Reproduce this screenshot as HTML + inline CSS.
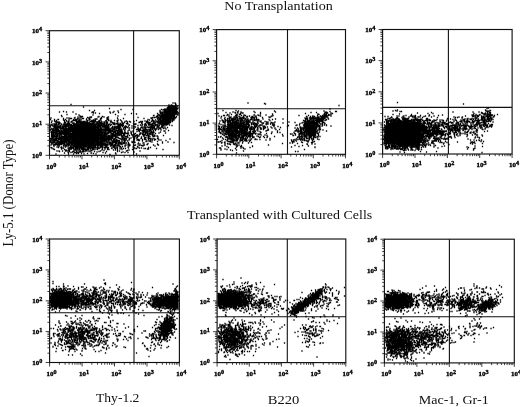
<!DOCTYPE html>
<html><head><meta charset="utf-8"><title>Figure</title>
<style>html,body{margin:0;padding:0;background:#fff}svg{display:block}</style>
</head><body>
<svg width="520" height="407" viewBox="0 0 520 407">
<rect width="520" height="407" fill="#fff"/>
<g stroke="#111" fill="none">
<rect x="49.5" y="30.7" width="129.8" height="124.6" stroke-width="1.15"/>
<path d="M49.5 105.7H179.3M133.6 30.7V155.3" stroke-width="1.1"/>
<path d="M49.5 155.3v4M49.5 155.3h-4M59.3 155.3v2.2M49.5 145.9h-2.2M65 155.3v2.2M49.5 140.4h-2.2M69 155.3v2.2M49.5 136.5h-2.2M72.2 155.3v2.2M49.5 133.5h-2.2M74.8 155.3v2.2M49.5 131.1h-2.2M76.9 155.3v2.2M49.5 129h-2.2M78.8 155.3v2.2M49.5 127.2h-2.2M80.5 155.3v2.2M49.5 125.6h-2.2M82 155.3v4M49.5 124.2h-4M91.7 155.3v2.2M49.5 114.8h-2.2M97.4 155.3v2.2M49.5 109.3h-2.2M101.5 155.3v2.2M49.5 105.4h-2.2M104.6 155.3v2.2M49.5 102.4h-2.2M107.2 155.3v2.2M49.5 99.9h-2.2M109.4 155.3v2.2M49.5 97.8h-2.2M111.3 155.3v2.2M49.5 96h-2.2M112.9 155.3v2.2M49.5 94.4h-2.2M114.4 155.3v4M49.5 93h-4M124.2 155.3v2.2M49.5 83.6h-2.2M129.9 155.3v2.2M49.5 78.1h-2.2M133.9 155.3v2.2M49.5 74.2h-2.2M137.1 155.3v2.2M49.5 71.2h-2.2M139.7 155.3v2.2M49.5 68.8h-2.2M141.8 155.3v2.2M49.5 66.7h-2.2M143.7 155.3v2.2M49.5 64.9h-2.2M145.4 155.3v2.2M49.5 63.3h-2.2M146.9 155.3v4M49.5 61.9h-4M156.6 155.3v2.2M49.5 52.5h-2.2M162.3 155.3v2.2M49.5 47h-2.2M166.4 155.3v2.2M49.5 43.1h-2.2M169.5 155.3v2.2M49.5 40.1h-2.2M172.1 155.3v2.2M49.5 37.6h-2.2M174.3 155.3v2.2M49.5 35.5h-2.2M176.2 155.3v2.2M49.5 33.7h-2.2M177.8 155.3v2.2M49.5 32.1h-2.2M179.3 155.3v4M49.5 30.7h-4" stroke-width="0.8"/>
</g>
<g font-family="'Liberation Serif',serif" font-weight="bold" font-size="7" fill="#000" stroke="#000" stroke-width="0.35">
<text x="46.3" y="168.5">10<tspan dy="-2" font-size="6.2">0</tspan></text>
<text x="32.1" y="158">10<tspan dy="-2" font-size="6.2">0</tspan></text>
<text x="78.8" y="168.5">10<tspan dy="-2" font-size="6.2">1</tspan></text>
<text x="32.1" y="126.9">10<tspan dy="-2" font-size="6.2">1</tspan></text>
<text x="111.2" y="168.5">10<tspan dy="-2" font-size="6.2">2</tspan></text>
<text x="32.1" y="95.7">10<tspan dy="-2" font-size="6.2">2</tspan></text>
<text x="143.7" y="168.5">10<tspan dy="-2" font-size="6.2">3</tspan></text>
<text x="32.1" y="64.6">10<tspan dy="-2" font-size="6.2">3</tspan></text>
<text x="176.1" y="168.5">10<tspan dy="-2" font-size="6.2">4</tspan></text>
<text x="32.1" y="33.4">10<tspan dy="-2" font-size="6.2">4</tspan></text>
</g>
<path d="M173 103zm2 0zm.5 .5zm-104.5 1zm104.5 0zm.5 0zm-4.5 .5zm-2.5 0zm2 .5zm1.5 0zm3 0zm2 .5zm-1.5 0zm-.5 0zm-2.5 0zm-4.5 .5zm1 0zm2 0zm2.5 0zm1 0zm1 .5zm-1 0zm-3 0zm-.5 0zm-.5 0zm-1 0zm-86.5 0zm84 .5zm.5 0zm3.5 0zm.5 0zm1.5 0zm1 0zm.5 0zm1.5 0zm1.5 .5zm-2.5 0zm-1 0zm-.5 0zm-1 0zm-.5 0zm-2 0zm-1 0zm-1 0zm-59 .5zm57.5 0zm3.5 0zm.5 0zm.5 0zm1 0zm.5 0zm.5 0zm.5 0zm1 0zm1 0zm1.5 0zm-.5 .5zm-2 0zm-.5 0zm-.5 0zm-1.5 0zm-1.5 0zm-.5 0zm-1.5 0zm-.5 0zm-.5 0zm-3 0zm-44 .5zm12 0zm28.5 0zm2.5 0zm1.5 0zm1.5 0zm.5 0zm1 0zm.5 0zm.5 0zm1 0zm.5 0zm1 0zm.5 0zm1.5 0zm1 0zm.5 0zm1.5 0zm-.5 .5zm-2.5 0zm-1 0zm-.5 0zm-.5 0zm-.5 0zm-.5 0zm-.5 0zm-1 0zm-1.5 0zm-.5 0zm-1 0zm-1.5 0zm-2 0zm-73.5 .5zm5 0zm65.5 0zm6.5 0zm.5 0zm1.5 0zm.5 0zm1 0zm.5 0zm1.5 0zm.5 0zm.5 0zm.5 0zm.5 0zm1 0zm.5 0zm-.5 .5zm-2 0zm-.5 0zm-1 0zm-.5 0zm-.5 0zm-.5 0zm-.5 0zm-1 0zm-.5 0zm-.5 0zm-.5 0zm-1 0zm-.5 0zm-1 0zm-46.5 0zm-54.5 .5zm50.5 0zm52.5 0zm.5 0zm.5 0zm1.5 0zm.5 0zm.5 0zm.5 0zm.5 0zm.5 0zm.5 0zm.5 0zm.5 0zm.5 0zm.5 0zm2 0zm1 0zm.5 .5zm-1 0zm-1 0zm-.5 0zm-.5 0zm-.5 0zm-.5 0zm-.5 0zm-.5 0zm-1 0zm-.5 0zm-.5 0zm-1 0zm-.5 0zm-.5 0zm-.5 0zm-1 0zm-1 0zm-.5 0zm-1 0zm-.5 0zm-1 0zm-2 0zm-1 0zm-50 0zm-16.5 0zm-1 0zm-19.5 0zm-6.5 0zm-7 0zm32.5 .5zm21 0zm5.5 0zm44 0zm2 0zm1 0zm1 0zm1.5 0zm.5 0zm1 0zm.5 0zm.5 0zm.5 0zm.5 0zm.5 0zm1 0zm.5 0zm2 0zm.5 0zm2.5 .5zm-2 0zm-3.5 0zm-.5 0zm-.5 0zm-.5 0zm-.5 0zm-.5 0zm-1 0zm-.5 0zm-1 0zm-2 0zm-.5 0zm-.5 0zm-3.5 0zm-51 0zm-15 0zm-2 0zm6 .5zm32 0zm26 0zm3 0zm3.5 0zm1.5 0zm.5 0zm1 0zm.5 0zm.5 0zm.5 0zm.5 0zm.5 0zm1 0zm.5 0zm.5 0zm1 0zm.5 0zm.5 0zm1 0zm.5 0zm1 0zm2 0zm-2.5 .5zm-.5 0zm-2 0zm-1.5 0zm-.5 0zm-.5 0zm-.5 0zm-.5 0zm-.5 0zm-.5 0zm-.5 0zm-.5 0zm-.5 0zm-1.5 0zm-1.5 0zm-1.5 0zm-26 0zm-60.5 0zm-9 .5zm48.5 0zm9.5 0zm34 0zm2 0zm2 0zm.5 0zm.5 0zm.5 0zm.5 0zm1 0zm.5 0zm1 0zm1 0zm1 0zm.5 0zm.5 0zm.5 0zm.5 0zm.5 0zm.5 0zm1.5 0zm1 0zm2 0zm1 .5zm-3.5 0zm-.5 0zm-.5 0zm-.5 0zm-1 0zm-.5 0zm-.5 0zm-.5 0zm-.5 0zm-.5 0zm-.5 0zm-.5 0zm-.5 0zm-.5 0zm-.5 0zm-.5 0zm-.5 0zm-.5 0zm-.5 0zm-1 0zm-1 0zm-.5 0zm-1 0zm-3 0zm-65.5 0zm-14 0zm-17.5 .5zm92 0zm.5 0zm3.5 0zm2 0zm2 0zm.5 0zm.5 0zm1.5 0zm1.5 0zm.5 0zm.5 0zm.5 0zm.5 0zm.5 0zm.5 0zm.5 0zm1 0zm1 0zm.5 0zm.5 0zm2 0zm.5 0zm0 .5zm-1 0zm-1 0zm-.5 0zm-.5 0zm-.5 0zm-.5 0zm-.5 0zm-.5 0zm-.5 0zm-.5 0zm-.5 0zm-.5 0zm-.5 0zm-2 0zm-.5 0zm-.5 0zm-.5 0zm-.5 0zm-1.5 0zm-1 0zm-.5 0zm-42 0zm-38 0zm-18 .5zm19 0zm1.5 0zm16.5 0zm3.5 0zm54 0zm5.5 0zm2.5 0zm.5 0zm.5 0zm.5 0zm.5 0zm1 0zm.5 0zm.5 0zm.5 0zm.5 0zm.5 0zm2 0zm1 0zm1.5 0zm2 0zm-2.5 .5zm-2.5 0zm-1.5 0zm-.5 0zm-.5 0zm-.5 0zm-.5 0zm-.5 0zm-.5 0zm-.5 0zm-1 0zm-.5 0zm-1 0zm-.5 0zm-1 0zm-.5 0zm-1.5 0zm-2.5 0zm-.5 0zm-49 0zm-4.5 0zm-6 0zm-6.5 0zm-1.5 0zm-8.5 0zm-3.5 0zm-3 .5zm5 0zm7.5 0zm3.5 0zm10.5 0zm6 0zm30.5 0zm15 0zm1.5 0zm1.5 0zm2.5 0zm1.5 0zm1 0zm.5 0zm1.5 0zm1 0zm.5 0zm.5 0zm.5 0zm1.5 0zm1 0zm1 0zm.5 0zm.5 0zm.5 0zm1.5 0zm1.5 0zm.5 0zm1.5 0zm.5 0zm-1.5 .5zm-.5 0zm-2 0zm-.5 0zm-1 0zm-1 0zm-1.5 0zm-.5 0zm-.5 0zm-.5 0zm-.5 0zm-.5 0zm-.5 0zm-.5 0zm-.5 0zm-3 0zm-1 0zm-2 0zm-6 0zm-.5 0zm-.5 0zm-33.5 0zm-10.5 0zm-18.5 0zm-10.5 0zm-3.5 0zm-5.5 0zm-2 0zm-16 0zm12.5 .5zm7 0zm1 0zm11 0zm.5 0zm.5 0zm6 0zm11 0zm1 0zm22 0zm20.5 0zm7.5 0zm.5 0zm6 0zm1.5 0zm4 0zm.5 0zm1.5 0zm.5 0zm.5 0zm.5 0zm1.5 0zm.5 0zm.5 0zm.5 0zm.5 0zm.5 0zm1 0zm1 0zm2 0zm-1 .5zm-1 0zm-2 0zm-.5 0zm-.5 0zm-1.5 0zm-.5 0zm-2 0zm-.5 0zm-.5 0zm-1 0zm-.5 0zm-.5 0zm-.5 0zm-.5 0zm-2.5 0zm-2 0zm-49 0zm-.5 0zm-7.5 0zm-3.5 0zm-1 0zm-.5 0zm-.5 0zm-8.5 0zm-5.5 0zm-2 0zm-1.5 0zm-27 .5zm4 0zm3.5 0zm.5 0zm7 0zm3.5 0zm4.5 0zm2 0zm.5 0zm.5 0zm2.5 0zm11 0zm17 0zm11 0zm30 0zm4.5 0zm6.5 0zm.5 0zm1 0zm1.5 0zm1 0zm.5 0zm.5 0zm.5 0zm.5 0zm.5 0zm1 0zm1 0zm.5 0zm1 0zm.5 0zm.5 0zm.5 0zm2 0zm1.5 .5zm-.5 0zm-1 0zm-1.5 0zm-1 0zm-.5 0zm-2.5 0zm-1 0zm-.5 0zm-1 0zm-1 0zm-.5 0zm-1 0zm-1.5 0zm-5 0zm-6 0zm-29 0zm-12 0zm-13.5 0zm-1.5 0zm-4.5 0zm-2.5 0zm-5.5 0zm-1.5 0zm-5.5 0zm-10.5 0zm-7 .5zm8 0zm2 0zm7 0zm1 0zm.5 0zm1.5 0zm2.5 0zm.5 0zm8 0zm4.5 0zm3.5 0zm4 0zm1.5 0zm7.5 0zm.5 0zm2 0zm3.5 0zm3.5 0zm18.5 0zm16.5 0zm5.5 0zm2 0zm1 0zm1 0zm.5 0zm.5 0zm.5 0zm.5 0zm1 0zm.5 0zm.5 0zm1 0zm1.5 0zm.5 0zm3 0zm0 .5zm-1.5 0zm-.5 0zm-1.5 0zm-.5 0zm-.5 0zm-1 0zm-.5 0zm-1 0zm-.5 0zm-1 0zm-.5 0zm-.5 0zm-.5 0zm-.5 0zm-1.5 0zm-.5 0zm-1.5 0zm-1.5 0zm-3 0zm-2 0zm-4.5 0zm-2.5 0zm-18.5 0zm-5 0zm-4.5 0zm-10.5 0zm-1 0zm-6.5 0zm-3.5 0zm-1 0zm-1 0zm-1 0zm-1 0zm-10.5 0zm-3 0zm-1.5 0zm-.5 0zm-3.5 0zm-3.5 0zm-2.5 0zm-2 0zm-10 0zm-2.5 0zm3 .5zm13 0zm3.5 0zm5.5 0zm.5 0zm1 0zm.5 0zm2 0zm2 0zm1 0zm1 0zm2.5 0zm2.5 0zm.5 0zm2 0zm.5 0zm5.5 0zm19 0zm7.5 0zm4.5 0zm4.5 0zm7 0zm1.5 0zm4 0zm1 0zm4 0zm2 0zm5 0zm.5 0zm2 0zm.5 0zm.5 0zm.5 0zm.5 0zm.5 0zm.5 0zm.5 0zm.5 0zm.5 0zm.5 0zm.5 0zm.5 0zm.5 0zm.5 0zm.5 0zm1.5 0zm2.5 0zm-5 .5zm-1 0zm-1.5 0zm-.5 0zm-.5 0zm-1.5 0zm-.5 0zm-.5 0zm-.5 0zm-3.5 0zm-1.5 0zm-.5 0zm-.5 0zm-7 0zm-1 0zm-7 0zm-9.5 0zm-3 0zm-5.5 0zm-10.5 0zm-1 0zm-3.5 0zm-3 0zm-2 0zm-.5 0zm-2 0zm-.5 0zm-1.5 0zm-1 0zm-.5 0zm-1.5 0zm-1 0zm-1.5 0zm-4.5 0zm-1 0zm-1.5 0zm-3.5 0zm-1 0zm-1 0zm-2 0zm-6 0zm-.5 0zm-3 0zm-9 0zm-1.5 0zm-1.5 0zm-4.5 .5zm5 0zm1.5 0zm1.5 0zm5 0zm1 0zm3 0zm8 0zm1.5 0zm1.5 0zm.5 0zm2 0zm.5 0zm1 0zm.5 0zm1.5 0zm1 0zm.5 0zm.5 0zm.5 0zm4 0zm1.5 0zm5.5 0zm1.5 0zm4 0zm2 0zm1 0zm5 0zm9.5 0zm2.5 0zm14.5 0zm3 0zm4.5 0zm2 0zm.5 0zm1 0zm8 0zm.5 0zm.5 0zm1.5 0zm1.5 0zm.5 0zm1 0zm.5 0zm.5 0zm3 0zm1.5 0zm1.5 0zm-1 .5zm-.5 0zm-.5 0zm-.5 0zm-.5 0zm-1 0zm-.5 0zm-1.5 0zm-1 0zm-.5 0zm-.5 0zm-.5 0zm-1.5 0zm-1 0zm-4.5 0zm-.5 0zm-1 0zm-3.5 0zm-8 0zm-.5 0zm-14 0zm-5 0zm-4.5 0zm-3.5 0zm-1 0zm-6 0zm-1 0zm-.5 0zm-1.5 0zm-5.5 0zm-5.5 0zm-4 0zm-1 0zm-.5 0zm-3.5 0zm-.5 0zm-.5 0zm-.5 0zm-1 0zm-.5 0zm-1.5 0zm-1.5 0zm-.5 0zm-.5 0zm-3.5 0zm-.5 0zm-.5 0zm-.5 0zm-3.5 0zm-4.5 0zm-4.5 0zm-1.5 0zm-2.5 .5zm.5 0zm3.5 0zm4 0zm3 0zm1 0zm.5 0zm1 0zm4 0zm3 0zm1 0zm3 0zm.5 0zm2 0zm3.5 0zm.5 0zm.5 0zm.5 0zm.5 0zm.5 0zm.5 0zm.5 0zm.5 0zm2 0zm1.5 0zm3 0zm1 0zm2 0zm1 0zm.5 0zm1.5 0zm3.5 0zm6.5 0zm1 0zm1 0zm1.5 0zm1 0zm2.5 0zm.5 0zm2 0zm1 0zm3 0zm7 0zm8.5 0zm3.5 0zm2.5 0zm.5 0zm.5 0zm3.5 0zm2 0zm.5 0zm4.5 0zm.5 0zm1 0zm.5 0zm2 0zm.5 0zm.5 0zm.5 0zm.5 0zm.5 0zm1 0zm1 0zm.5 0zm-.5 .5zm-1 0zm-.5 0zm-1 0zm-.5 0zm-1.5 0zm-1.5 0zm-1.5 0zm-.5 0zm-2 0zm-5 0zm-1 0zm-7 0zm-9 0zm-1 0zm-7 0zm-.5 0zm-7.5 0zm-2.5 0zm-.5 0zm-2.5 0zm-1 0zm-3.5 0zm-3.5 0zm-2 0zm-.5 0zm-1.5 0zm-.5 0zm-1.5 0zm-2 0zm-1.5 0zm-.5 0zm-.5 0zm-1 0zm-3.5 0zm-2.5 0zm-1.5 0zm-.5 0zm-1 0zm-.5 0zm-.5 0zm-1 0zm-1.5 0zm-.5 0zm-1 0zm-1 0zm-2 0zm-1.5 0zm-1 0zm-1 0zm-1 0zm-5 0zm-3.5 0zm-3.5 0zm-2.5 0zm-4.5 0zm-1.5 0zm-2 .5zm4.5 0zm1.5 0zm1.5 0zm5.5 0zm2 0zm.5 0zm1 0zm1 0zm1 0zm.5 0zm1.5 0zm6.5 0zm1.5 0zm1.5 0zm1 0zm2 0zm.5 0zm1.5 0zm1 0zm.5 0zm2 0zm2 0zm1 0zm1 0zm.5 0zm1.5 0zm1 0zm4 0zm1 0zm1.5 0zm1 0zm2.5 0zm1.5 0zm1 0zm2.5 0zm2.5 0zm1 0zm3 0zm1 0zm1.5 0zm.5 0zm1 0zm12.5 0zm.5 0zm7.5 0zm3.5 0zm2.5 0zm.5 0zm1 0zm1 0zm1 0zm.5 0zm2.5 0zm1 0zm2 0zm3.5 0zm.5 0zm1 0zm2 0zm.5 0zm1 0zm1 0zm2 .5zm-3 0zm-1.5 0zm-.5 0zm-1 0zm-1.5 0zm-4 0zm-1 0zm-.5 0zm-.5 0zm-7 0zm-4.5 0zm-4 0zm-11 0zm-6.5 0zm-.5 0zm-2 0zm-.5 0zm-13.5 0zm-.5 0zm-2 0zm-2.5 0zm-2 0zm-4 0zm-3 0zm-.5 0zm-1 0zm-.5 0zm-1 0zm-1.5 0zm-2 0zm-1 0zm-.5 0zm-.5 0zm-.5 0zm-.5 0zm-.5 0zm-.5 0zm-.5 0zm-1 0zm-.5 0zm-.5 0zm-.5 0zm-.5 0zm-.5 0zm-.5 0zm-1.5 0zm-2 0zm-.5 0zm-3 0zm-.5 0zm-1.5 0zm-.5 0zm-1.5 0zm-2 0zm-1.5 0zm-6.5 0zm-2 0zm-3 0zm1 .5zm2 0zm5.5 0zm.5 0zm.5 0zm3.5 0zm.5 0zm3.5 0zm.5 0zm1.5 0zm.5 0zm1.5 0zm2 0zm1 0zm.5 0zm.5 0zm.5 0zm.5 0zm1 0zm.5 0zm.5 0zm.5 0zm.5 0zm.5 0zm.5 0zm.5 0zm1 0zm2 0zm1 0zm.5 0zm1 0zm.5 0zm.5 0zm.5 0zm1 0zm.5 0zm.5 0zm2.5 0zm.5 0zm1.5 0zm1.5 0zm.5 0zm1 0zm1 0zm1.5 0zm.5 0zm1.5 0zm1 0zm1 0zm5.5 0zm7.5 0zm1 0zm2.5 0zm2 0zm14.5 0zm4 0zm3 0zm1.5 0zm2.5 0zm2 0zm3 0zm1.5 0zm2 0zm2 0zm4 0zm8.5 0zm-9.5 .5zm-5 0zm-4.5 0zm-1 0zm-20 0zm-3.5 0zm-3 0zm-5.5 0zm-11.5 0zm-.5 0zm-.5 0zm-1.5 0zm-1 0zm-.5 0zm-1.5 0zm-.5 0zm-.5 0zm-1.5 0zm-.5 0zm-1.5 0zm-.5 0zm-1 0zm-2.5 0zm-1 0zm-.5 0zm-.5 0zm-.5 0zm-.5 0zm-.5 0zm-1 0zm-1 0zm-.5 0zm-.5 0zm-1 0zm-1.5 0zm-1 0zm-.5 0zm-1.5 0zm-1 0zm-.5 0zm-.5 0zm-1.5 0zm-.5 0zm-.5 0zm-1.5 0zm-1.5 0zm-.5 0zm-.5 0zm-.5 0zm-.5 0zm-1.5 0zm-.5 0zm-2.5 0zm-1 0zm-.5 0zm-.5 0zm-1 0zm-1 0zm-6.5 0zm-2.5 0zm-.5 0zm-1 0zm-1 0zm-2.5 0zm3.5 .5zm1 0zm.5 0zm1.5 0zm1 0zm1 0zm1 0zm2.5 0zm.5 0zm1 0zm1 0zm1.5 0zm1.5 0zm2.5 0zm1 0zm1 0zm.5 0zm1.5 0zm1 0zm.5 0zm.5 0zm1 0zm.5 0zm.5 0zm.5 0zm1 0zm.5 0zm.5 0zm1 0zm1 0zm.5 0zm.5 0zm1.5 0zm1 0zm.5 0zm.5 0zm1 0zm.5 0zm.5 0zm1.5 0zm.5 0zm1 0zm1 0zm.5 0zm1 0zm.5 0zm1.5 0zm1 0zm.5 0zm1.5 0zm3 0zm.5 0zm1 0zm1.5 0zm.5 0zm1 0zm1.5 0zm3.5 0zm2.5 0zm1.5 0zm.5 0zm.5 0zm1 0zm.5 0zm3.5 0zm4 0zm7.5 0zm11 0zm6 0zm.5 0zm1 0zm2 0zm4 0zm3 0zm.5 0zm1 0zm2 .5zm-2 0zm-5 0zm-.5 0zm-.5 0zm-4 0zm-.5 0zm-2 0zm-.5 0zm-2.5 0zm-2.5 0zm-1 0zm-2 0zm-6.5 0zm-.5 0zm-8.5 0zm-1 0zm-1 0zm-4 0zm-.5 0zm-.5 0zm-.5 0zm-1 0zm-.5 0zm-3.5 0zm-5.5 0zm-.5 0zm-2.5 0zm-1 0zm-2 0zm-2 0zm-1.5 0zm-.5 0zm-.5 0zm-.5 0zm-1 0zm-.5 0zm-.5 0zm-1 0zm-.5 0zm-1 0zm-1 0zm-1 0zm-.5 0zm-1 0zm-.5 0zm-1 0zm-1 0zm-.5 0zm-.5 0zm-1 0zm-2 0zm-.5 0zm-1 0zm-.5 0zm-.5 0zm-1 0zm-1 0zm-.5 0zm-.5 0zm-1 0zm-.5 0zm-.5 0zm-1 0zm-1.5 0zm-.5 0zm-.5 0zm-.5 0zm-1 0zm-1.5 0zm-3 0zm-.5 0zm-2.5 0zm-2 0zm-1.5 0zm-3 0zm-1 0zm-5 0zm3.5 .5zm.5 0zm2 0zm.5 0zm.5 0zm1.5 0zm1 0zm.5 0zm2 0zm.5 0zm6.5 0zm.5 0zm1 0zm.5 0zm.5 0zm.5 0zm.5 0zm1.5 0zm1 0zm.5 0zm.5 0zm.5 0zm1 0zm.5 0zm.5 0zm.5 0zm.5 0zm1 0zm.5 0zm1 0zm1.5 0zm.5 0zm1 0zm.5 0zm1 0zm.5 0zm.5 0zm.5 0zm.5 0zm.5 0zm1 0zm.5 0zm2 0zm.5 0zm.5 0zm.5 0zm.5 0zm.5 0zm1.5 0zm.5 0zm6.5 0zm11 0zm.5 0zm2.5 0zm1 0zm6.5 0zm2 0zm10.5 0zm3 0zm.5 0zm4.5 0zm2.5 0zm.5 0zm1.5 0zm.5 0zm1 0zm1.5 0zm5.5 0zm3 0zm3 0zm2.5 0zm-2.5 .5zm-4.5 0zm-1.5 0zm-2 0zm-2.5 0zm-1.5 0zm-2 0zm-7 0zm-1.5 0zm-10.5 0zm-2.5 0zm-.5 0zm-4 0zm-1.5 0zm-6 0zm-1.5 0zm-3.5 0zm-.5 0zm-.5 0zm-2.5 0zm-1 0zm-.5 0zm-1 0zm-.5 0zm-4.5 0zm-.5 0zm-.5 0zm-1.5 0zm-1 0zm-2 0zm-.5 0zm-.5 0zm-2.5 0zm-1 0zm-1.5 0zm-.5 0zm-.5 0zm-.5 0zm-.5 0zm-.5 0zm-.5 0zm-.5 0zm-.5 0zm-1 0zm-1.5 0zm-1 0zm-1.5 0zm-1.5 0zm-1 0zm-1 0zm-.5 0zm-.5 0zm-.5 0zm-.5 0zm-.5 0zm-1.5 0zm-.5 0zm-1.5 0zm-.5 0zm-1 0zm-1.5 0zm-2.5 0zm-.5 0zm-1.5 0zm-1 0zm-.5 0zm-2.5 0zm-2 0zm-2 0zm-1 0zm-3 .5zm3 0zm.5 0zm1.5 0zm.5 0zm.5 0zm2 0zm.5 0zm1 0zm1 0zm3.5 0zm.5 0zm.5 0zm2.5 0zm1 0zm.5 0zm.5 0zm.5 0zm1 0zm.5 0zm.5 0zm1.5 0zm.5 0zm1.5 0zm1 0zm.5 0zm.5 0zm1 0zm.5 0zm.5 0zm.5 0zm.5 0zm.5 0zm.5 0zm.5 0zm.5 0zm.5 0zm1 0zm.5 0zm1 0zm1 0zm.5 0zm1 0zm.5 0zm1 0zm.5 0zm.5 0zm.5 0zm.5 0zm.5 0zm1 0zm1 0zm2.5 0zm2.5 0zm.5 0zm2.5 0zm1.5 0zm2 0zm3.5 0zm3 0zm.5 0zm2.5 0zm1.5 0zm1 0zm1.5 0zm13 0zm11.5 0zm7 0zm.5 0zm1.5 0zm2.5 0zm3 0zm3.5 0zm2.5 .5zm-9.5 0zm-1 0zm-1 0zm-4 0zm-10 0zm-1.5 0zm-1 0zm-12.5 0zm-2 0zm-2.5 0zm-2.5 0zm-4.5 0zm-1 0zm-2 0zm-1.5 0zm-.5 0zm-.5 0zm-1 0zm-.5 0zm-.5 0zm-1 0zm-3.5 0zm-1 0zm-.5 0zm-2 0zm-1 0zm-1.5 0zm-.5 0zm-.5 0zm-2.5 0zm-.5 0zm-.5 0zm-.5 0zm-1 0zm-.5 0zm-.5 0zm-1 0zm-1 0zm-.5 0zm-.5 0zm-.5 0zm-1.5 0zm-.5 0zm-.5 0zm-1.5 0zm-.5 0zm-.5 0zm-.5 0zm-1 0zm-.5 0zm-.5 0zm-.5 0zm-1 0zm-.5 0zm-1 0zm-.5 0zm-.5 0zm-.5 0zm-1.5 0zm-.5 0zm-.5 0zm-1 0zm-.5 0zm-1 0zm-.5 0zm-1 0zm-.5 0zm-.5 0zm-1 0zm-1 0zm-1 0zm-2 0zm-5.5 0zm-2 0zm-1.5 0zm-1 0zm-.5 .5zm2.5 0zm1 0zm2.5 0zm2 0zm2.5 0zm4 0zm1 0zm1 0zm4 0zm.5 0zm.5 0zm.5 0zm1 0zm2 0zm.5 0zm.5 0zm.5 0zm1 0zm.5 0zm.5 0zm.5 0zm.5 0zm.5 0zm1 0zm.5 0zm.5 0zm.5 0zm.5 0zm1 0zm1 0zm.5 0zm.5 0zm.5 0zm.5 0zm.5 0zm.5 0zm1 0zm.5 0zm.5 0zm1 0zm1.5 0zm.5 0zm.5 0zm1.5 0zm.5 0zm.5 0zm2.5 0zm.5 0zm1 0zm2 0zm1 0zm1.5 0zm4.5 0zm1 0zm3 0zm1 0zm1.5 0zm5.5 0zm15 0zm.5 0zm3.5 0zm3.5 0zm1.5 0zm1 0zm1.5 0zm1.5 0zm.5 0zm.5 0zm.5 0zm1.5 0zm6 0zm2.5 0zm0 .5zm-10 0zm-5 0zm-1.5 0zm-1.5 0zm-2.5 0zm-1 0zm-10 0zm-.5 0zm-4.5 0zm-2.5 0zm-1 0zm-1 0zm-.5 0zm-7 0zm-4 0zm-4.5 0zm-1 0zm-1.5 0zm-.5 0zm-3 0zm-2.5 0zm-.5 0zm-.5 0zm-.5 0zm-.5 0zm-1 0zm-.5 0zm-.5 0zm-.5 0zm-.5 0zm-.5 0zm-.5 0zm-1 0zm-1 0zm-1.5 0zm-1 0zm-1 0zm-.5 0zm-.5 0zm-1 0zm-.5 0zm-1.5 0zm-.5 0zm-2 0zm-2 0zm-1 0zm-.5 0zm-1.5 0zm-1.5 0zm-.5 0zm-.5 0zm-2 0zm-1.5 0zm-.5 0zm-.5 0zm-7 0zm-1 0zm-.5 0zm-1.5 0zm-1.5 0zm-.5 0zm-1 0zm-2 0zm2 .5zm2 0zm.5 0zm1.5 0zm1 0zm1 0zm1.5 0zm2 0zm1.5 0zm.5 0zm.5 0zm.5 0zm.5 0zm.5 0zm3 0zm.5 0zm1.5 0zm1 0zm.5 0zm.5 0zm.5 0zm.5 0zm.5 0zm1.5 0zm.5 0zm1.5 0zm.5 0zm1 0zm1.5 0zm1 0zm.5 0zm.5 0zm.5 0zm.5 0zm1 0zm1 0zm.5 0zm.5 0zm.5 0zm.5 0zm.5 0zm.5 0zm.5 0zm.5 0zm1 0zm.5 0zm.5 0zm.5 0zm.5 0zm.5 0zm1.5 0zm1 0zm.5 0zm.5 0zm1.5 0zm.5 0zm.5 0zm3.5 0zm2.5 0zm1 0zm1 0zm.5 0zm1.5 0zm1 0zm1.5 0zm1 0zm3 0zm.5 0zm1 0zm.5 0zm.5 0zm2 0zm1 0zm.5 0zm16.5 0zm3.5 0zm4 0zm4 0zm.5 0zm3 0zm2 0zm13 0zm-3.5 .5zm-1 0zm-14 0zm-.5 0zm-.5 0zm-1.5 0zm-1.5 0zm-2.5 0zm-1 0zm-3.5 0zm-6 0zm-5 0zm-3 0zm-4.5 0zm-1.5 0zm-2 0zm-2 0zm-2.5 0zm-1 0zm-1 0zm-1.5 0zm-3.5 0zm-.5 0zm-5 0zm-.5 0zm-1 0zm-.5 0zm-2.5 0zm-.5 0zm-.5 0zm-.5 0zm-.5 0zm-2 0zm-2 0zm-.5 0zm-.5 0zm-.5 0zm-.5 0zm-.5 0zm-.5 0zm-.5 0zm-.5 0zm-.5 0zm-1.5 0zm-.5 0zm-.5 0zm-.5 0zm-.5 0zm-1 0zm-1 0zm-.5 0zm-.5 0zm-1 0zm-.5 0zm-1 0zm-1 0zm-1.5 0zm-.5 0zm-.5 0zm-.5 0zm-.5 0zm-2 0zm-1.5 0zm-.5 0zm-1 0zm-1.5 0zm-3 0zm-.5 0zm-1.5 0zm-.5 0zm-1 0zm-1.5 0zm-.5 0zm-1 0zm-.5 0zm-1.5 0zm-.5 0zm-1.5 .5zm2 0zm3 0zm.5 0zm.5 0zm1 0zm3 0zm1 0zm.5 0zm3 0zm1 0zm.5 0zm2 0zm1 0zm.5 0zm1 0zm.5 0zm.5 0zm1 0zm1 0zm.5 0zm.5 0zm1 0zm.5 0zm.5 0zm.5 0zm1 0zm.5 0zm.5 0zm.5 0zm.5 0zm.5 0zm.5 0zm.5 0zm.5 0zm.5 0zm.5 0zm1.5 0zm.5 0zm.5 0zm.5 0zm.5 0zm.5 0zm.5 0zm.5 0zm.5 0zm.5 0zm.5 0zm1 0zm1 0zm.5 0zm2.5 0zm.5 0zm.5 0zm.5 0zm1 0zm1.5 0zm1 0zm1 0zm3 0zm3 0zm.5 0zm.5 0zm.5 0zm1 0zm1.5 0zm1.5 0zm1 0zm1 0zm2 0zm2.5 0zm11 0zm2 0zm4 0zm2.5 0zm5 0zm.5 0zm.5 0zm6 0zm2 0zm7 .5zm-7.5 0zm-5 0zm-1 0zm-4 0zm-18 0zm-2.5 0zm-1 0zm-1 0zm-.5 0zm-5.5 0zm-.5 0zm-4 0zm-1.5 0zm-2.5 0zm-2 0zm-.5 0zm-2 0zm-.5 0zm-2 0zm-.5 0zm-.5 0zm-.5 0zm-2.5 0zm-.5 0zm-.5 0zm-.5 0zm-.5 0zm-1 0zm-.5 0zm-.5 0zm-1 0zm-1 0zm-.5 0zm-.5 0zm-.5 0zm-.5 0zm-.5 0zm-.5 0zm-.5 0zm-.5 0zm-.5 0zm-.5 0zm-.5 0zm-.5 0zm-.5 0zm-.5 0zm-.5 0zm-.5 0zm-.5 0zm-.5 0zm-1 0zm-.5 0zm-.5 0zm-.5 0zm-.5 0zm-.5 0zm-1 0zm-1.5 0zm-.5 0zm-.5 0zm-.5 0zm-3 0zm-.5 0zm-.5 0zm-.5 0zm-4 0zm-1 0zm-.5 0zm-1.5 0zm-.5 0zm-1.5 0zm-3 0zm-4.5 0zm-.5 0zm1 .5zm1 0zm.5 0zm1 0zm2.5 0zm2.5 0zm.5 0zm1 0zm.5 0zm.5 0zm.5 0zm.5 0zm.5 0zm1 0zm1 0zm2 0zm.5 0zm2.5 0zm2.5 0zm.5 0zm.5 0zm.5 0zm.5 0zm1.5 0zm.5 0zm1 0zm.5 0zm.5 0zm.5 0zm1 0zm.5 0zm1 0zm.5 0zm.5 0zm1 0zm.5 0zm.5 0zm.5 0zm.5 0zm.5 0zm.5 0zm.5 0zm.5 0zm.5 0zm.5 0zm.5 0zm.5 0zm.5 0zm.5 0zm.5 0zm.5 0zm.5 0zm1 0zm1.5 0zm.5 0zm.5 0zm1 0zm3 0zm1 0zm1.5 0zm2.5 0zm4 0zm1.5 0zm3 0zm.5 0zm.5 0zm3 0zm1 0zm1 0zm1.5 0zm.5 0zm3 0zm18.5 0zm1 0zm1.5 0zm2 0zm2.5 0zm2 0zm2 0zm11.5 .5zm-6.5 0zm-8 0zm-4.5 0zm-.5 0zm-5 0zm-.5 0zm-9 0zm-.5 0zm-2.5 0zm-1 0zm-2 0zm-3 0zm-.5 0zm-5 0zm-1.5 0zm-2 0zm-2.5 0zm-2 0zm-.5 0zm-1 0zm-1.5 0zm-1 0zm-.5 0zm-1.5 0zm-.5 0zm-.5 0zm-2.5 0zm-.5 0zm-1 0zm-.5 0zm-2.5 0zm-.5 0zm-.5 0zm-.5 0zm-.5 0zm-.5 0zm-.5 0zm-1 0zm-1.5 0zm-.5 0zm-.5 0zm-.5 0zm-.5 0zm-.5 0zm-.5 0zm-.5 0zm-.5 0zm-.5 0zm-.5 0zm-.5 0zm-.5 0zm-.5 0zm-.5 0zm-3.5 0zm-.5 0zm-1.5 0zm-.5 0zm-.5 0zm-1 0zm-1 0zm-.5 0zm-.5 0zm-.5 0zm-4 0zm-.5 0zm-.5 0zm-1 0zm-1 0zm-1 0zm-1.5 0zm-.5 0zm-2 0zm-1 0zm-.5 0zm-2 0zm-.5 0zm-1.5 0zm-.5 0zm-1.5 0zm-.5 0zm-1 .5zm2 0zm2 0zm1.5 0zm.5 0zm1 0zm1.5 0zm.5 0zm1 0zm1.5 0zm2.5 0zm.5 0zm1 0zm3 0zm1 0zm1 0zm.5 0zm2 0zm.5 0zm1 0zm.5 0zm.5 0zm1 0zm1 0zm.5 0zm.5 0zm1 0zm.5 0zm.5 0zm.5 0zm.5 0zm.5 0zm.5 0zm.5 0zm.5 0zm1 0zm.5 0zm.5 0zm.5 0zm3 0zm1 0zm.5 0zm.5 0zm1 0zm1 0zm.5 0zm.5 0zm1 0zm.5 0zm.5 0zm.5 0zm1 0zm2 0zm1 0zm.5 0zm2 0zm.5 0zm1 0zm.5 0zm1.5 0zm3.5 0zm1 0zm3 0zm2.5 0zm.5 0zm3.5 0zm1.5 0zm1 0zm1.5 0zm1 0zm8.5 0zm4.5 0zm2.5 0zm.5 0zm2.5 0zm3.5 0zm1 0zm3 0zm2.5 0zm-3 .5zm-2 0zm-.5 0zm-1 0zm-1.5 0zm-2 0zm-5 0zm-6 0zm-3 0zm-7.5 0zm-3 0zm-1 0zm-1.5 0zm-2 0zm-4 0zm-1.5 0zm-4.5 0zm-.5 0zm-1.5 0zm-.5 0zm-2.5 0zm-.5 0zm-1.5 0zm-1.5 0zm-.5 0zm-.5 0zm-.5 0zm-.5 0zm-.5 0zm-.5 0zm-1 0zm-.5 0zm-1 0zm-1 0zm-.5 0zm-.5 0zm-.5 0zm-.5 0zm-.5 0zm-.5 0zm-.5 0zm-.5 0zm-.5 0zm-.5 0zm-.5 0zm-1 0zm-1 0zm-.5 0zm-.5 0zm-.5 0zm-1 0zm-.5 0zm-.5 0zm-.5 0zm-.5 0zm-.5 0zm-.5 0zm-1 0zm-.5 0zm-1 0zm-.5 0zm-.5 0zm-.5 0zm-.5 0zm-.5 0zm-.5 0zm-.5 0zm-.5 0zm-.5 0zm-.5 0zm-2 0zm-.5 0zm-1 0zm-1 0zm-1 0zm-2 0zm-.5 0zm-1 0zm-3 0zm-3.5 0zm-2 0zm-.5 .5zm4.5 0zm1.5 0zm1 0zm.5 0zm.5 0zm3 0zm.5 0zm.5 0zm2 0zm.5 0zm.5 0zm1 0zm1 0zm1.5 0zm.5 0zm.5 0zm1 0zm.5 0zm.5 0zm.5 0zm.5 0zm.5 0zm2 0zm.5 0zm1 0zm.5 0zm1 0zm.5 0zm.5 0zm.5 0zm.5 0zm.5 0zm.5 0zm.5 0zm.5 0zm.5 0zm.5 0zm.5 0zm1 0zm.5 0zm1.5 0zm.5 0zm.5 0zm.5 0zm.5 0zm.5 0zm.5 0zm.5 0zm1 0zm1 0zm.5 0zm.5 0zm1 0zm1 0zm.5 0zm1.5 0zm.5 0zm1 0zm4 0zm.5 0zm1 0zm4 0zm1.5 0zm1 0zm1.5 0zm2.5 0zm1 0zm1 0zm1.5 0zm2.5 0zm4.5 0zm11.5 0zm3 0zm1 0zm1 0zm6.5 0zm3 .5zm-1.5 0zm-5 0zm-2.5 0zm-1.5 0zm-6 0zm-.5 0zm-3 0zm-1 0zm-.5 0zm-.5 0zm-7.5 0zm-3 0zm-.5 0zm-1.5 0zm-1.5 0zm-2 0zm-1 0zm-1 0zm-7 0zm-3 0zm-.5 0zm-.5 0zm-2 0zm-.5 0zm-2 0zm-1 0zm-1 0zm-1 0zm-2.5 0zm-.5 0zm-.5 0zm-.5 0zm-.5 0zm-.5 0zm-.5 0zm-1 0zm-1 0zm-.5 0zm-1 0zm-1 0zm-.5 0zm-.5 0zm-.5 0zm-.5 0zm-.5 0zm-1 0zm-.5 0zm-.5 0zm-.5 0zm-.5 0zm-1 0zm-.5 0zm-.5 0zm-.5 0zm-.5 0zm-.5 0zm-.5 0zm-.5 0zm-.5 0zm-.5 0zm-.5 0zm-.5 0zm-.5 0zm-.5 0zm-.5 0zm-.5 0zm-.5 0zm-1.5 0zm-1 0zm-1.5 0zm-1 0zm-5 0zm-1.5 0zm-3 0zm-2 0zm-2 0zm-1 0zm2 .5zm2.5 0zm.5 0zm3 0zm5 0zm1 0zm5 0zm1 0zm.5 0zm.5 0zm.5 0zm.5 0zm.5 0zm.5 0zm.5 0zm1.5 0zm.5 0zm1.5 0zm.5 0zm.5 0zm.5 0zm.5 0zm.5 0zm.5 0zm.5 0zm.5 0zm.5 0zm.5 0zm.5 0zm.5 0zm.5 0zm.5 0zm.5 0zm.5 0zm.5 0zm.5 0zm.5 0zm.5 0zm.5 0zm.5 0zm.5 0zm1 0zm1 0zm.5 0zm.5 0zm.5 0zm1 0zm.5 0zm.5 0zm2 0zm1.5 0zm.5 0zm2.5 0zm.5 0zm1.5 0zm1 0zm.5 0zm3 0zm1 0zm1.5 0zm.5 0zm.5 0zm.5 0zm.5 0zm2.5 0zm3.5 0zm2 0zm3 0zm.5 0zm5 0zm3.5 0zm3 0zm1.5 0zm9 0zm1.5 0zm1 0zm3.5 0zm2 0zm9 0zm-6 .5zm-.5 0zm-2 0zm-7 0zm-4 0zm-.5 0zm-4.5 0zm-1 0zm-1 0zm-1.5 0zm-8 0zm-3 0zm-1.5 0zm-.5 0zm-1 0zm-4.5 0zm-1.5 0zm-1.5 0zm-2 0zm-1 0zm-2.5 0zm-3 0zm-1 0zm-1 0zm-1 0zm-1.5 0zm-1 0zm-2 0zm-.5 0zm-.5 0zm-.5 0zm-.5 0zm-.5 0zm-.5 0zm-.5 0zm-.5 0zm-.5 0zm-.5 0zm-.5 0zm-1.5 0zm-1.5 0zm-.5 0zm-.5 0zm-.5 0zm-.5 0zm-.5 0zm-.5 0zm-1 0zm-.5 0zm-.5 0zm-.5 0zm-.5 0zm-.5 0zm-.5 0zm-.5 0zm-.5 0zm-.5 0zm-1 0zm-.5 0zm-.5 0zm-1 0zm-.5 0zm-.5 0zm-.5 0zm-.5 0zm-.5 0zm-.5 0zm-1.5 0zm-.5 0zm-1 0zm-.5 0zm-.5 0zm-.5 0zm-1.5 0zm-2 0zm-1 0zm-4 0zm-.5 0zm-.5 0zm-1.5 0zm-.5 0zm-1.5 0zm-.5 0zm-4 0zm-1 0zm-.5 .5zm2 0zm.5 0zm.5 0zm.5 0zm.5 0zm.5 0zm1 0zm.5 0zm1.5 0zm.5 0zm2 0zm1.5 0zm1 0zm2 0zm1 0zm1 0zm2 0zm1.5 0zm1.5 0zm.5 0zm1 0zm1 0zm1.5 0zm.5 0zm.5 0zm1 0zm.5 0zm.5 0zm.5 0zm.5 0zm.5 0zm1 0zm1 0zm.5 0zm.5 0zm1 0zm.5 0zm.5 0zm.5 0zm.5 0zm.5 0zm.5 0zm.5 0zm.5 0zm.5 0zm2.5 0zm.5 0zm1 0zm.5 0zm.5 0zm1 0zm.5 0zm.5 0zm.5 0zm1 0zm2.5 0zm.5 0zm2.5 0zm1.5 0zm1 0zm.5 0zm2 0zm.5 0zm1 0zm4.5 0zm10.5 0zm1 0zm8.5 0zm15 0zm3 0zm1 0zm4 .5zm-9.5 0zm-7 0zm-7.5 0zm-1 0zm-6 0zm-5 0zm-6 0zm-.5 0zm-2.5 0zm-2 0zm-.5 0zm-.5 0zm-.5 0zm-1 0zm-1 0zm-.5 0zm-3.5 0zm-1 0zm-4.5 0zm-.5 0zm-2 0zm-.5 0zm-.5 0zm-1.5 0zm-.5 0zm-.5 0zm-.5 0zm-.5 0zm-.5 0zm-.5 0zm-.5 0zm-.5 0zm-.5 0zm-.5 0zm-.5 0zm-.5 0zm-.5 0zm-.5 0zm-.5 0zm-.5 0zm-.5 0zm-.5 0zm-.5 0zm-1 0zm-.5 0zm-.5 0zm-.5 0zm-.5 0zm-.5 0zm-.5 0zm-.5 0zm-.5 0zm-1 0zm-.5 0zm-.5 0zm-1 0zm-1 0zm-1.5 0zm-.5 0zm-.5 0zm-.5 0zm-1 0zm-.5 0zm-1 0zm-.5 0zm-1.5 0zm-2 0zm-.5 0zm-3.5 0zm-9 0zm0 .5zm1 0zm.5 0zm.5 0zm2 0zm1 0zm2 0zm1 0zm1.5 0zm.5 0zm1.5 0zm1.5 0zm1 0zm.5 0zm.5 0zm.5 0zm1.5 0zm.5 0zm1 0zm1 0zm1 0zm.5 0zm.5 0zm.5 0zm.5 0zm.5 0zm.5 0zm.5 0zm1 0zm.5 0zm.5 0zm.5 0zm.5 0zm.5 0zm.5 0zm.5 0zm.5 0zm.5 0zm.5 0zm.5 0zm.5 0zm.5 0zm.5 0zm.5 0zm.5 0zm1 0zm.5 0zm.5 0zm1.5 0zm1 0zm.5 0zm.5 0zm.5 0zm.5 0zm.5 0zm.5 0zm.5 0zm.5 0zm.5 0zm1 0zm.5 0zm1.5 0zm2 0zm.5 0zm.5 0zm1 0zm4 0zm2 0zm4 0zm1 0zm5 0zm.5 0zm.5 0zm4 0zm1 0zm5 0zm5.5 0zm.5 0zm3.5 0zm7 0zm.5 0zm1 0zm3 .5zm-1 0zm-3 0zm-3.5 0zm-5 0zm-2 0zm-3.5 0zm-6 0zm-1 0zm-1.5 0zm-4 0zm-3 0zm-2.5 0zm-.5 0zm-3 0zm-.5 0zm-1 0zm-1.5 0zm-2.5 0zm-.5 0zm-.5 0zm-1.5 0zm-1 0zm-.5 0zm-1.5 0zm-.5 0zm-.5 0zm-.5 0zm-.5 0zm-.5 0zm-1 0zm-.5 0zm-1 0zm-.5 0zm-.5 0zm-.5 0zm-.5 0zm-.5 0zm-.5 0zm-1 0zm-.5 0zm-.5 0zm-.5 0zm-1 0zm-1 0zm-.5 0zm-.5 0zm-.5 0zm-.5 0zm-.5 0zm-.5 0zm-.5 0zm-.5 0zm-.5 0zm-.5 0zm-.5 0zm-.5 0zm-.5 0zm-.5 0zm-.5 0zm-2 0zm-.5 0zm-.5 0zm-.5 0zm-.5 0zm-.5 0zm-.5 0zm-2 0zm-.5 0zm-1.5 0zm-2 0zm-.5 0zm-1.5 0zm-1.5 0zm-.5 0zm-.5 0zm-1.5 0zm-1 0zm-6.5 0zm-3.5 .5zm.5 0zm4.5 0zm2 0zm1 0zm1.5 0zm.5 0zm.5 0zm1 0zm1.5 0zm.5 0zm.5 0zm.5 0zm1 0zm1 0zm.5 0zm2 0zm.5 0zm.5 0zm.5 0zm.5 0zm1 0zm1 0zm1 0zm.5 0zm.5 0zm.5 0zm.5 0zm.5 0zm.5 0zm.5 0zm.5 0zm1.5 0zm.5 0zm.5 0zm.5 0zm.5 0zm.5 0zm.5 0zm.5 0zm.5 0zm.5 0zm1 0zm.5 0zm.5 0zm1 0zm.5 0zm.5 0zm.5 0zm1 0zm.5 0zm.5 0zm1 0zm.5 0zm.5 0zm.5 0zm1 0zm1 0zm1 0zm1.5 0zm.5 0zm.5 0zm1 0zm2 0zm1 0zm2 0zm1 0zm.5 0zm2.5 0zm.5 0zm2 0zm1.5 0zm2 0zm4.5 0zm.5 0zm6 0zm3.5 0zm11.5 0zm.5 0zm3.5 0zm4.5 0zm1.5 0zm2 0zm4.5 0zm12.5 .5zm-11.5 0zm-4 0zm-4 0zm-6 0zm-15 0zm-3 0zm-2 0zm-.5 0zm-3 0zm-6.5 0zm-3.5 0zm-.5 0zm-1.5 0zm-.5 0zm-1 0zm-1 0zm-1 0zm-.5 0zm-.5 0zm-.5 0zm-1.5 0zm-1.5 0zm-.5 0zm-.5 0zm-1 0zm-.5 0zm-.5 0zm-.5 0zm-.5 0zm-2 0zm-.5 0zm-.5 0zm-.5 0zm-.5 0zm-.5 0zm-1 0zm-.5 0zm-1 0zm-.5 0zm-.5 0zm-1.5 0zm-.5 0zm-.5 0zm-.5 0zm-.5 0zm-1 0zm-.5 0zm-.5 0zm-.5 0zm-.5 0zm-.5 0zm-1 0zm-1 0zm-.5 0zm-.5 0zm-.5 0zm-.5 0zm-.5 0zm-.5 0zm-.5 0zm-.5 0zm-.5 0zm-.5 0zm-.5 0zm-1 0zm-.5 0zm-.5 0zm-.5 0zm-1.5 0zm-.5 0zm-.5 0zm-1 0zm-2 0zm-1 0zm-2 0zm-2 0zm-.5 0zm-.5 0zm-1 0zm-3 0zm-1 0zm-3 0zm-.5 0zm-1 0zm2.5 .5zm1 0zm1 0zm.5 0zm.5 0zm2 0zm1 0zm.5 0zm1 0zm.5 0zm1.5 0zm.5 0zm1 0zm.5 0zm2 0zm1.5 0zm.5 0zm1 0zm.5 0zm.5 0zm1.5 0zm.5 0zm.5 0zm.5 0zm.5 0zm.5 0zm.5 0zm2 0zm.5 0zm.5 0zm1 0zm.5 0zm.5 0zm.5 0zm.5 0zm.5 0zm.5 0zm.5 0zm1 0zm.5 0zm.5 0zm.5 0zm1 0zm.5 0zm1.5 0zm.5 0zm.5 0zm.5 0zm1 0zm.5 0zm.5 0zm.5 0zm.5 0zm.5 0zm1 0zm.5 0zm1 0zm1 0zm.5 0zm2.5 0zm.5 0zm.5 0zm1.5 0zm1 0zm1 0zm1.5 0zm.5 0zm2.5 0zm2.5 0zm2 0zm1.5 0zm1.5 0zm5 0zm1.5 0zm1.5 0zm10 0zm3 0zm.5 0zm1 0zm3.5 0zm2.5 0zm1 0zm2.5 0zm7 0zm5.5 .5zm-2 0zm-4.5 0zm-2 0zm-1.5 0zm-14 0zm-8 0zm-3 0zm-9 0zm-5.5 0zm-.5 0zm-1.5 0zm-3.5 0zm-.5 0zm-.5 0zm-1 0zm-.5 0zm-.5 0zm-.5 0zm-1 0zm-1.5 0zm-3.5 0zm-.5 0zm-.5 0zm-.5 0zm-1.5 0zm-.5 0zm-1.5 0zm-.5 0zm-.5 0zm-.5 0zm-.5 0zm-.5 0zm-.5 0zm-.5 0zm-.5 0zm-.5 0zm-.5 0zm-.5 0zm-.5 0zm-.5 0zm-.5 0zm-.5 0zm-.5 0zm-.5 0zm-.5 0zm-1 0zm-.5 0zm-1 0zm-1 0zm-.5 0zm-.5 0zm-.5 0zm-.5 0zm-1 0zm-.5 0zm-.5 0zm-1 0zm-.5 0zm-1 0zm-1.5 0zm-.5 0zm-2.5 0zm-2 0zm-1.5 0zm-.5 0zm-3 0zm-6.5 0zm-.5 0zm-.5 0zm-.5 0zm-2.5 .5zm.5 0zm4 0zm.5 0zm1 0zm.5 0zm.5 0zm3.5 0zm1 0zm1 0zm1 0zm1 0zm1.5 0zm.5 0zm2 0zm3.5 0zm.5 0zm2 0zm.5 0zm1 0zm.5 0zm1 0zm.5 0zm1 0zm.5 0zm.5 0zm.5 0zm.5 0zm.5 0zm.5 0zm.5 0zm.5 0zm.5 0zm.5 0zm1 0zm1 0zm1 0zm.5 0zm.5 0zm.5 0zm.5 0zm.5 0zm1 0zm.5 0zm1 0zm1.5 0zm1 0zm.5 0zm.5 0zm1.5 0zm1 0zm2 0zm.5 0zm1.5 0zm.5 0zm.5 0zm.5 0zm1.5 0zm1.5 0zm1.5 0zm5.5 0zm.5 0zm.5 0zm1.5 0zm.5 0zm.5 0zm1.5 0zm3 0zm2 0zm1 0zm13.5 0zm1 0zm26.5 0zm-16 .5zm-1 0zm-2 0zm-4.5 0zm-8.5 0zm-6.5 0zm-8 0zm-1.5 0zm-1 0zm-.5 0zm-.5 0zm-1 0zm-.5 0zm-.5 0zm-.5 0zm-1 0zm-.5 0zm-3.5 0zm-1.5 0zm-1 0zm-2 0zm-2 0zm-2 0zm-3.5 0zm-1.5 0zm-1.5 0zm-.5 0zm-.5 0zm-1 0zm-.5 0zm-.5 0zm-.5 0zm-.5 0zm-.5 0zm-1 0zm-1 0zm-.5 0zm-.5 0zm-.5 0zm-.5 0zm-.5 0zm-.5 0zm-.5 0zm-.5 0zm-1 0zm-.5 0zm-.5 0zm-.5 0zm-.5 0zm-.5 0zm-.5 0zm-.5 0zm-.5 0zm-1.5 0zm-.5 0zm-1 0zm-2 0zm-.5 0zm-.5 0zm-1 0zm-1.5 0zm-1 0zm-.5 0zm-.5 0zm-2 0zm-2 0zm-1.5 0zm-1.5 0zm-2.5 0zm-1 0zm-4.5 0zm-.5 0zm2 .5zm1 0zm2.5 0zm.5 0zm1 0zm3 0zm.5 0zm2 0zm1.5 0zm.5 0zm.5 0zm1.5 0zm1 0zm2 0zm1 0zm1 0zm.5 0zm.5 0zm.5 0zm.5 0zm1 0zm1 0zm1 0zm.5 0zm.5 0zm.5 0zm.5 0zm.5 0zm1.5 0zm1 0zm.5 0zm.5 0zm.5 0zm.5 0zm.5 0zm.5 0zm.5 0zm.5 0zm1 0zm.5 0zm.5 0zm.5 0zm.5 0zm.5 0zm.5 0zm2 0zm1.5 0zm.5 0zm1 0zm.5 0zm1 0zm1 0zm2 0zm1 0zm.5 0zm1 0zm1 0zm1.5 0zm.5 0zm5.5 0zm1 0zm.5 0zm1 0zm.5 0zm.5 0zm1 0zm5.5 0zm10 0zm14 0zm4.5 0zm7 0zm10.5 .5zm-5.5 0zm-10.5 0zm-17.5 0zm-2.5 0zm-7 0zm-.5 0zm-10 0zm-.5 0zm-2 0zm-2 0zm-.5 0zm-2.5 0zm-.5 0zm-4 0zm-1 0zm-.5 0zm-1 0zm-.5 0zm-4 0zm-1 0zm-.5 0zm-1 0zm-1 0zm-1 0zm-2 0zm-.5 0zm-.5 0zm-.5 0zm-1 0zm-.5 0zm-.5 0zm-1 0zm-.5 0zm-1 0zm-.5 0zm-.5 0zm-.5 0zm-.5 0zm-.5 0zm-.5 0zm-.5 0zm-1 0zm-1 0zm-.5 0zm-.5 0zm-.5 0zm-.5 0zm-.5 0zm-.5 0zm-.5 0zm-.5 0zm-.5 0zm-.5 0zm-2.5 0zm-1.5 0zm-2 0zm-1 0zm-2 0zm-.5 0zm-.5 0zm-1.5 0zm-1.5 0zm-.5 0zm-.5 0zm-1.5 0zm-3.5 0zm-3 0zm.5 .5zm2 0zm1 0zm.5 0zm2.5 0zm1 0zm2 0zm.5 0zm2 0zm1 0zm.5 0zm3 0zm2 0zm2 0zm1 0zm1 0zm1 0zm.5 0zm1 0zm1 0zm1 0zm.5 0zm.5 0zm.5 0zm.5 0zm1 0zm.5 0zm1 0zm.5 0zm.5 0zm1 0zm1 0zm.5 0zm.5 0zm.5 0zm.5 0zm.5 0zm1.5 0zm1 0zm.5 0zm.5 0zm.5 0zm1 0zm.5 0zm1 0zm.5 0zm3 0zm.5 0zm1 0zm1 0zm3 0zm4 0zm.5 0zm.5 0zm1.5 0zm1 0zm3 0zm1.5 0zm1.5 0zm1.5 0zm1 0zm.5 0zm.5 0zm1 0zm2 0zm2 0zm3.5 0zm4 0zm2 0zm.5 0zm39 0zm-11.5 .5zm-18.5 0zm-.5 0zm-.5 0zm-4.5 0zm-10 0zm-2 0zm-1.5 0zm-1 0zm-4.5 0zm-1.5 0zm-1.5 0zm-.5 0zm-3 0zm-.5 0zm-.5 0zm-2 0zm-2 0zm-3 0zm-2 0zm-1 0zm-.5 0zm-1 0zm-1.5 0zm-.5 0zm-1.5 0zm-.5 0zm-2 0zm-1.5 0zm-1 0zm-.5 0zm-.5 0zm-.5 0zm-1 0zm-1 0zm-1 0zm-.5 0zm-1 0zm-.5 0zm-.5 0zm-.5 0zm-.5 0zm-.5 0zm-.5 0zm-.5 0zm-1 0zm-.5 0zm-.5 0zm-.5 0zm-.5 0zm-.5 0zm-.5 0zm-.5 0zm-1 0zm-1.5 0zm-1.5 0zm-.5 0zm-1 0zm-1 0zm-1 0zm-1 0zm-.5 0zm-2 0zm-.5 0zm-1.5 0zm-2 0zm-.5 0zm-1 0zm-2.5 0zm-1 0zm-1.5 0zm-.5 0zm-3 0zm-1 0zm-.5 0zm.5 .5zm3.5 0zm3.5 0zm1.5 0zm2.5 0zm.5 0zm5 0zm.5 0zm.5 0zm3 0zm.5 0zm2.5 0zm.5 0zm.5 0zm1 0zm1 0zm1 0zm.5 0zm.5 0zm1 0zm.5 0zm1 0zm.5 0zm.5 0zm1 0zm1 0zm.5 0zm.5 0zm.5 0zm1 0zm.5 0zm.5 0zm.5 0zm.5 0zm.5 0zm1 0zm1 0zm.5 0zm2.5 0zm.5 0zm.5 0zm2.5 0zm2 0zm.5 0zm.5 0zm1.5 0zm1 0zm3 0zm1.5 0zm1 0zm.5 0zm1 0zm4.5 0zm1.5 0zm1 0zm2.5 0zm1.5 0zm.5 0zm1.5 0zm23 0zm9.5 .5zm-17.5 0zm-2 0zm-9 0zm-8 0zm-.5 0zm-1.5 0zm-3.5 0zm-4.5 0zm-1.5 0zm-3.5 0zm-.5 0zm-.5 0zm-1.5 0zm-.5 0zm-.5 0zm-.5 0zm-1.5 0zm-3 0zm-1 0zm-.5 0zm-.5 0zm-1 0zm-1 0zm-2.5 0zm-.5 0zm-.5 0zm-.5 0zm-1.5 0zm-.5 0zm-.5 0zm-.5 0zm-1 0zm-.5 0zm-.5 0zm-.5 0zm-.5 0zm-.5 0zm-.5 0zm-1 0zm-1 0zm-.5 0zm-.5 0zm-.5 0zm-2 0zm-.5 0zm-1.5 0zm-.5 0zm-2 0zm-1 0zm-.5 0zm-3 0zm-.5 0zm-.5 0zm-3 0zm-2 0zm-.5 0zm-1.5 0zm-1.5 0zm-2 0zm-4.5 0zm2 .5zm.5 0zm1 0zm1 0zm1 0zm.5 0zm3 0zm.5 0zm3 0zm3 0zm5.5 0zm1.5 0zm1 0zm.5 0zm1 0zm.5 0zm.5 0zm.5 0zm.5 0zm.5 0zm.5 0zm.5 0zm.5 0zm.5 0zm.5 0zm1 0zm.5 0zm.5 0zm1.5 0zm1 0zm1 0zm.5 0zm.5 0zm.5 0zm.5 0zm.5 0zm1.5 0zm1 0zm.5 0zm1.5 0zm1.5 0zm.5 0zm.5 0zm.5 0zm.5 0zm.5 0zm.5 0zm.5 0zm1.5 0zm1 0zm2 0zm.5 0zm1 0zm1 0zm1 0zm.5 0zm2 0zm2.5 0zm2.5 0zm1 0zm2.5 0zm3.5 0zm6 0zm.5 0zm18.5 0zm.5 0zm10 0zm1 .5zm-5 0zm-9 0zm-1 0zm-3.5 0zm-4.5 0zm-2 0zm-3.5 0zm-2 0zm-2 0zm-7 0zm-1 0zm-3.5 0zm-.5 0zm-2.5 0zm-3.5 0zm-4 0zm-.5 0zm-.5 0zm-2.5 0zm-1.5 0zm-2 0zm-.5 0zm-.5 0zm-1 0zm-.5 0zm-.5 0zm-.5 0zm-2 0zm-1 0zm-1 0zm-.5 0zm-.5 0zm-1 0zm-.5 0zm-.5 0zm-1.5 0zm-1.5 0zm-1 0zm-.5 0zm-.5 0zm-.5 0zm-1 0zm-1 0zm-.5 0zm-1 0zm-.5 0zm-2.5 0zm-1 0zm-.5 0zm-.5 0zm-1 0zm-.5 0zm-1.5 0zm-1 0zm-1.5 0zm-.5 0zm-1 0zm-6 0zm-2 0zm-2.5 0zm-1.5 0zm-2.5 0zm7 .5zm5.5 0zm2 0zm1.5 0zm6.5 0zm.5 0zm1.5 0zm6 0zm.5 0zm.5 0zm1 0zm2 0zm1 0zm.5 0zm1 0zm.5 0zm1.5 0zm1 0zm1 0zm1 0zm.5 0zm1.5 0zm3 0zm.5 0zm1.5 0zm.5 0zm.5 0zm4 0zm6.5 0zm.5 0zm1.5 0zm4 0zm7.5 0zm4 0zm.5 0zm5 0zm4.5 0zm2.5 0zm.5 0zm13 .5zm-12 0zm-14 0zm-9.5 0zm-.5 0zm-2 0zm-1.5 0zm-1 0zm-3.5 0zm-.5 0zm-3.5 0zm-.5 0zm-1 0zm-3 0zm-1 0zm-1.5 0zm-2.5 0zm-2 0zm-3.5 0zm-1 0zm-.5 0zm-.5 0zm-.5 0zm-1.5 0zm-1 0zm-1 0zm-1.5 0zm-1 0zm-1.5 0zm-3.5 0zm-.5 0zm-.5 0zm-.5 0zm-.5 0zm-.5 0zm-3 0zm-4.5 0zm-1.5 0zm-.5 0zm-1.5 0zm-1.5 0zm-4.5 0zm-5 .5zm5 0zm11.5 0zm.5 0zm3.5 0zm1 0zm2.5 0zm1 0zm.5 0zm1 0zm.5 0zm2.5 0zm1 0zm.5 0zm1 0zm3.5 0zm1 0zm1 0zm2 0zm4.5 0zm3 0zm5 0zm7 0zm1.5 0zm5.5 0zm.5 0zm2 0zm2.5 0zm12.5 0zm-4.5 .5zm-5 0zm-11 0zm-3.5 0zm-.5 0zm-6 0zm-4 0zm-1.5 0zm-4 0zm-3 0zm-6 0zm-1.5 0zm-.5 0zm-1 0zm-.5 0zm-.5 0zm-.5 0zm-2 0zm-.5 0zm-1.5 0zm-1 0zm-1 0zm-2.5 0zm-.5 0zm-1.5 0zm-.5 0zm-1.5 0zm-6 0zm-4 0zm-4.5 0zm-6 .5zm7.5 0zm2.5 0zm9 0zm1 0zm1 0zm3.5 0zm1 0zm1 0zm.5 0zm2 0zm.5 0zm1 0zm.5 0zm1 0zm.5 0zm5 0zm1 0zm1 0zm1 0zm1 0zm.5 0zm.5 0zm2 0zm.5 0zm1.5 0zm3 0zm4 0zm1 0zm.5 0zm2.5 0zm5.5 0zm3.5 0zm2.5 0zm18 0zm10.5 0zm2 0zm-9 .5zm-2 0zm-5 0zm-.5 0zm-5.5 0zm-7 0zm-4 0zm-1.5 0zm-.5 0zm-1 0zm-3 0zm-4 0zm-2.5 0zm-2.5 0zm-3 0zm-1 0zm-3.5 0zm-1.5 0zm-.5 0zm-2 0zm-2 0zm-1.5 0zm-5.5 0zm-.5 0zm-2.5 0zm-.5 0zm-2.5 0zm-.5 0zm-2.5 0zm-.5 0zm-1 0zm-1 0zm-.5 0zm-1 0zm-1 0zm-4.5 0zm-1.5 0zm-10 0zm0 .5zm10 0zm7 0zm1.5 0zm3 0zm2 0zm.5 0zm3.5 0zm.5 0zm2 0zm1.5 0zm.5 0zm4.5 0zm.5 0zm2 0zm6.5 0zm1.5 0zm8.5 0zm4.5 0zm11.5 0zm2 0zm10.5 0zm.5 0zm7.5 0zm1.5 0zm11 0zm-8 .5zm-1 0zm-14 0zm-13.5 0zm-12 0zm-3 0zm-2.5 0zm-5.5 0zm-4.5 0zm-2 0zm-2.5 0zm-.5 0zm-.5 0zm-1.5 0zm-1 0zm-1.5 0zm-1 0zm-.5 0zm-4 0zm-.5 0zm-2 0zm-3.5 0zm-1 0zm-9 0zm-8 0zm1 .5zm10 0zm12.5 0zm2.5 0zm2.5 0zm2 0zm.5 0zm2.5 0zm.5 0zm1 0zm5 0zm1.5 0zm2.5 0zm4.5 0zm5.5 0zm1.5 0zm6.5 0zm2 0zm4.5 0zm10.5 0zm30.5 0zm-34 .5zm-13.5 0zm-2 0zm-11.5 0zm-15.5 0zm-3.5 0zm-4.5 0zm-1.5 0zm-1.5 0zm-1.5 0zm-4.5 0zm-1 0zm-2.5 0zm1 .5zm2 0zm11 0zm3.5 0zm2 0zm.5 0zm5.5 0zm.5 0zm12 0zm23.5 0zm12.5 .5zm-13.5 0zm-7 0zm-2 0zm-17 0zm-9.5 0zm-.5 0zm-1.5 0zm-2 0zm-4 0zm-2.5 0zm-14.5 0zm-.5 0zm-3 0zm-3.5 0zm-2 0zm2.5 .5zm10 0zm3.5 0zm1 0zm2.5 0zm6 0zm1 0zm1.5 0zm4 0zm5.5 0zm4.5 0zm7.5 0zm11 0zm16.5 .5zm-11 0zm-26 0zm-14 0zm-2 0zm-1 0zm-.5 0zm-1.5 0zm-5.5 0zm-4.5 0zm.5 .5zm2.5 0zm3.5 0zm1 0zm3 0zm24.5 0zm18.5 0zm3.5 0zm3 0zm-12.5 .5zm-10 0zm-14 0zm-.5 0zm-14 0zm-12.5 0zm12 .5zm2 0zm3 0zm6 0zm6 0zm43 .5zm-20.5 0zm-20 0zm-12 0zm-10.5 0zm-5 0zm-12.5 0zm54 .5z" stroke="#000" stroke-width="1.3" stroke-linecap="square" fill="none"/>
<g stroke="#111" fill="none">
<rect x="216.6" y="29.6" width="128.9" height="124.7" stroke-width="1.15"/>
<path d="M216.6 108.7H345.5M287.5 29.6V154.3" stroke-width="1.1"/>
<path d="M216.6 154.3v4M216.6 154.3h-4M226.3 154.3v2.2M216.6 144.9h-2.2M232 154.3v2.2M216.6 139.4h-2.2M236 154.3v2.2M216.6 135.5h-2.2M239.1 154.3v2.2M216.6 132.5h-2.2M241.7 154.3v2.2M216.6 130h-2.2M243.8 154.3v2.2M216.6 128h-2.2M245.7 154.3v2.2M216.6 126.1h-2.2M247.4 154.3v2.2M216.6 124.6h-2.2M248.8 154.3v4M216.6 123.1h-4M258.5 154.3v2.2M216.6 113.7h-2.2M264.2 154.3v2.2M216.6 108.3h-2.2M268.2 154.3v2.2M216.6 104.4h-2.2M271.3 154.3v2.2M216.6 101.3h-2.2M273.9 154.3v2.2M216.6 98.9h-2.2M276.1 154.3v2.2M216.6 96.8h-2.2M277.9 154.3v2.2M216.6 95h-2.2M279.6 154.3v2.2M216.6 93.4h-2.2M281.1 154.3v4M216.6 92h-4M290.8 154.3v2.2M216.6 82.6h-2.2M296.4 154.3v2.2M216.6 77.1h-2.2M300.5 154.3v2.2M216.6 73.2h-2.2M303.6 154.3v2.2M216.6 70.2h-2.2M306.1 154.3v2.2M216.6 67.7h-2.2M308.3 154.3v2.2M216.6 65.6h-2.2M310.2 154.3v2.2M216.6 63.8h-2.2M311.8 154.3v2.2M216.6 62.2h-2.2M313.3 154.3v4M216.6 60.8h-4M323 154.3v2.2M216.6 51.4h-2.2M328.7 154.3v2.2M216.6 45.9h-2.2M332.7 154.3v2.2M216.6 42h-2.2M335.8 154.3v2.2M216.6 39h-2.2M338.4 154.3v2.2M216.6 36.5h-2.2M340.5 154.3v2.2M216.6 34.4h-2.2M342.4 154.3v2.2M216.6 32.6h-2.2M344 154.3v2.2M216.6 31h-2.2M345.5 154.3v4M216.6 29.6h-4" stroke-width="0.8"/>
</g>
<g font-family="'Liberation Serif',serif" font-weight="bold" font-size="7" fill="#000" stroke="#000" stroke-width="0.35">
<text x="213.4" y="167.5">10<tspan dy="-2" font-size="6.2">0</tspan></text>
<text x="199.2" y="157">10<tspan dy="-2" font-size="6.2">0</tspan></text>
<text x="245.6" y="167.5">10<tspan dy="-2" font-size="6.2">1</tspan></text>
<text x="199.2" y="125.8">10<tspan dy="-2" font-size="6.2">1</tspan></text>
<text x="277.9" y="167.5">10<tspan dy="-2" font-size="6.2">2</tspan></text>
<text x="199.2" y="94.7">10<tspan dy="-2" font-size="6.2">2</tspan></text>
<text x="310.1" y="167.5">10<tspan dy="-2" font-size="6.2">3</tspan></text>
<text x="199.2" y="63.5">10<tspan dy="-2" font-size="6.2">3</tspan></text>
<text x="342.3" y="167.5">10<tspan dy="-2" font-size="6.2">4</tspan></text>
<text x="199.2" y="32.3">10<tspan dy="-2" font-size="6.2">4</tspan></text>
</g>
<path d="M248 103zm16.5 .5zm1 .5zm73.5 1.5zm-9 3.5zm-94 1.5zm-13 0zm15.5 .5zm36 0zm49.5 0zm12.5 .5zm-1 0zm-5.5 0zm-76 0zm-21 .5zm4.5 0zm3.5 0zm34.5 0zm50.5 0zm1 .5zm-1 0zm-1 0zm-8.5 0zm-5.5 0zm-50.5 0zm-5.5 0zm-17.5 0zm-2.5 0zm-9 0zm4 .5zm5.5 0zm2.5 0zm4 0zm1 0zm84.5 0zm3.5 0zm1.5 .5zm-6 0zm-2 0zm-19 0zm-65 0zm-22.5 0zm42.5 .5zm12 0zm45.5 0zm8 0zm5 .5zm-2.5 0zm-2 0zm-2.5 0zm-5 0zm-78.5 0zm-1 0zm-3 0zm-5 0zm-4 0zm1.5 .5zm8.5 0zm6.5 0zm10 0zm.5 0zm3.5 0zm8 0zm59 0zm1 0zm3 0zm.5 0zm-1 .5zm-2 0zm-1 0zm-1 0zm-1.5 0zm-.5 0zm-5 0zm-9 0zm-9.5 0zm-26 0zm-14 0zm-13.5 0zm-.5 0zm-3.5 0zm-5 0zm-1 0zm-8.5 0zm-2.5 0zm-1 0zm-4.5 .5zm30.5 0zm6.5 0zm4.5 0zm11.5 0zm41 0zm7.5 0zm5 0zm1 0zm.5 0zm.5 0zm3.5 0zm-5 .5zm-2.5 0zm-1 0zm-.5 0zm-7.5 0zm-2 0zm-2 0zm-4 0zm-35.5 0zm-15 0zm-3.5 0zm-.5 0zm-4.5 0zm-4 0zm-4.5 0zm-10 0zm-7.5 0zm9.5 .5zm3 0zm.5 0zm1.5 0zm1 0zm3 0zm6.5 0zm1 0zm5.5 0zm2 0zm14 0zm38 0zm5.5 0zm5.5 0zm1 0zm2.5 0zm.5 0zm2 0zm.5 0zm.5 0zm1 0zm1 0zm-2.5 .5zm-2.5 0zm-1 0zm-2.5 0zm-1 0zm-1.5 0zm-2.5 0zm-3 0zm-40.5 0zm-7.5 0zm-6 0zm-2.5 0zm-1.5 0zm-1 0zm-.5 0zm-7 0zm-.5 0zm-1 0zm-5 0zm-1 0zm-5.5 0zm-1 0zm-5 0zm-4 .5zm8.5 0zm.5 0zm6.5 0zm4 0zm1 0zm.5 0zm63 0zm4.5 0zm2 0zm2.5 0zm1.5 0zm3 0zm4 0zm.5 0zm1 0zm4 0zm-3 .5zm-.5 0zm-1 0zm-1.5 0zm-.5 0zm-2 0zm-4 0zm-1 0zm-1.5 0zm-.5 0zm-.5 0zm-1.5 0zm-3 0zm-1 0zm-61.5 0zm-1.5 0zm-1.5 0zm-1.5 0zm-.5 0zm-.5 0zm-4 0zm-1.5 0zm-.5 0zm-1 0zm-3 0zm-1.5 0zm-.5 0zm-3 .5zm7 0zm4 0zm2.5 0zm3.5 0zm4 0zm.5 0zm1.5 0zm.5 0zm3.5 0zm1.5 0zm1.5 0zm2 0zm6.5 0zm12.5 0zm7.5 0zm22.5 0zm5 0zm1 0zm1.5 0zm1 0zm2.5 0zm1 0zm.5 0zm.5 0zm.5 0zm.5 0zm.5 0zm.5 0zm.5 0zm.5 0zm1 0zm6 0zm-2 .5zm-3 0zm-2.5 0zm-1.5 0zm-1.5 0zm-2 0zm-2 0zm-3.5 0zm-4.5 0zm-.5 0zm-33 0zm-3.5 0zm-10.5 0zm-1.5 0zm-1 0zm-4.5 0zm-1 0zm-2.5 0zm-.5 0zm-6 0zm-1.5 0zm-2.5 0zm-3 0zm-.5 0zm-1 0zm-1 0zm-2.5 0zm-4 0zm-3.5 .5zm5.5 0zm3.5 0zm1 0zm.5 0zm.5 0zm3 0zm.5 0zm6 0zm2.5 0zm5 0zm6 0zm1.5 0zm1.5 0zm48.5 0zm2 0zm1.5 0zm2.5 0zm2.5 0zm1.5 0zm2 0zm1.5 0zm1 0zm4 0zm-1 .5zm-2 0zm-1 0zm-1.5 0zm-1.5 0zm-.5 0zm-.5 0zm-2.5 0zm-.5 0zm-1.5 0zm-.5 0zm-2 0zm-3 0zm-2.5 0zm-2 0zm-33.5 0zm-14 0zm-1.5 0zm-1.5 0zm-3 0zm-1.5 0zm-1.5 0zm-.5 0zm-2.5 0zm-1.5 0zm-.5 0zm-1.5 0zm-.5 0zm-1.5 0zm-1.5 0zm-.5 0zm-.5 0zm-2 0zm-3 0zm-2 0zm-1.5 0zm-1.5 0zm-3.5 0zm-2.5 .5zm3.5 0zm1.5 0zm3.5 0zm.5 0zm1 0zm6 0zm.5 0zm1.5 0zm3 0zm.5 0zm7 0zm9.5 0zm3 0zm43.5 0zm4 0zm1 0zm1.5 0zm1 0zm1 0zm3.5 0zm1.5 0zm.5 0zm1 0zm3 0zm.5 0zm-1.5 .5zm-1.5 0zm-1 0zm-.5 0zm-1 0zm-1 0zm-3.5 0zm-5.5 0zm-1 0zm-1.5 0zm-.5 0zm-39.5 0zm-5 0zm-7 0zm-4 0zm-1.5 0zm-.5 0zm-1 0zm-5.5 0zm-.5 0zm-2 0zm-1.5 0zm-.5 0zm-.5 0zm-1 0zm-1.5 0zm-.5 0zm-4 0zm-3 0zm-2 0zm-.5 .5zm4.5 0zm.5 0zm1.5 0zm1 0zm2 0zm5.5 0zm3 0zm2 0zm.5 0zm1.5 0zm2 0zm1 0zm.5 0zm1.5 0zm3 0zm4.5 0zm.5 0zm3 0zm5.5 0zm1.5 0zm7 0zm14 0zm16 0zm.5 0zm1.5 0zm1.5 0zm2 0zm1.5 0zm1.5 0zm1 0zm2.5 0zm.5 0zm5 0zm1 .5zm-7.5 0zm-.5 0zm-2 0zm-1 0zm-1 0zm-1 0zm-1 0zm-6.5 0zm-8 0zm-23.5 0zm-.5 0zm-21 0zm-1.5 0zm-1 0zm-3 0zm-.5 0zm-.5 0zm-.5 0zm-2.5 0zm-2 0zm-2 0zm-1 0zm-2 0zm-2.5 0zm-.5 0zm-1.5 0zm-4.5 0zm-1 0zm-4 .5zm5.5 0zm3 0zm.5 0zm.5 0zm1.5 0zm2.5 0zm1 0zm.5 0zm1 0zm.5 0zm1.5 0zm.5 0zm.5 0zm1.5 0zm1 0zm.5 0zm.5 0zm.5 0zm4 0zm1 0zm1 0zm3 0zm.5 0zm2.5 0zm3.5 0zm4 0zm1.5 0zm4.5 0zm4 0zm.5 0zm1.5 0zm9 0zm19 0zm5.5 0zm1 0zm.5 0zm1.5 0zm.5 0zm.5 0zm.5 0zm.5 0zm.5 0zm1.5 0zm3.5 0zm1.5 0zm5 0zm.5 .5zm-2.5 0zm-5 0zm-.5 0zm-.5 0zm-1 0zm-2 0zm-3 0zm-1 0zm-.5 0zm-.5 0zm-1.5 0zm-.5 0zm-.5 0zm-1 0zm-.5 0zm-4.5 0zm-26 0zm-7 0zm-4 0zm-5 0zm-2 0zm-1 0zm-1.5 0zm-6 0zm-.5 0zm-4 0zm-.5 0zm-7 0zm-2.5 0zm-1 0zm-1.5 0zm-5.5 0zm-6 .5zm9.5 0zm2 0zm1 0zm.5 0zm3 0zm.5 0zm.5 0zm.5 0zm.5 0zm.5 0zm2 0zm1 0zm.5 0zm2.5 0zm1.5 0zm.5 0zm.5 0zm.5 0zm1 0zm1 0zm3.5 0zm2 0zm1.5 0zm1 0zm9.5 0zm2 0zm2.5 0zm34 0zm1.5 0zm3 0zm.5 0zm.5 0zm.5 0zm.5 0zm1 0zm1.5 0zm1 0zm.5 0zm.5 0zm.5 0zm1 0zm3.5 0zm.5 0zm1.5 0zm-5 .5zm-.5 0zm-1 0zm-.5 0zm-.5 0zm-2.5 0zm-.5 0zm-.5 0zm-1 0zm-1 0zm-.5 0zm-.5 0zm-.5 0zm-.5 0zm-.5 0zm-.5 0zm-2 0zm-31.5 0zm-6.5 0zm-9.5 0zm-.5 0zm-2.5 0zm-.5 0zm-2 0zm-4 0zm-2.5 0zm-3.5 0zm-1 0zm-2.5 0zm-1 0zm-.5 0zm-1 0zm-1 0zm-1.5 0zm-1 0zm-1.5 0zm-1 0zm-1.5 0zm-.5 0zm-2.5 0zm-4 0zm2 .5zm7 0zm.5 0zm2.5 0zm1 0zm.5 0zm2.5 0zm.5 0zm1 0zm.5 0zm.5 0zm.5 0zm1 0zm.5 0zm1.5 0zm.5 0zm1 0zm1.5 0zm2.5 0zm1 0zm8 0zm2.5 0zm1 0zm1 0zm10.5 0zm2 0zm22.5 0zm2.5 0zm4 0zm1.5 0zm1.5 0zm.5 0zm1 0zm.5 0zm.5 0zm1 0zm.5 0zm.5 0zm.5 0zm.5 0zm.5 0zm1 0zm.5 0zm4.5 0zm6 0zm2 0zm0 .5zm-4 0zm-3 0zm-3 0zm-1.5 0zm-1.5 0zm-1 0zm-1.5 0zm-.5 0zm-1 0zm-1 0zm-.5 0zm-.5 0zm-1 0zm-.5 0zm-10 0zm-7.5 0zm-15 0zm-13.5 0zm-3.5 0zm-1.5 0zm-5.5 0zm-.5 0zm-.5 0zm-2.5 0zm-1.5 0zm-1 0zm-.5 0zm-.5 0zm-.5 0zm-2 0zm-.5 0zm-.5 0zm-.5 0zm-.5 0zm-1 0zm-.5 0zm-.5 0zm-1 0zm-1.5 0zm-.5 0zm-2 0zm-1 0zm-1 0zm-.5 0zm-10 .5zm6 0zm1 0zm2.5 0zm3.5 0zm1 0zm.5 0zm1.5 0zm.5 0zm1 0zm.5 0zm.5 0zm1.5 0zm1 0zm.5 0zm1.5 0zm.5 0zm1 0zm1.5 0zm2 0zm2 0zm.5 0zm5.5 0zm2 0zm2.5 0zm5 0zm40 0zm1 0zm1 0zm1 0zm.5 0zm2.5 0zm1 0zm.5 0zm.5 0zm.5 0zm1 0zm4 0zm1.5 0zm.5 0zm.5 0zm2 0zm9 0zm-12 .5zm-.5 0zm-1.5 0zm-.5 0zm-.5 0zm-.5 0zm-1 0zm-.5 0zm-.5 0zm-1.5 0zm-.5 0zm-.5 0zm-.5 0zm-.5 0zm-1 0zm-1 0zm-1.5 0zm-1.5 0zm-1 0zm-16.5 0zm-9.5 0zm-4 0zm-9 0zm-.5 0zm-1.5 0zm-7 0zm-1.5 0zm-3 0zm-2.5 0zm-1 0zm-1 0zm-1 0zm-1 0zm-.5 0zm-.5 0zm-.5 0zm-1 0zm-1 0zm-1 0zm-.5 0zm-2.5 0zm-1 0zm-1.5 0zm-.5 0zm-1.5 0zm-2.5 0zm-3.5 0zm-4 0zm-3.5 0zm-.5 0zm0 .5zm2.5 0zm7 0zm1 0zm.5 0zm1 0zm1 0zm.5 0zm.5 0zm1 0zm1 0zm.5 0zm.5 0zm.5 0zm2 0zm1.5 0zm3 0zm.5 0zm1.5 0zm.5 0zm2 0zm1 0zm2.5 0zm1.5 0zm3 0zm2.5 0zm7 0zm2.5 0zm3.5 0zm29 0zm.5 0zm3.5 0zm2.5 0zm.5 0zm.5 0zm1 0zm1 0zm.5 0zm.5 0zm.5 0zm.5 0zm.5 0zm.5 0zm.5 0zm1 0zm.5 0zm.5 0zm1 0zm3.5 0zm.5 .5zm-3 0zm-1 0zm-.5 0zm-.5 0zm-.5 0zm-1.5 0zm-2 0zm-1 0zm-1 0zm-.5 0zm-1 0zm-.5 0zm-1 0zm-1 0zm-.5 0zm-2.5 0zm-21.5 0zm-15 0zm-5.5 0zm-2.5 0zm-2 0zm-1.5 0zm-3 0zm-2.5 0zm-1 0zm-1 0zm-.5 0zm-1.5 0zm-.5 0zm-1 0zm-3.5 0zm-.5 0zm-1.5 0zm-.5 0zm-.5 0zm-1.5 0zm-.5 0zm-.5 0zm-1.5 0zm-.5 0zm-.5 0zm-1 0zm-1 0zm-2 0zm-2.5 0zm-1.5 0zm-2 0zm-2.5 0zm.5 .5zm8 0zm1 0zm1 0zm1 0zm1 0zm.5 0zm.5 0zm.5 0zm2 0zm3 0zm.5 0zm1.5 0zm.5 0zm1.5 0zm2 0zm1.5 0zm.5 0zm1 0zm3 0zm1.5 0zm2 0zm7 0zm.5 0zm2.5 0zm1.5 0zm7 0zm3 0zm20 0zm2.5 0zm4.5 0zm1.5 0zm.5 0zm3 0zm.5 0zm.5 0zm.5 0zm1 0zm.5 0zm.5 0zm.5 0zm.5 0zm.5 0zm.5 0zm.5 0zm.5 0zm.5 0zm.5 0zm1 0zm4 0zm-.5 .5zm-2.5 0zm-2.5 0zm-.5 0zm-1.5 0zm-.5 0zm-.5 0zm-.5 0zm-.5 0zm-1.5 0zm-2 0zm-1 0zm-.5 0zm-2 0zm-2.5 0zm-25.5 0zm-11 0zm-9.5 0zm-.5 0zm-.5 0zm-3 0zm-5.5 0zm-2 0zm-1.5 0zm-.5 0zm-1.5 0zm-1.5 0zm-2 0zm-1 0zm-.5 0zm-.5 0zm-1 0zm-.5 0zm-.5 0zm-5.5 0zm-.5 0zm-1.5 0zm-1.5 0zm-4.5 .5zm1 0zm1 0zm3 0zm.5 0zm.5 0zm1.5 0zm1.5 0zm.5 0zm1 0zm1.5 0zm.5 0zm2 0zm1 0zm.5 0zm1 0zm.5 0zm.5 0zm.5 0zm.5 0zm2 0zm.5 0zm.5 0zm1.5 0zm.5 0zm3 0zm.5 0zm1 0zm.5 0zm2 0zm3 0zm.5 0zm4.5 0zm.5 0zm2.5 0zm1 0zm6.5 0zm30.5 0zm3 0zm2 0zm1.5 0zm.5 0zm1.5 0zm1.5 0zm.5 0zm.5 0zm.5 0zm1 0zm.5 0zm.5 0zm.5 0zm.5 0zm.5 0zm2 0zm1 0zm3.5 0zm.5 .5zm-5 0zm-.5 0zm-.5 0zm-1 0zm-.5 0zm-.5 0zm-1 0zm-.5 0zm-1 0zm-.5 0zm-.5 0zm-.5 0zm-1 0zm-.5 0zm-1.5 0zm-2.5 0zm-2.5 0zm-4 0zm-17 0zm-3.5 0zm-12.5 0zm-10.5 0zm-1.5 0zm-1 0zm-3 0zm-1 0zm-2 0zm-1.5 0zm-.5 0zm-1.5 0zm-.5 0zm-3 0zm-1 0zm-1 0zm-5.5 0zm-1 0zm-.5 0zm-1 0zm-1.5 0zm-1.5 0zm-1 0zm-2 0zm-1.5 0zm-1 0zm3 .5zm6 0zm.5 0zm1 0zm.5 0zm.5 0zm.5 0zm.5 0zm3.5 0zm.5 0zm.5 0zm.5 0zm.5 0zm3.5 0zm.5 0zm2 0zm1 0zm1.5 0zm2 0zm7 0zm2.5 0zm11 0zm.5 0zm29.5 0zm8 0zm2 0zm1.5 0zm1 0zm.5 0zm1 0zm1 0zm.5 0zm.5 0zm4 0zm1.5 0zm3.5 0zm-7.5 .5zm-2 0zm-.5 0zm-.5 0zm-1 0zm-.5 0zm-1 0zm-.5 0zm-1 0zm-1 0zm-.5 0zm-1 0zm-2 0zm-.5 0zm-2 0zm-5.5 0zm-29 0zm-13 0zm-3.5 0zm-3 0zm-1.5 0zm-1 0zm-1 0zm-2 0zm-1 0zm-.5 0zm-.5 0zm-2.5 0zm-1 0zm-1 0zm-.5 0zm-.5 0zm-.5 0zm-1.5 0zm-1 0zm-.5 0zm-1.5 0zm-2.5 0zm-.5 0zm-1.5 0zm-5.5 .5zm2.5 0zm.5 0zm1.5 0zm4.5 0zm.5 0zm3.5 0zm1 0zm2.5 0zm.5 0zm1 0zm.5 0zm.5 0zm.5 0zm1 0zm.5 0zm.5 0zm1.5 0zm.5 0zm.5 0zm2.5 0zm8 0zm1 0zm3 0zm8 0zm11.5 0zm17.5 0zm.5 0zm1.5 0zm1.5 0zm1.5 0zm1 0zm4.5 0zm.5 0zm.5 0zm2 0zm.5 0zm1.5 0zm.5 0zm.5 0zm.5 0zm.5 0zm1 0zm1 0zm.5 0zm1 0zm1 0zm.5 0zm9 0zm-10 .5zm-.5 0zm-.5 0zm-1 0zm-.5 0zm-1 0zm-1 0zm-.5 0zm-.5 0zm-.5 0zm-.5 0zm-1.5 0zm-.5 0zm-.5 0zm-.5 0zm-.5 0zm-1 0zm-1 0zm-2.5 0zm-.5 0zm-2.5 0zm-39 0zm-4.5 0zm-2 0zm-1 0zm-2.5 0zm-.5 0zm-2.5 0zm-2 0zm-1 0zm-1 0zm-1.5 0zm-3 0zm-.5 0zm-.5 0zm-.5 0zm-1.5 0zm-.5 0zm-1 0zm-.5 0zm-2.5 0zm-.5 0zm-1 0zm-.5 0zm-.5 0zm-.5 0zm-.5 0zm-1 0zm-1 0zm-6.5 0zm0 .5zm.5 0zm3.5 0zm3 0zm.5 0zm2.5 0zm3 0zm1 0zm.5 0zm2 0zm.5 0zm.5 0zm.5 0zm3 0zm2.5 0zm4 0zm2.5 0zm.5 0zm1 0zm21.5 0zm26 0zm3.5 0zm3.5 0zm2 0zm.5 0zm1 0zm.5 0zm1.5 0zm2 0zm.5 0zm.5 0zm.5 0zm.5 0zm.5 0zm.5 0zm4 0zm-6 .5zm-.5 0zm-.5 0zm-.5 0zm-1 0zm-2 0zm-.5 0zm-1.5 0zm-1.5 0zm-1.5 0zm-1 0zm-.5 0zm-1 0zm-1 0zm-6.5 0zm-14 0zm-2.5 0zm-16.5 0zm-.5 0zm-6.5 0zm-4 0zm-.5 0zm-2.5 0zm-1.5 0zm-1 0zm-.5 0zm-2.5 0zm-.5 0zm-1.5 0zm-.5 0zm-.5 0zm-1 0zm-2 0zm-1.5 0zm-2 0zm-1 0zm-2 0zm-1 0zm-.5 0zm-.5 0zm-1 0zm-5 0zm-1 0zm.5 .5zm.5 0zm3 0zm2 0zm1.5 0zm2 0zm1.5 0zm.5 0zm.5 0zm.5 0zm1 0zm3 0zm1 0zm5.5 0zm2 0zm3 0zm.5 0zm1 0zm4 0zm1 0zm47.5 0zm1 0zm1.5 0zm.5 0zm1 0zm.5 0zm1.5 0zm.5 0zm.5 0zm1 0zm.5 0zm.5 0zm2 0zm2 0zm1 0zm1.5 0zm.5 0zm-.5 .5zm-2 0zm-1 0zm-1 0zm-.5 0zm-2 0zm-1 0zm-.5 0zm-1 0zm-.5 0zm-3.5 0zm-3.5 0zm-1.5 0zm-.5 0zm-4.5 0zm-23 0zm-5 0zm-10.5 0zm-2.5 0zm-1 0zm-1 0zm-.5 0zm-1 0zm-.5 0zm-1 0zm-1 0zm-.5 0zm-1 0zm-.5 0zm-1.5 0zm-2 0zm-.5 0zm-.5 0zm-1.5 0zm-.5 0zm-1.5 0zm-4 0zm-.5 0zm-.5 0zm-1.5 0zm-1 0zm-1.5 0zm-3.5 0zm-4 0zm1.5 .5zm3 0zm4 0zm2.5 0zm2.5 0zm.5 0zm.5 0zm3.5 0zm.5 0zm3.5 0zm.5 0zm1 0zm2 0zm1 0zm1.5 0zm1.5 0zm2 0zm3 0zm2.5 0zm2 0zm30.5 0zm1.5 0zm3.5 0zm4.5 0zm.5 0zm1 0zm2.5 0zm2.5 0zm1.5 0zm.5 0zm1 0zm1 0zm1.5 0zm1.5 0zm1 0zm4 0zm-3.5 .5zm-1.5 0zm-.5 0zm-.5 0zm-.5 0zm-.5 0zm-.5 0zm-1 0zm-1 0zm-.5 0zm-.5 0zm-1 0zm-.5 0zm-2 0zm-.5 0zm-2 0zm-6.5 0zm-13 0zm-23.5 0zm-7 0zm-2.5 0zm-2 0zm-1 0zm-1 0zm-2.5 0zm-2 0zm-2 0zm-.5 0zm-2 0zm-1 0zm-1.5 0zm-1 0zm-1.5 0zm-1 0zm-.5 0zm-1 0zm-1 0zm-1.5 0zm-1.5 0zm-2 0zm6.5 .5zm.5 0zm.5 0zm.5 0zm.5 0zm2.5 0zm1 0zm1 0zm.5 0zm2.5 0zm1 0zm1.5 0zm2 0zm2.5 0zm.5 0zm1 0zm5 0zm8.5 0zm4 0zm30.5 0zm3.5 0zm.5 0zm3.5 0zm2.5 0zm.5 0zm2.5 0zm1.5 0zm.5 0zm.5 0zm1 0zm1 0zm2.5 0zm3 .5zm-4.5 0zm-.5 0zm-1 0zm-1 0zm-.5 0zm-.5 0zm-.5 0zm-.5 0zm-.5 0zm-2 0zm-2.5 0zm-11 0zm-.5 0zm-26 0zm-16.5 0zm-1 0zm-1 0zm-3 0zm-1 0zm-1 0zm-.5 0zm-4 0zm-.5 0zm-1 0zm-3 0zm-.5 0zm-.5 0zm-1.5 0zm-1.5 0zm-1 0zm-1 0zm-4 0zm-.5 0zm5.5 .5zm1 0zm.5 0zm1.5 0zm1 0zm1 0zm2.5 0zm1 0zm4 0zm1.5 0zm.5 0zm.5 0zm.5 0zm7 0zm.5 0zm4.5 0zm26 0zm16 0zm2.5 0zm4 0zm1.5 0zm2 0zm1.5 0zm4.5 0zm5 .5zm-3 0zm-2.5 0zm-1 0zm-2 0zm-1 0zm-1 0zm-.5 0zm-2 0zm-1.5 0zm-1 0zm-.5 0zm-2 0zm-1 0zm-2 0zm-24.5 0zm-7 0zm-4 0zm-5 0zm-8 0zm-1 0zm-1 0zm-2 0zm-3.5 0zm-3.5 0zm-1 0zm-2 0zm-1 0zm-.5 0zm-3 0zm-1 0zm-2 0zm-2.5 0zm-5.5 0zm-2.5 .5zm2 0zm5 0zm.5 0zm.5 0zm1 0zm1.5 0zm.5 0zm2 0zm1 0zm.5 0zm.5 0zm.5 0zm.5 0zm.5 0zm.5 0zm1 0zm2 0zm.5 0zm2 0zm2 0zm4.5 0zm6 0zm.5 0zm6.5 0zm37.5 0zm2 0zm2 0zm.5 0zm2.5 0zm1.5 0zm3 0zm1 0zm3 0zm3.5 0zm1 0zm-2.5 .5zm-1.5 0zm-3 0zm-1 0zm-.5 0zm-9.5 0zm-.5 0zm-2 0zm-30.5 0zm-2.5 0zm-5 0zm-5.5 0zm-1.5 0zm-5 0zm-4 0zm-1 0zm-.5 0zm-1 0zm-2 0zm-3.5 0zm-.5 0zm-2 0zm-2 0zm-4 0zm-4.5 .5zm7.5 0zm2 0zm3.5 0zm2 0zm1 0zm2 0zm5 0zm4.5 0zm49.5 0zm7 0zm2.5 0zm4.5 0zm-1.5 .5zm-.5 0zm-4 0zm-.5 0zm-.5 0zm-2 0zm-1.5 0zm-1.5 0zm-1.5 0zm-30 0zm-23 0zm-1.5 0zm-.5 0zm-4 0zm-.5 0zm-4.5 0zm-3 0zm-4.5 0zm-.5 0zm-4.5 .5zm5.5 0zm1 0zm.5 0zm.5 0zm1.5 0zm1.5 0zm2.5 0zm1.5 0zm4.5 0zm1 0zm2 0zm6 0zm4 0zm41 0zm3 0zm10 0zm2.5 0zm5.5 0zm1.5 .5zm-5.5 0zm-1.5 0zm-3 0zm-4.5 0zm-1.5 0zm-2.5 0zm-2.5 0zm-3 0zm-35 0zm-3 0zm-2 0zm-8.5 0zm-.5 0zm-1 0zm-8 0zm-3 0zm-2 0zm-1 0zm-3.5 0zm-2 0zm-8 0zm13.5 .5zm2 0zm1.5 0zm1.5 0zm4 0zm1 0zm1.5 0zm2.5 0zm4 0zm1.5 0zm15.5 0zm4 0zm21.5 0zm2 0zm7 0zm1.5 0zm1 0zm6 0zm3.5 .5zm-6.5 0zm-1.5 0zm-9.5 0zm-3.5 0zm-41 0zm-5 0zm-1 0zm-2 0zm-1 0zm-4 0zm-5 0zm-5.5 0zm-5 0zm5.5 .5zm3.5 0zm2.5 0zm1.5 0zm1.5 0zm9.5 0zm1 0zm49.5 0zm10.5 0zm.5 0zm.5 0zm.5 0zm6 .5zm-21.5 0zm-1 0zm-42.5 0zm-6.5 0zm-3 0zm-10.5 0zm-1 0zm-8 0zm-2.5 .5zm1 0zm6 0zm5 0zm1 0zm1 0zm1 0zm61 0zm7.5 0zm6.5 0zm5 0zm-.5 .5zm-1 0zm-9 0zm-51 0zm-13.5 0zm-5 0zm-2 0zm-6.5 0zm-2.5 0zm-.5 .5zm12 0zm2.5 0zm2 0zm1 0zm3.5 0zm6 0zm41.5 0zm2.5 0zm5 .5zm-15 0zm-47.5 0zm-7.5 0zm-2.5 0zm3 .5zm1.5 0zm4 0zm73.5 0zm.5 0zm4.5 0zm3 0zm-7.5 .5zm-70.5 0zm-2.5 0zm-4 0zm-5.5 0zm11 .5zm3 0zm29.5 0zm34 .5zm-7.5 0zm-53.5 0zm-4.5 0zm-12 0zm-3 .5zm15.5 0zm15 0zm56 0zm-9.5 .5zm-46.5 0zm-11 0zm-1 0zm-13.5 0zm9.5 .5zm55 0zm23.5 0zm0 .5zm-65 0zm-7 0zm-14.5 0zm-9 .5zm1 0zm20.5 0zm2.5 .5zm-8 0zm-14.5 .5zm4 0zm20 0zm59.5 .5zm-77.5 0zm-6 .5zm9.5 0zm6 0zm-4 .5zm11 .5zm54.5 .5zm-2.5 0zm-59 1.5z" stroke="#000" stroke-width="1.3" stroke-linecap="square" fill="none"/>
<g stroke="#111" fill="none">
<rect x="382.6" y="29.5" width="129.5" height="124.5" stroke-width="1.15"/>
<path d="M382.6 107.4H512.1M448.4 29.5V154.0" stroke-width="1.1"/>
<path d="M382.6 154.0v4M382.6 154h-4M392.3 154.0v2.2M382.6 144.6h-2.2M398 154.0v2.2M382.6 139.1h-2.2M402.1 154.0v2.2M382.6 135.3h-2.2M405.2 154.0v2.2M382.6 132.2h-2.2M407.8 154.0v2.2M382.6 129.8h-2.2M410 154.0v2.2M382.6 127.7h-2.2M411.8 154.0v2.2M382.6 125.9h-2.2M413.5 154.0v2.2M382.6 124.3h-2.2M415 154.0v4M382.6 122.9h-4M424.7 154.0v2.2M382.6 113.5h-2.2M430.4 154.0v2.2M382.6 108h-2.2M434.5 154.0v2.2M382.6 104.1h-2.2M437.6 154.0v2.2M382.6 101.1h-2.2M440.2 154.0v2.2M382.6 98.7h-2.2M442.3 154.0v2.2M382.6 96.6h-2.2M444.2 154.0v2.2M382.6 94.8h-2.2M445.9 154.0v2.2M382.6 93.2h-2.2M447.4 154.0v4M382.6 91.8h-4M457.1 154.0v2.2M382.6 82.4h-2.2M462.8 154.0v2.2M382.6 76.9h-2.2M466.8 154.0v2.2M382.6 73h-2.2M470 154.0v2.2M382.6 70h-2.2M472.5 154.0v2.2M382.6 67.5h-2.2M474.7 154.0v2.2M382.6 65.4h-2.2M476.6 154.0v2.2M382.6 63.6h-2.2M478.2 154.0v2.2M382.6 62h-2.2M479.7 154.0v4M382.6 60.6h-4M489.5 154.0v2.2M382.6 51.3h-2.2M495.2 154.0v2.2M382.6 45.8h-2.2M499.2 154.0v2.2M382.6 41.9h-2.2M502.4 154.0v2.2M382.6 38.9h-2.2M504.9 154.0v2.2M382.6 36.4h-2.2M507.1 154.0v2.2M382.6 34.3h-2.2M509 154.0v2.2M382.6 32.5h-2.2M510.6 154.0v2.2M382.6 30.9h-2.2M512.1 154.0v4M382.6 29.5h-4" stroke-width="0.8"/>
</g>
<g font-family="'Liberation Serif',serif" font-weight="bold" font-size="7" fill="#000" stroke="#000" stroke-width="0.35">
<text x="379.4" y="167.2">10<tspan dy="-2" font-size="6.2">0</tspan></text>
<text x="365.2" y="156.7">10<tspan dy="-2" font-size="6.2">0</tspan></text>
<text x="411.8" y="167.2">10<tspan dy="-2" font-size="6.2">1</tspan></text>
<text x="365.2" y="125.6">10<tspan dy="-2" font-size="6.2">1</tspan></text>
<text x="444.2" y="167.2">10<tspan dy="-2" font-size="6.2">2</tspan></text>
<text x="365.2" y="94.5">10<tspan dy="-2" font-size="6.2">2</tspan></text>
<text x="476.5" y="167.2">10<tspan dy="-2" font-size="6.2">3</tspan></text>
<text x="365.2" y="63.3">10<tspan dy="-2" font-size="6.2">3</tspan></text>
<text x="508.9" y="167.2">10<tspan dy="-2" font-size="6.2">4</tspan></text>
<text x="365.2" y="32.2">10<tspan dy="-2" font-size="6.2">4</tspan></text>
</g>
<path d="M397.5 102.5zm66 1.5zm25 4zm-1.5 .5zm-89.5 1.5zm88 0zm5 .5zm-.5 0zm-94.5 0zm-2.5 .5zm4 0zm89 0zm.5 0zm1.5 0zm1 .5zm-1.5 0zm-86 0zm-1.5 0zm53 .5zm20 0zm6 0zm11.5 .5zm-1 0zm-2 0zm-6 0zm-50 0zm-14 .5zm65 0zm3 0zm4.5 0zm-2 .5zm-.5 0zm-2.5 0zm-3 0zm-8 0zm-41 0zm-5 0zm-28.5 .5zm84 0zm.5 0zm1 0zm1 0zm4.5 0zm7 .5zm-8 0zm-.5 0zm-4.5 0zm-4.5 0zm-4 0zm-2.5 0zm-62 0zm-18.5 0zm36.5 .5zm13 0zm29.5 0zm7.5 0zm6.5 0zm1.5 0zm.5 0zm2.5 0zm1 0zm1 0zm2 .5zm-2.5 0zm-1 0zm-3 0zm-.5 0zm-9.5 0zm-1 0zm-4 0zm-34.5 0zm-18 0zm-5 0zm-9.5 0zm-9 .5zm2 0zm5 0zm6.5 0zm1 0zm.5 0zm2 0zm1.5 0zm10 0zm3.5 0zm5 0zm31.5 0zm9 0zm1 0zm2 0zm4 0zm2.5 0zm2.5 0zm.5 0zm.5 0zm2 0zm.5 0zm1 0zm3 .5zm-4.5 0zm-1 0zm-.5 0zm-.5 0zm-.5 0zm-1 0zm-2 0zm-1 0zm-1.5 0zm-3 0zm-5 0zm-1 0zm-48.5 0zm-11.5 0zm-9.5 0zm-15 0zm-3 0zm6.5 .5zm17.5 0zm5.5 0zm3.5 0zm.5 0zm1.5 0zm11.5 0zm22.5 0zm5 0zm3.5 0zm15 0zm6.5 0zm3.5 0zm1 0zm2 0zm3 0zm-3 .5zm-5.5 0zm-1.5 0zm-1 0zm-6.5 0zm-14 0zm-4.5 0zm-2 0zm-18 0zm-15 0zm-7 0zm-.5 0zm-2 0zm-4 0zm-7 0zm-4.5 0zm-5.5 0zm-1.5 .5zm6 0zm.5 0zm6.5 0zm1 0zm.5 0zm10 0zm.5 0zm.5 0zm46 0zm13 0zm1.5 0zm5 0zm3.5 0zm2.5 0zm.5 0zm3 0zm1 0zm-2.5 .5zm-1 0zm-1 0zm-3.5 0zm-2.5 0zm-5.5 0zm-4 0zm-4 0zm-20.5 0zm-20 0zm-1 0zm-10.5 0zm-7.5 0zm-1.5 0zm-9 0zm-8.5 0zm-1.5 0zm5 .5zm.5 0zm2 0zm1 0zm2.5 0zm3.5 0zm1 0zm.5 0zm2 0zm1 0zm1 0zm8 0zm1.5 0zm3.5 0zm6.5 0zm23 0zm4.5 0zm10 0zm2 0zm1 0zm2 0zm3.5 0zm4.5 0zm.5 0zm4 0zm2.5 0zm2 0zm1 0zm2 0zm3 .5zm-1.5 0zm-2 0zm-2 0zm-.5 0zm-3 0zm-1.5 0zm-4.5 0zm-4.5 0zm-2 0zm-1 0zm-6 0zm-1.5 0zm-10 0zm-16 0zm-8 0zm-7 0zm-1.5 0zm-1.5 0zm-.5 0zm-1.5 0zm-.5 0zm-1 0zm-1.5 0zm-1 0zm-1.5 0zm-3.5 0zm-2 0zm-.5 0zm-1 0zm-.5 0zm-4.5 0zm-1 0zm-1.5 0zm-1 0zm-1 0zm-1.5 0zm-2 0zm-4.5 0zm-1.5 0zm.5 .5zm.5 0zm3.5 0zm2.5 0zm2 0zm.5 0zm2 0zm1.5 0zm5 0zm1 0zm1 0zm.5 0zm1 0zm6 0zm1.5 0zm4 0zm1.5 0zm.5 0zm6 0zm3.5 0zm4 0zm6 0zm2 0zm5 0zm8.5 0zm5.5 0zm2.5 0zm4 0zm8 0zm5.5 0zm1 0zm.5 0zm1.5 0zm.5 0zm1 0zm3 0zm1 0zm1.5 .5zm-7.5 0zm-4 0zm-2.5 0zm-.5 0zm-1.5 0zm-2.5 0zm-16 0zm-13 0zm-7.5 0zm-1 0zm-4.5 0zm-1 0zm-.5 0zm-1.5 0zm-2 0zm-2.5 0zm-.5 0zm-2.5 0zm-1.5 0zm-1 0zm-1 0zm-1.5 0zm-3.5 0zm-.5 0zm-1 0zm-.5 0zm-.5 0zm-.5 0zm-.5 0zm-2 0zm-.5 0zm-.5 0zm-1 0zm-1 0zm-2.5 0zm-1 0zm-.5 0zm-1.5 0zm-1.5 0zm-1 0zm-2 0zm-1 0zm-1 0zm-1 0zm-1.5 0zm-1.5 0zm-.5 0zm2.5 .5zm1 0zm.5 0zm1 0zm1.5 0zm.5 0zm1.5 0zm.5 0zm2 0zm1 0zm.5 0zm.5 0zm.5 0zm.5 0zm1 0zm1.5 0zm1.5 0zm1 0zm1 0zm.5 0zm2 0zm.5 0zm.5 0zm.5 0zm1.5 0zm1.5 0zm.5 0zm.5 0zm.5 0zm2.5 0zm1.5 0zm1 0zm4.5 0zm2.5 0zm5.5 0zm10.5 0zm3.5 0zm7.5 0zm8 0zm2.5 0zm2 0zm1.5 0zm7 0zm2.5 0zm.5 0zm1 0zm4 0zm.5 0zm.5 0zm1 0zm1.5 0zm2 0zm1 0zm1 .5zm-2.5 0zm-.5 0zm-.5 0zm-.5 0zm-2.5 0zm-5 0zm-.5 0zm-4.5 0zm-.5 0zm-4 0zm-1 0zm-1 0zm-2.5 0zm-1 0zm-3 0zm-.5 0zm-.5 0zm-6 0zm-11 0zm-3 0zm-6 0zm-13 0zm-2 0zm-.5 0zm-.5 0zm-3 0zm-1 0zm-.5 0zm-2 0zm-.5 0zm-.5 0zm-.5 0zm-.5 0zm-1 0zm-.5 0zm-1 0zm-.5 0zm-1 0zm-1.5 0zm-1 0zm-2 0zm-2 0zm-.5 0zm-.5 0zm-.5 0zm-1.5 0zm-1 0zm-.5 0zm-6 0zm-.5 0zm-1 0zm-.5 0zm-2 .5zm2.5 0zm1.5 0zm2 0zm2.5 0zm3 0zm.5 0zm1 0zm1.5 0zm.5 0zm.5 0zm.5 0zm.5 0zm1 0zm.5 0zm.5 0zm.5 0zm2 0zm.5 0zm1.5 0zm1 0zm1 0zm2 0zm.5 0zm.5 0zm.5 0zm.5 0zm.5 0zm4 0zm.5 0zm5 0zm.5 0zm.5 0zm3 0zm4.5 0zm1 0zm7.5 0zm10 0zm6.5 0zm5 0zm4.5 0zm3 0zm3 0zm1 0zm.5 0zm4 0zm1 0zm5.5 0zm.5 0zm8 0zm-9.5 .5zm-.5 0zm-1.5 0zm-4.5 0zm-3.5 0zm-.5 0zm-2 0zm-3.5 0zm-.5 0zm-5 0zm-3.5 0zm-1 0zm-5.5 0zm-1 0zm-2 0zm-4 0zm-1 0zm-.5 0zm-1.5 0zm-5 0zm-5 0zm-.5 0zm-2 0zm-9.5 0zm-2.5 0zm-1 0zm-.5 0zm-1 0zm-.5 0zm-1 0zm-.5 0zm-.5 0zm-.5 0zm-.5 0zm-2 0zm-1 0zm-.5 0zm-.5 0zm-2.5 0zm-.5 0zm-.5 0zm-1.5 0zm-.5 0zm-.5 0zm-1 0zm-1 0zm-.5 0zm-.5 0zm-1 0zm-2 0zm-.5 0zm-.5 0zm-1 0zm-1 0zm-.5 0zm-.5 0zm-.5 0zm-.5 0zm-2 0zm-.5 0zm-1.5 0zm1 .5zm1 0zm3 0zm.5 0zm.5 0zm.5 0zm1 0zm1 0zm2 0zm1 0zm1 0zm.5 0zm.5 0zm.5 0zm.5 0zm.5 0zm1 0zm.5 0zm1 0zm2 0zm.5 0zm.5 0zm.5 0zm1 0zm1 0zm.5 0zm2 0zm.5 0zm.5 0zm.5 0zm.5 0zm.5 0zm.5 0zm.5 0zm.5 0zm1.5 0zm1 0zm2 0zm2.5 0zm2.5 0zm2.5 0zm.5 0zm3 0zm3.5 0zm.5 0zm3 0zm.5 0zm4 0zm8.5 0zm.5 0zm1 0zm3.5 0zm8.5 0zm2.5 0zm9 0zm.5 0zm.5 0zm1 0zm2 0zm3.5 0zm1 0zm.5 0zm3 .5zm-2.5 0zm-.5 0zm-.5 0zm-5.5 0zm-.5 0zm-8 0zm-8 0zm-2.5 0zm-2 0zm-1.5 0zm-1 0zm-9 0zm-1 0zm-1.5 0zm-2.5 0zm-6.5 0zm-.5 0zm-4.5 0zm-3 0zm-2.5 0zm-1 0zm-2.5 0zm-1.5 0zm-.5 0zm-2 0zm-.5 0zm-.5 0zm-1 0zm-2 0zm-.5 0zm-.5 0zm-2 0zm-.5 0zm-.5 0zm-.5 0zm-1 0zm-.5 0zm-1 0zm-1 0zm-.5 0zm-.5 0zm-.5 0zm-1.5 0zm-1 0zm-.5 0zm-.5 0zm-.5 0zm-.5 0zm-.5 0zm-1.5 0zm-.5 0zm-.5 0zm-.5 0zm-.5 0zm-.5 0zm-.5 0zm-.5 0zm-.5 0zm-.5 0zm-1 0zm-.5 0zm-.5 0zm-1.5 0zm-.5 0zm-.5 0zm-2 .5zm2.5 0zm.5 0zm1 0zm.5 0zm.5 0zm.5 0zm.5 0zm.5 0zm.5 0zm1 0zm1 0zm.5 0zm.5 0zm1 0zm.5 0zm1.5 0zm.5 0zm.5 0zm1 0zm.5 0zm.5 0zm1 0zm.5 0zm.5 0zm1.5 0zm.5 0zm.5 0zm1 0zm1 0zm.5 0zm1 0zm.5 0zm.5 0zm.5 0zm.5 0zm1 0zm.5 0zm.5 0zm.5 0zm.5 0zm.5 0zm1 0zm.5 0zm.5 0zm1.5 0zm.5 0zm.5 0zm6.5 0zm2 0zm.5 0zm1 0zm1 0zm6.5 0zm2 0zm2 0zm.5 0zm5 0zm1 0zm8 0zm.5 0zm1.5 0zm7.5 0zm5 0zm2 0zm4 0zm1.5 0zm1 0zm5 0zm1 0zm7 .5zm-1 0zm-5.5 0zm-2.5 0zm-.5 0zm-6.5 0zm-1 0zm-15 0zm-.5 0zm-1.5 0zm-10 0zm-2 0zm-1.5 0zm-2 0zm-9 0zm-2 0zm-5 0zm-4.5 0zm-.5 0zm-2.5 0zm-.5 0zm-.5 0zm-.5 0zm-.5 0zm-1 0zm-.5 0zm-1 0zm-.5 0zm-.5 0zm-1 0zm-.5 0zm-.5 0zm-.5 0zm-.5 0zm-.5 0zm-.5 0zm-1.5 0zm-.5 0zm-.5 0zm-.5 0zm-.5 0zm-.5 0zm-.5 0zm-.5 0zm-1 0zm-.5 0zm-1.5 0zm-1 0zm-.5 0zm-.5 0zm-.5 0zm-.5 0zm-1 0zm-.5 0zm-.5 0zm-1 0zm-.5 0zm-1 0zm-1 0zm-1 0zm-.5 0zm-.5 0zm-1 0zm-.5 0zm-.5 0zm-.5 0zm-.5 0zm-.5 0zm-1.5 0zm-2 .5zm2 0zm.5 0zm1.5 0zm1 0zm.5 0zm.5 0zm.5 0zm1.5 0zm1 0zm.5 0zm.5 0zm1 0zm.5 0zm.5 0zm.5 0zm.5 0zm.5 0zm.5 0zm.5 0zm1 0zm.5 0zm.5 0zm.5 0zm.5 0zm1 0zm1.5 0zm1 0zm.5 0zm1.5 0zm.5 0zm.5 0zm.5 0zm.5 0zm.5 0zm1 0zm.5 0zm.5 0zm.5 0zm1 0zm.5 0zm1.5 0zm.5 0zm.5 0zm.5 0zm.5 0zm.5 0zm2 0zm.5 0zm2 0zm1 0zm.5 0zm4.5 0zm2.5 0zm3 0zm1.5 0zm1 0zm2.5 0zm2.5 0zm1.5 0zm4.5 0zm.5 0zm4.5 0zm1 0zm.5 0zm.5 0zm.5 0zm3 0zm5.5 0zm.5 0zm.5 0zm3 0zm7.5 0zm2 0zm.5 0zm2.5 0zm1.5 0zm1.5 0zm2 0zm1 0zm1.5 0zm2.5 0zm1.5 0zm-4.5 .5zm-1.5 0zm-4.5 0zm-1 0zm-3 0zm-3 0zm-2.5 0zm-.5 0zm-4 0zm-1.5 0zm-2 0zm-.5 0zm-1 0zm-1 0zm-1.5 0zm-1.5 0zm-2 0zm-3 0zm-1 0zm-1 0zm-9 0zm-2 0zm-1.5 0zm-2 0zm-.5 0zm-1 0zm-3 0zm-7.5 0zm-2.5 0zm-1 0zm-.5 0zm-1 0zm-.5 0zm-.5 0zm-.5 0zm-1 0zm-1 0zm-1 0zm-1.5 0zm-.5 0zm-.5 0zm-.5 0zm-1 0zm-.5 0zm-.5 0zm-.5 0zm-1 0zm-.5 0zm-2 0zm-2 0zm-1 0zm-.5 0zm-.5 0zm-.5 0zm-.5 0zm-.5 0zm-1.5 0zm-.5 0zm-.5 0zm-1 0zm-1.5 0zm-.5 0zm-1 0zm-1 0zm-.5 0zm-1.5 0zm-.5 0zm-1 0zm-.5 0zm-.5 0zm-1 0zm-2.5 .5zm1 0zm.5 0zm.5 0zm2.5 0zm.5 0zm.5 0zm.5 0zm.5 0zm.5 0zm.5 0zm.5 0zm.5 0zm.5 0zm.5 0zm.5 0zm.5 0zm.5 0zm.5 0zm.5 0zm1.5 0zm1.5 0zm.5 0zm.5 0zm.5 0zm.5 0zm.5 0zm1 0zm.5 0zm.5 0zm1 0zm.5 0zm.5 0zm.5 0zm.5 0zm.5 0zm.5 0zm1 0zm.5 0zm.5 0zm1 0zm1.5 0zm1 0zm.5 0zm.5 0zm.5 0zm.5 0zm.5 0zm.5 0zm.5 0zm.5 0zm.5 0zm.5 0zm2.5 0zm.5 0zm1 0zm.5 0zm.5 0zm1 0zm3.5 0zm1.5 0zm3.5 0zm2.5 0zm1.5 0zm2.5 0zm2 0zm1.5 0zm5 0zm.5 0zm1.5 0zm1 0zm4 0zm1 0zm5 0zm2 0zm3 0zm2 0zm8.5 0zm2.5 0zm4 0zm7 0zm1.5 0zm-2.5 .5zm-2 0zm-3 0zm-9 0zm-.5 0zm-2 0zm-.5 0zm-2.5 0zm-1 0zm-4 0zm-.5 0zm-6.5 0zm-1 0zm-2.5 0zm-2.5 0zm-5.5 0zm-1 0zm-6.5 0zm-.5 0zm-2.5 0zm-4.5 0zm-3 0zm-2 0zm-2.5 0zm-2 0zm-.5 0zm-.5 0zm-.5 0zm-.5 0zm-.5 0zm-.5 0zm-.5 0zm-.5 0zm-1.5 0zm-.5 0zm-1 0zm-.5 0zm-1 0zm-1 0zm-.5 0zm-.5 0zm-.5 0zm-.5 0zm-.5 0zm-.5 0zm-.5 0zm-.5 0zm-1 0zm-.5 0zm-1 0zm-.5 0zm-1 0zm-.5 0zm-.5 0zm-.5 0zm-.5 0zm-.5 0zm-.5 0zm-.5 0zm-.5 0zm-.5 0zm-1 0zm-2.5 0zm-.5 0zm-1 0zm-.5 0zm-.5 0zm-2 0zm-.5 0zm-1 0zm-.5 0zm-1.5 0zm-.5 0zm-2 0zm-.5 .5zm1.5 0zm.5 0zm1 0zm1.5 0zm1 0zm.5 0zm.5 0zm1 0zm.5 0zm.5 0zm.5 0zm1 0zm.5 0zm.5 0zm.5 0zm.5 0zm1.5 0zm.5 0zm.5 0zm1 0zm.5 0zm.5 0zm.5 0zm.5 0zm.5 0zm1 0zm.5 0zm.5 0zm.5 0zm.5 0zm.5 0zm.5 0zm.5 0zm.5 0zm1 0zm.5 0zm.5 0zm.5 0zm.5 0zm.5 0zm1 0zm2 0zm.5 0zm.5 0zm2.5 0zm.5 0zm.5 0zm.5 0zm.5 0zm1.5 0zm1 0zm.5 0zm1.5 0zm1 0zm.5 0zm3 0zm1 0zm3.5 0zm.5 0zm.5 0zm1.5 0zm.5 0zm1.5 0zm5 0zm4 0zm2 0zm2.5 0zm2.5 0zm5.5 0zm6 0zm3.5 0zm1.5 0zm.5 0zm8.5 0zm1.5 0zm5 0zm5 0zm-3.5 .5zm-6 0zm-7.5 0zm-9.5 0zm-.5 0zm-5 0zm-2 0zm-2 0zm-1.5 0zm-1 0zm-3.5 0zm-3 0zm-2 0zm-9.5 0zm-2 0zm-1 0zm-3 0zm-1.5 0zm-1.5 0zm-3.5 0zm-1.5 0zm-.5 0zm-.5 0zm-1 0zm-.5 0zm-1 0zm-1 0zm-1.5 0zm-.5 0zm-.5 0zm-.5 0zm-1 0zm-.5 0zm-.5 0zm-1 0zm-.5 0zm-.5 0zm-.5 0zm-.5 0zm-.5 0zm-1.5 0zm-.5 0zm-.5 0zm-.5 0zm-.5 0zm-.5 0zm-.5 0zm-1.5 0zm-.5 0zm-1 0zm-.5 0zm-.5 0zm-.5 0zm-.5 0zm-.5 0zm-.5 0zm-.5 0zm-.5 0zm-.5 0zm-1.5 0zm-1.5 0zm-.5 0zm-1 0zm-1.5 0zm-1 0zm-.5 0zm-1 0zm-.5 0zm-.5 0zm-.5 0zm-.5 0zm-1 0zm-.5 .5zm2 0zm.5 0zm.5 0zm.5 0zm1.5 0zm1 0zm.5 0zm.5 0zm.5 0zm1 0zm1 0zm1 0zm.5 0zm.5 0zm.5 0zm1 0zm.5 0zm1 0zm.5 0zm.5 0zm.5 0zm.5 0zm.5 0zm.5 0zm.5 0zm1 0zm.5 0zm.5 0zm.5 0zm.5 0zm.5 0zm.5 0zm.5 0zm.5 0zm.5 0zm.5 0zm.5 0zm.5 0zm.5 0zm.5 0zm.5 0zm.5 0zm.5 0zm.5 0zm.5 0zm.5 0zm.5 0zm.5 0zm.5 0zm.5 0zm1 0zm1 0zm1.5 0zm1 0zm1 0zm.5 0zm.5 0zm.5 0zm.5 0zm.5 0zm1 0zm2.5 0zm.5 0zm2 0zm1 0zm3 0zm1 0zm1.5 0zm.5 0zm1.5 0zm.5 0zm.5 0zm12.5 0zm2.5 0zm1.5 0zm1.5 0zm4 0zm2.5 0zm.5 0zm2.5 0zm4.5 0zm7.5 0zm2.5 0zm5 0zm-10 .5zm-1.5 0zm-2 0zm-1.5 0zm-.5 0zm-3.5 0zm-1 0zm-1 0zm-7 0zm-3 0zm-10 0zm-5 0zm-.5 0zm-1.5 0zm-.5 0zm-1 0zm-1.5 0zm-2.5 0zm-2.5 0zm-.5 0zm-3.5 0zm-1 0zm-.5 0zm-.5 0zm-1.5 0zm-.5 0zm-.5 0zm-1.5 0zm-.5 0zm-.5 0zm-.5 0zm-.5 0zm-.5 0zm-.5 0zm-.5 0zm-1 0zm-.5 0zm-.5 0zm-.5 0zm-.5 0zm-.5 0zm-.5 0zm-.5 0zm-1 0zm-.5 0zm-.5 0zm-1 0zm-1 0zm-.5 0zm-.5 0zm-.5 0zm-.5 0zm-.5 0zm-.5 0zm-.5 0zm-.5 0zm-.5 0zm-1.5 0zm-1 0zm-.5 0zm-.5 0zm-.5 0zm-1 0zm-.5 0zm-.5 0zm-.5 0zm-.5 0zm-1 0zm-.5 0zm-.5 0zm-1 0zm-.5 0zm-.5 0zm-1 0zm-.5 0zm-1 0zm-1 0zm-1.5 0zm-.5 0zm-.5 0zm-.5 0zm-1.5 0zm2 .5zm.5 0zm.5 0zm.5 0zm.5 0zm.5 0zm1.5 0zm.5 0zm1.5 0zm.5 0zm.5 0zm.5 0zm.5 0zm.5 0zm.5 0zm.5 0zm.5 0zm.5 0zm.5 0zm.5 0zm.5 0zm.5 0zm.5 0zm1.5 0zm.5 0zm.5 0zm.5 0zm.5 0zm.5 0zm1 0zm.5 0zm.5 0zm.5 0zm.5 0zm.5 0zm1 0zm1 0zm.5 0zm.5 0zm.5 0zm.5 0zm1 0zm.5 0zm.5 0zm.5 0zm.5 0zm1 0zm.5 0zm.5 0zm1 0zm.5 0zm.5 0zm1 0zm1 0zm4 0zm1.5 0zm.5 0zm.5 0zm3 0zm3.5 0zm1.5 0zm2 0zm5.5 0zm6 0zm1 0zm1 0zm2 0zm.5 0zm1 0zm1.5 0zm1 0zm.5 0zm1.5 0zm.5 0zm.5 0zm1.5 0zm2 0zm2 0zm1 0zm.5 0zm1 0zm.5 0zm15 0zm3 0zm-2 .5zm-6.5 0zm-4.5 0zm-3 0zm-3.5 0zm-5.5 0zm-1 0zm-4.5 0zm-1.5 0zm-2.5 0zm-13 0zm-.5 0zm-1 0zm-3 0zm-1 0zm-3 0zm-2 0zm-2 0zm-1.5 0zm-1 0zm-.5 0zm-.5 0zm-.5 0zm-.5 0zm-1 0zm-.5 0zm-.5 0zm-.5 0zm-2 0zm-.5 0zm-1 0zm-.5 0zm-.5 0zm-.5 0zm-.5 0zm-.5 0zm-.5 0zm-.5 0zm-.5 0zm-.5 0zm-.5 0zm-.5 0zm-.5 0zm-1 0zm-1 0zm-.5 0zm-.5 0zm-.5 0zm-.5 0zm-1 0zm-.5 0zm-.5 0zm-1 0zm-1.5 0zm-.5 0zm-2 0zm-.5 0zm-.5 0zm-1 0zm-.5 0zm-.5 0zm-.5 0zm-1 0zm-1 0zm-.5 0zm-.5 0zm-.5 0zm-1 0zm-.5 0zm-.5 0zm-.5 0zm-.5 0zm-1 0zm-.5 0zm-2.5 .5zm.5 0zm1 0zm1 0zm1.5 0zm1.5 0zm.5 0zm.5 0zm.5 0zm.5 0zm1.5 0zm.5 0zm.5 0zm.5 0zm1.5 0zm.5 0zm.5 0zm2 0zm.5 0zm.5 0zm1 0zm.5 0zm.5 0zm.5 0zm1 0zm.5 0zm.5 0zm.5 0zm.5 0zm.5 0zm.5 0zm.5 0zm.5 0zm.5 0zm.5 0zm.5 0zm.5 0zm.5 0zm.5 0zm.5 0zm1 0zm.5 0zm.5 0zm.5 0zm.5 0zm.5 0zm.5 0zm.5 0zm.5 0zm.5 0zm.5 0zm1 0zm.5 0zm.5 0zm.5 0zm3 0zm.5 0zm1.5 0zm.5 0zm.5 0zm1 0zm.5 0zm.5 0zm2.5 0zm.5 0zm.5 0zm.5 0zm.5 0zm3 0zm2.5 0zm1.5 0zm3.5 0zm7 0zm1 0zm.5 0zm2 0zm2 0zm.5 0zm.5 0zm8 0zm13 0zm1 0zm-14.5 .5zm-4.5 0zm-1 0zm-1 0zm-.5 0zm-1 0zm-2 0zm-1.5 0zm-.5 0zm-11 0zm-1 0zm-.5 0zm-1 0zm-1.5 0zm-1.5 0zm-2 0zm-1.5 0zm-.5 0zm-1 0zm-1.5 0zm-1 0zm-2.5 0zm-2 0zm-.5 0zm-.5 0zm-.5 0zm-.5 0zm-.5 0zm-.5 0zm-2.5 0zm-.5 0zm-.5 0zm-.5 0zm-1 0zm-.5 0zm-1 0zm-.5 0zm-.5 0zm-.5 0zm-.5 0zm-1 0zm-.5 0zm-.5 0zm-1 0zm-1 0zm-.5 0zm-.5 0zm-.5 0zm-.5 0zm-.5 0zm-.5 0zm-.5 0zm-.5 0zm-.5 0zm-1 0zm-.5 0zm-.5 0zm-.5 0zm-.5 0zm-.5 0zm-1 0zm-.5 0zm-.5 0zm-.5 0zm-.5 0zm-.5 0zm-1.5 0zm-.5 0zm-1 0zm-.5 0zm-.5 0zm-.5 0zm-.5 0zm-2 0zm-.5 0zm-1.5 0zm-1.5 .5zm1.5 0zm1 0zm.5 0zm.5 0zm.5 0zm1 0zm.5 0zm2 0zm.5 0zm.5 0zm.5 0zm.5 0zm1.5 0zm.5 0zm.5 0zm.5 0zm.5 0zm.5 0zm1 0zm.5 0zm.5 0zm.5 0zm.5 0zm.5 0zm.5 0zm.5 0zm.5 0zm.5 0zm1 0zm.5 0zm1 0zm1 0zm.5 0zm.5 0zm.5 0zm.5 0zm.5 0zm1 0zm.5 0zm1 0zm.5 0zm.5 0zm.5 0zm.5 0zm.5 0zm.5 0zm.5 0zm.5 0zm1 0zm.5 0zm.5 0zm.5 0zm.5 0zm.5 0zm.5 0zm.5 0zm.5 0zm.5 0zm1 0zm1 0zm1.5 0zm1 0zm2 0zm.5 0zm3.5 0zm1 0zm.5 0zm.5 0zm1 0zm.5 0zm2 0zm2 0zm.5 0zm3 0zm1.5 0zm1.5 0zm6 0zm5.5 0zm.5 0zm.5 0zm1 0zm8.5 0zm7.5 0zm11.5 0zm-3 .5zm-7.5 0zm-3 0zm-6.5 0zm-2.5 0zm-9.5 0zm-5 0zm-4.5 0zm-3.5 0zm-1 0zm-3 0zm-1.5 0zm-.5 0zm-.5 0zm-.5 0zm-.5 0zm-2 0zm-.5 0zm-2 0zm-.5 0zm-.5 0zm-2 0zm-2 0zm-5 0zm-.5 0zm-.5 0zm-.5 0zm-.5 0zm-.5 0zm-.5 0zm-1 0zm-.5 0zm-.5 0zm-.5 0zm-.5 0zm-.5 0zm-.5 0zm-1 0zm-.5 0zm-.5 0zm-.5 0zm-.5 0zm-.5 0zm-.5 0zm-.5 0zm-.5 0zm-1 0zm-.5 0zm-.5 0zm-.5 0zm-.5 0zm-1 0zm-.5 0zm-.5 0zm-.5 0zm-.5 0zm-.5 0zm-.5 0zm-.5 0zm-.5 0zm-.5 0zm-.5 0zm-.5 0zm-.5 0zm-.5 0zm-.5 0zm-1 0zm-.5 0zm-.5 0zm-.5 0zm-.5 0zm-.5 0zm-2.5 0zm-.5 0zm-1 0zm-1.5 0zm-2 0zm-.5 0zm-.5 0zm-1.5 .5zm.5 0zm2 0zm1 0zm1.5 0zm1 0zm.5 0zm1 0zm.5 0zm.5 0zm.5 0zm.5 0zm.5 0zm.5 0zm1 0zm1 0zm.5 0zm.5 0zm.5 0zm.5 0zm.5 0zm.5 0zm.5 0zm.5 0zm.5 0zm.5 0zm.5 0zm.5 0zm.5 0zm.5 0zm.5 0zm.5 0zm.5 0zm.5 0zm.5 0zm.5 0zm1 0zm.5 0zm1 0zm.5 0zm.5 0zm.5 0zm.5 0zm.5 0zm.5 0zm.5 0zm.5 0zm.5 0zm.5 0zm1 0zm.5 0zm.5 0zm.5 0zm.5 0zm.5 0zm.5 0zm.5 0zm.5 0zm1 0zm.5 0zm.5 0zm1.5 0zm2 0zm1 0zm1.5 0zm1.5 0zm1 0zm3 0zm1.5 0zm2 0zm1.5 0zm1.5 0zm.5 0zm1 0zm1 0zm1 0zm1 0zm1 0zm5.5 0zm3 0zm2.5 0zm.5 0zm9 0zm6 0zm6 .5zm-4 0zm-5.5 0zm-1 0zm-7.5 0zm-2.5 0zm-1 0zm-.5 0zm-5.5 0zm-10.5 0zm-1 0zm-1 0zm-2 0zm-5 0zm-1.5 0zm-.5 0zm-2 0zm-1 0zm-.5 0zm-1 0zm-3 0zm-1.5 0zm-1.5 0zm-1.5 0zm-1.5 0zm-.5 0zm-.5 0zm-.5 0zm-.5 0zm-1 0zm-.5 0zm-.5 0zm-.5 0zm-.5 0zm-.5 0zm-.5 0zm-.5 0zm-1 0zm-.5 0zm-.5 0zm-.5 0zm-.5 0zm-.5 0zm-.5 0zm-.5 0zm-1 0zm-.5 0zm-1 0zm-.5 0zm-.5 0zm-.5 0zm-.5 0zm-.5 0zm-1 0zm-1 0zm-.5 0zm-.5 0zm-.5 0zm-.5 0zm-.5 0zm-.5 0zm-.5 0zm-.5 0zm-.5 0zm-.5 0zm-.5 0zm-.5 0zm-.5 0zm-.5 0zm-.5 0zm-1.5 0zm-.5 0zm-.5 0zm-1 .5zm.5 0zm1.5 0zm.5 0zm.5 0zm.5 0zm1.5 0zm.5 0zm.5 0zm.5 0zm.5 0zm1 0zm.5 0zm.5 0zm.5 0zm.5 0zm1 0zm.5 0zm1 0zm1 0zm.5 0zm.5 0zm.5 0zm.5 0zm.5 0zm.5 0zm1 0zm.5 0zm1 0zm.5 0zm.5 0zm.5 0zm.5 0zm.5 0zm.5 0zm.5 0zm1 0zm.5 0zm.5 0zm.5 0zm.5 0zm.5 0zm.5 0zm.5 0zm.5 0zm.5 0zm.5 0zm.5 0zm.5 0zm1.5 0zm1 0zm.5 0zm.5 0zm.5 0zm4 0zm.5 0zm3.5 0zm1 0zm3.5 0zm1 0zm.5 0zm1 0zm2.5 0zm1 0zm1.5 0zm3 0zm7.5 0zm4.5 0zm6.5 0zm9.5 0zm1 0zm3 0zm1.5 .5zm-10.5 0zm-2 0zm-2 0zm-6.5 0zm-4 0zm-.5 0zm-3 0zm-4 0zm-2 0zm-.5 0zm-.5 0zm-4 0zm-.5 0zm-.5 0zm-3.5 0zm-1 0zm-4 0zm-1 0zm-1 0zm-1 0zm-.5 0zm-1.5 0zm-1 0zm-.5 0zm-.5 0zm-.5 0zm-.5 0zm-.5 0zm-.5 0zm-.5 0zm-.5 0zm-1 0zm-1 0zm-1.5 0zm-.5 0zm-.5 0zm-.5 0zm-.5 0zm-.5 0zm-.5 0zm-1 0zm-.5 0zm-1 0zm-.5 0zm-.5 0zm-.5 0zm-.5 0zm-.5 0zm-.5 0zm-.5 0zm-.5 0zm-.5 0zm-.5 0zm-.5 0zm-.5 0zm-1 0zm-.5 0zm-.5 0zm-.5 0zm-.5 0zm-.5 0zm-.5 0zm-.5 0zm-.5 0zm-.5 0zm-.5 0zm-1 0zm-.5 0zm-.5 0zm-.5 0zm-1 0zm-.5 0zm-.5 0zm-1 0zm-.5 0zm-.5 0zm-1.5 0zm-1.5 0zm-.5 0zm-.5 0zm1.5 .5zm.5 0zm1 0zm.5 0zm.5 0zm.5 0zm.5 0zm1.5 0zm.5 0zm.5 0zm.5 0zm1 0zm.5 0zm1 0zm.5 0zm1 0zm.5 0zm.5 0zm.5 0zm.5 0zm1 0zm.5 0zm.5 0zm.5 0zm1 0zm.5 0zm.5 0zm1 0zm.5 0zm.5 0zm.5 0zm.5 0zm.5 0zm.5 0zm1 0zm.5 0zm.5 0zm.5 0zm.5 0zm.5 0zm.5 0zm.5 0zm.5 0zm.5 0zm1.5 0zm.5 0zm.5 0zm.5 0zm.5 0zm.5 0zm.5 0zm1 0zm.5 0zm.5 0zm.5 0zm.5 0zm.5 0zm1.5 0zm1 0zm.5 0zm3 0zm2 0zm1 0zm2.5 0zm.5 0zm1 0zm.5 0zm1 0zm.5 0zm1 0zm.5 0zm1.5 0zm1.5 0zm1 0zm2 0zm2 0zm3.5 0zm1 0zm4 0zm3.5 0zm2.5 0zm5 0zm10 .5zm-7.5 0zm-.5 0zm-10.5 0zm-2 0zm-7 0zm-2.5 0zm-1.5 0zm-1 0zm-3.5 0zm-1.5 0zm-1.5 0zm-3.5 0zm-.5 0zm-1 0zm-2.5 0zm-.5 0zm-.5 0zm-5 0zm-1 0zm-1 0zm-.5 0zm-.5 0zm-2 0zm-.5 0zm-.5 0zm-1.5 0zm-.5 0zm-1 0zm-1 0zm-.5 0zm-1 0zm-.5 0zm-.5 0zm-.5 0zm-.5 0zm-.5 0zm-1 0zm-.5 0zm-.5 0zm-.5 0zm-1 0zm-.5 0zm-.5 0zm-.5 0zm-.5 0zm-.5 0zm-.5 0zm-.5 0zm-.5 0zm-.5 0zm-.5 0zm-.5 0zm-1.5 0zm-.5 0zm-.5 0zm-.5 0zm-1 0zm-.5 0zm-.5 0zm-.5 0zm-.5 0zm-.5 0zm-.5 0zm-.5 0zm-.5 0zm-.5 0zm-1 0zm-1 0zm-1.5 0zm-.5 0zm-2.5 0zm1 .5zm.5 0zm1 0zm.5 0zm1 0zm2 0zm.5 0zm1 0zm1 0zm.5 0zm1 0zm.5 0zm.5 0zm.5 0zm.5 0zm1 0zm.5 0zm.5 0zm1 0zm.5 0zm.5 0zm.5 0zm.5 0zm1 0zm.5 0zm1 0zm.5 0zm.5 0zm.5 0zm.5 0zm.5 0zm.5 0zm.5 0zm.5 0zm.5 0zm.5 0zm.5 0zm.5 0zm.5 0zm.5 0zm.5 0zm.5 0zm1 0zm.5 0zm.5 0zm1 0zm.5 0zm.5 0zm.5 0zm1 0zm.5 0zm.5 0zm.5 0zm.5 0zm1.5 0zm.5 0zm.5 0zm1 0zm.5 0zm3.5 0zm2.5 0zm.5 0zm.5 0zm.5 0zm11 0zm1 0zm13.5 0zm11 0zm5 0zm4 0zm1 0zm4.5 0zm-22 .5zm-14.5 0zm-3 0zm-1.5 0zm-4 0zm-.5 0zm-3 0zm-.5 0zm-7.5 0zm-2 0zm-1 0zm-1.5 0zm-1 0zm-.5 0zm-1 0zm-.5 0zm-2 0zm-1 0zm-1.5 0zm-.5 0zm-.5 0zm-.5 0zm-.5 0zm-1 0zm-.5 0zm-.5 0zm-.5 0zm-.5 0zm-.5 0zm-.5 0zm-.5 0zm-.5 0zm-1 0zm-.5 0zm-.5 0zm-.5 0zm-.5 0zm-.5 0zm-1 0zm-.5 0zm-.5 0zm-1 0zm-1 0zm-.5 0zm-.5 0zm-1 0zm-1 0zm-.5 0zm-.5 0zm-1 0zm-1 0zm-1 0zm-.5 0zm-.5 0zm-1 0zm-.5 0zm-.5 0zm-3 0zm-2 0zm2 .5zm2.5 0zm.5 0zm.5 0zm1.5 0zm.5 0zm1 0zm.5 0zm.5 0zm.5 0zm.5 0zm.5 0zm1 0zm.5 0zm1.5 0zm.5 0zm.5 0zm.5 0zm.5 0zm.5 0zm.5 0zm.5 0zm.5 0zm.5 0zm1 0zm.5 0zm.5 0zm.5 0zm1 0zm.5 0zm1 0zm.5 0zm.5 0zm.5 0zm1 0zm.5 0zm.5 0zm.5 0zm.5 0zm.5 0zm.5 0zm.5 0zm1 0zm.5 0zm.5 0zm1 0zm2 0zm2 0zm.5 0zm2 0zm3 0zm2 0zm3.5 0zm.5 0zm4.5 0zm5 0zm3.5 0zm3.5 0zm6 0zm3.5 0zm24.5 0zm-15.5 .5zm-16 0zm-.5 0zm-15.5 0zm-.5 0zm-.5 0zm-3.5 0zm-1 0zm-1 0zm-.5 0zm-.5 0zm-1 0zm-.5 0zm-1.5 0zm-2 0zm-.5 0zm-1 0zm-.5 0zm-.5 0zm-.5 0zm-.5 0zm-.5 0zm-.5 0zm-.5 0zm-1.5 0zm-.5 0zm-.5 0zm-.5 0zm-.5 0zm-.5 0zm-.5 0zm-1.5 0zm-.5 0zm-.5 0zm-.5 0zm-1 0zm-1 0zm-.5 0zm-1 0zm-.5 0zm-.5 0zm-.5 0zm-1 0zm-.5 0zm-.5 0zm-.5 0zm-.5 0zm-1 0zm-1.5 0zm-.5 0zm-1 0zm-.5 0zm-.5 0zm-.5 0zm-.5 0zm-.5 0zm-.5 0zm-.5 0zm-1 0zm-.5 0zm-.5 0zm-.5 0zm-1.5 0zm-.5 0zm-.5 0zm-2 0zm-2.5 0zm-1 0zm.5 .5zm1 0zm.5 0zm.5 0zm1 0zm.5 0zm1 0zm1 0zm.5 0zm.5 0zm.5 0zm.5 0zm1 0zm1 0zm.5 0zm1 0zm.5 0zm1 0zm1.5 0zm.5 0zm.5 0zm1 0zm1 0zm.5 0zm.5 0zm.5 0zm1 0zm1 0zm.5 0zm.5 0zm.5 0zm.5 0zm.5 0zm.5 0zm.5 0zm.5 0zm.5 0zm.5 0zm.5 0zm.5 0zm.5 0zm.5 0zm.5 0zm.5 0zm.5 0zm1 0zm1 0zm.5 0zm1 0zm.5 0zm.5 0zm2 0zm1 0zm2 0zm.5 0zm.5 0zm5.5 0zm1.5 0zm3.5 0zm5.5 0zm9.5 0zm1 0zm25 0zm2 0zm1.5 .5zm-24 0zm-14 0zm-.5 0zm-18.5 0zm-2 0zm-.5 0zm-.5 0zm-.5 0zm-.5 0zm-1 0zm-.5 0zm-1 0zm-1 0zm-.5 0zm-.5 0zm-.5 0zm-1 0zm-.5 0zm-1 0zm-.5 0zm-.5 0zm-.5 0zm-.5 0zm-.5 0zm-1 0zm-1 0zm-.5 0zm-.5 0zm-.5 0zm-1 0zm-.5 0zm-.5 0zm-.5 0zm-.5 0zm-.5 0zm-.5 0zm-.5 0zm-.5 0zm-1 0zm-.5 0zm-.5 0zm-.5 0zm-.5 0zm-1 0zm-.5 0zm-.5 0zm-.5 0zm-1 0zm-.5 0zm-.5 0zm-.5 0zm-1.5 0zm-.5 0zm-1.5 0zm-.5 0zm-.5 0zm-.5 0zm-.5 .5zm1.5 0zm.5 0zm.5 0zm.5 0zm1 0zm.5 0zm.5 0zm1 0zm.5 0zm1 0zm.5 0zm.5 0zm.5 0zm.5 0zm.5 0zm.5 0zm.5 0zm.5 0zm.5 0zm.5 0zm.5 0zm.5 0zm.5 0zm.5 0zm1.5 0zm.5 0zm1 0zm.5 0zm1 0zm.5 0zm.5 0zm.5 0zm.5 0zm.5 0zm.5 0zm.5 0zm.5 0zm1 0zm1.5 0zm.5 0zm.5 0zm.5 0zm.5 0zm.5 0zm.5 0zm.5 0zm.5 0zm.5 0zm.5 0zm1 0zm.5 0zm.5 0zm1 0zm2 0zm1 0zm1.5 0zm2 0zm2.5 0zm5.5 0zm.5 0zm1.5 0zm1 0zm1.5 0zm6 0zm3.5 0zm3.5 0zm23.5 0zm4.5 0zm-33.5 .5zm-1.5 0zm-2.5 0zm-.5 0zm-4 0zm-3.5 0zm-.5 0zm-3.5 0zm-.5 0zm-3.5 0zm-1 0zm-2.5 0zm-1.5 0zm-1 0zm-2 0zm-1 0zm-.5 0zm-.5 0zm-.5 0zm-.5 0zm-1 0zm-.5 0zm-.5 0zm-.5 0zm-.5 0zm-1 0zm-.5 0zm-1.5 0zm-.5 0zm-.5 0zm-1 0zm-.5 0zm-.5 0zm-.5 0zm-.5 0zm-.5 0zm-.5 0zm-1.5 0zm-.5 0zm-1.5 0zm-.5 0zm-.5 0zm-.5 0zm-.5 0zm-.5 0zm-.5 0zm-1.5 0zm-.5 0zm-.5 0zm-.5 0zm-.5 0zm-.5 0zm-1 0zm-1.5 0zm-1 0zm-.5 0zm-.5 0zm-1 0zm-.5 0zm-.5 0zm-.5 0zm-1.5 0zm-.5 0zm-.5 0zm1 .5zm2.5 0zm.5 0zm.5 0zm.5 0zm1 0zm.5 0zm2 0zm.5 0zm1 0zm.5 0zm1 0zm.5 0zm.5 0zm1 0zm.5 0zm1 0zm.5 0zm.5 0zm.5 0zm.5 0zm.5 0zm.5 0zm1 0zm.5 0zm.5 0zm1 0zm2.5 0zm.5 0zm.5 0zm.5 0zm.5 0zm1.5 0zm.5 0zm.5 0zm.5 0zm.5 0zm.5 0zm.5 0zm.5 0zm.5 0zm.5 0zm.5 0zm.5 0zm1 0zm.5 0zm.5 0zm1.5 0zm.5 0zm2 0zm2.5 0zm10 0zm4 0zm.5 0zm4 0zm1 0zm2.5 0zm1.5 0zm19.5 0zm-22.5 .5zm-5.5 0zm-1 0zm-1.5 0zm-1 0zm-.5 0zm-9 0zm-2 0zm-2 0zm-1 0zm-.5 0zm-.5 0zm-1 0zm-1 0zm-.5 0zm-2 0zm-.5 0zm-1 0zm-.5 0zm-.5 0zm-.5 0zm-.5 0zm-.5 0zm-2 0zm-.5 0zm-.5 0zm-.5 0zm-.5 0zm-.5 0zm-.5 0zm-.5 0zm-1 0zm-1 0zm-1 0zm-.5 0zm-.5 0zm-.5 0zm-.5 0zm-.5 0zm-.5 0zm-.5 0zm-.5 0zm-1 0zm-1 0zm-.5 0zm-.5 0zm-.5 0zm-.5 0zm-.5 0zm-.5 0zm-.5 0zm-.5 0zm-.5 0zm-.5 0zm-.5 0zm-.5 0zm-.5 0zm-.5 0zm-.5 0zm-1 0zm-1 0zm-2.5 0zm-1 0zm-1.5 0zm1.5 .5zm2 0zm2.5 0zm1.5 0zm2.5 0zm.5 0zm.5 0zm1 0zm.5 0zm.5 0zm1 0zm.5 0zm.5 0zm1.5 0zm.5 0zm.5 0zm.5 0zm.5 0zm1 0zm1.5 0zm.5 0zm.5 0zm.5 0zm.5 0zm1 0zm.5 0zm1.5 0zm1 0zm.5 0zm.5 0zm.5 0zm.5 0zm.5 0zm.5 0zm.5 0zm1.5 0zm.5 0zm.5 0zm.5 0zm.5 0zm.5 0zm2.5 0zm1 0zm2 0zm.5 0zm.5 0zm.5 0zm2 0zm2 0zm41.5 0zm3.5 0zm5 0zm2.5 0zm-2 .5zm-3 0zm-38 0zm-2 0zm-1.5 0zm-.5 0zm-7.5 0zm-1.5 0zm-3 0zm-.5 0zm-.5 0zm-.5 0zm-1 0zm-.5 0zm-.5 0zm-.5 0zm-.5 0zm-1.5 0zm-.5 0zm-.5 0zm-1 0zm-.5 0zm-2 0zm-1 0zm-2 0zm-.5 0zm-.5 0zm-.5 0zm-1.5 0zm-.5 0zm-1.5 0zm-.5 0zm-.5 0zm-1 0zm-.5 0zm-.5 0zm-.5 0zm-.5 0zm-.5 0zm-.5 0zm-.5 0zm-1.5 0zm-1 0zm-.5 0zm-.5 0zm-.5 0zm-.5 0zm-.5 0zm-.5 0zm-.5 0zm-1 0zm-1 0zm-1 0zm-.5 0zm-.5 0zm-.5 0zm-.5 0zm-1 0zm-.5 0zm-.5 0zm-.5 0zm-.5 0zm1.5 .5zm.5 0zm1 0zm.5 0zm1.5 0zm1 0zm.5 0zm1 0zm.5 0zm.5 0zm1 0zm.5 0zm1.5 0zm.5 0zm.5 0zm.5 0zm1 0zm2 0zm.5 0zm2 0zm.5 0zm1 0zm.5 0zm.5 0zm.5 0zm.5 0zm.5 0zm.5 0zm.5 0zm.5 0zm.5 0zm.5 0zm.5 0zm.5 0zm.5 0zm.5 0zm1 0zm1 0zm.5 0zm.5 0zm.5 0zm1.5 0zm2 0zm.5 0zm.5 0zm.5 0zm.5 0zm4 0zm.5 0zm3 0zm4 0zm1 0zm1 0zm1 0zm.5 0zm1 0zm4 0zm43 .5zm-2.5 0zm-35.5 0zm-7 0zm-5.5 0zm-6 0zm-3 0zm-.5 0zm-2 0zm-2 0zm-.5 0zm-.5 0zm-.5 0zm-.5 0zm-1 0zm-.5 0zm-2 0zm-.5 0zm-.5 0zm-.5 0zm-.5 0zm-.5 0zm-1 0zm-.5 0zm-1 0zm-.5 0zm-.5 0zm-1 0zm-.5 0zm-.5 0zm-.5 0zm-.5 0zm-.5 0zm-1 0zm-1.5 0zm-.5 0zm-.5 0zm-.5 0zm-1.5 0zm-.5 0zm-1 0zm-.5 0zm-.5 0zm-.5 0zm-.5 0zm-.5 0zm-.5 0zm-1.5 0zm-.5 0zm-.5 0zm-.5 0zm-.5 0zm-.5 0zm-.5 0zm-.5 0zm-.5 0zm-1 0zm-.5 0zm-3 0zm1.5 .5zm.5 0zm1.5 0zm1.5 0zm1.5 0zm.5 0zm.5 0zm1 0zm1.5 0zm.5 0zm.5 0zm.5 0zm.5 0zm.5 0zm.5 0zm.5 0zm.5 0zm.5 0zm.5 0zm.5 0zm.5 0zm.5 0zm.5 0zm.5 0zm1 0zm.5 0zm.5 0zm1 0zm1 0zm.5 0zm.5 0zm.5 0zm.5 0zm2.5 0zm.5 0zm1 0zm.5 0zm.5 0zm.5 0zm.5 0zm.5 0zm.5 0zm.5 0zm1 0zm2.5 0zm1 0zm.5 0zm.5 0zm.5 0zm4 0zm6.5 0zm1 0zm24.5 0zm13.5 0zm1.5 0zm2 0zm-1 .5zm-1.5 0zm-25 0zm-5 0zm-.5 0zm-1.5 0zm-15 0zm-1.5 0zm-.5 0zm-.5 0zm-1.5 0zm-.5 0zm-1.5 0zm-1.5 0zm-.5 0zm-1 0zm-.5 0zm-.5 0zm-.5 0zm-.5 0zm-.5 0zm-2 0zm-.5 0zm-.5 0zm-.5 0zm-.5 0zm-.5 0zm-.5 0zm-.5 0zm-.5 0zm-.5 0zm-.5 0zm-.5 0zm-.5 0zm-.5 0zm-.5 0zm-.5 0zm-.5 0zm-.5 0zm-1.5 0zm-.5 0zm-.5 0zm-1 0zm-.5 0zm-1 0zm-.5 0zm-.5 0zm-1 0zm-.5 0zm-.5 0zm-1 0zm-1.5 0zm-1 0zm-.5 0zm-1 0zm-1.5 0zm-1 0zm-1 0zm-1 0zm-1.5 0zm2 .5zm.5 0zm1 0zm1 0zm3 0zm2 0zm1 0zm1 0zm.5 0zm1 0zm1 0zm1 0zm.5 0zm.5 0zm3.5 0zm.5 0zm.5 0zm1 0zm.5 0zm.5 0zm.5 0zm1 0zm.5 0zm2 0zm1 0zm.5 0zm.5 0zm.5 0zm.5 0zm.5 0zm1 0zm.5 0zm1 0zm.5 0zm.5 0zm1 0zm.5 0zm.5 0zm5.5 0zm3.5 0zm3 0zm1 0zm11.5 0zm38.5 .5zm-7.5 0zm-4.5 0zm-37 0zm-11 0zm-3 0zm-.5 0zm-.5 0zm-.5 0zm-.5 0zm-.5 0zm-1.5 0zm-.5 0zm-.5 0zm-1 0zm-1 0zm-.5 0zm-1 0zm-.5 0zm-.5 0zm-1 0zm-.5 0zm-1 0zm-.5 0zm-2 0zm-2 0zm-.5 0zm-1 0zm-1 0zm-.5 0zm-1 0zm-.5 0zm-.5 0zm-2 0zm-1.5 0zm-.5 0zm-.5 0zm-.5 0zm-.5 0zm-2 0zm-.5 0zm-1.5 0zm-1.5 0zm-1 0zm-1 0zm-1 .5zm4.5 0zm.5 0zm3.5 0zm4 0zm1.5 0zm1 0zm.5 0zm.5 0zm1 0zm2 0zm.5 0zm.5 0zm2.5 0zm1.5 0zm.5 0zm1 0zm.5 0zm1 0zm1 0zm.5 0zm.5 0zm.5 0zm.5 0zm.5 0zm.5 0zm.5 0zm.5 0zm1 0zm.5 0zm6.5 0zm2.5 0zm.5 0zm7 0zm9.5 0zm29 0zm-23.5 .5zm-19 0zm-7 0zm-4.5 0zm-1 0zm-1.5 0zm-1 0zm-.5 0zm-.5 0zm-.5 0zm-.5 0zm-.5 0zm-.5 0zm-.5 0zm-.5 0zm-.5 0zm-.5 0zm-.5 0zm-.5 0zm-.5 0zm-.5 0zm-.5 0zm-.5 0zm-1.5 0zm-.5 0zm-.5 0zm-1.5 0zm-.5 0zm-1 0zm-.5 0zm-1 0zm-.5 0zm-.5 0zm-1 0zm-1 0zm-.5 0zm-2 0zm-.5 0zm-2 0zm-3 0zm-.5 0zm-2 0zm-.5 .5zm2.5 0zm2.5 0zm.5 0zm1 0zm3.5 0zm2.5 0zm.5 0zm1.5 0zm1.5 0zm2 0zm1.5 0zm1 0zm.5 0zm1.5 0zm.5 0zm1 0zm.5 0zm.5 0zm1 0zm3 0zm1 0zm.5 0zm2.5 0zm1 0zm.5 0zm1 0zm2.5 0zm1 0zm1 0zm2.5 0zm7 .5zm-5 0zm-4.5 0zm-1.5 0zm-5.5 0zm-1 0zm-.5 0zm-1.5 0zm-.5 0zm-1.5 0zm-1 0zm-1 0zm-.5 0zm-.5 0zm-1 0zm-2 0zm-.5 0zm-.5 0zm-1 0zm-.5 0zm-.5 0zm-.5 0zm-.5 0zm-1 0zm-1.5 0zm-.5 0zm-.5 0zm-1.5 0zm-1 0zm-2 0zm-.5 0zm-.5 0zm-1 0zm-.5 0zm-1.5 0zm-2.5 0zm-.5 0zm-4 0zm3.5 .5zm.5 0zm4 0zm.5 0zm1 0zm1 0zm.5 0zm3.5 0zm.5 0zm1 0zm1 0zm1.5 0zm1.5 0zm.5 0zm.5 0zm1 0zm.5 0zm.5 0zm.5 0zm3 0zm1.5 0zm1 0zm2 0zm1.5 0zm5 0zm11.5 0zm10.5 0zm30.5 0zm7.5 .5zm-40.5 0zm-16.5 0zm-6.5 0zm-1 0zm-1.5 0zm-1 0zm-1.5 0zm-1.5 0zm-2.5 0zm-2.5 0zm-1 0zm-1.5 0zm-.5 0zm-2 0zm-1.5 0zm-.5 0zm-1.5 0zm-2 0zm-1.5 0zm-1.5 0zm-1.5 0zm-1 0zm-4 0zm-1 0zm-1 .5zm.5 0zm1 0zm2.5 0zm2.5 0zm1.5 0zm1 0zm.5 0zm.5 0zm2 0zm2 0zm3.5 0zm2 0zm.5 0zm.5 0zm4 0zm1.5 0zm1 0zm.5 0zm1 0zm.5 0zm2 0zm.5 0zm2.5 0zm4 0zm2 0zm8.5 0zm33 0zm1.5 .5zm-47 0zm-4 0zm-1.5 0zm-4.5 0zm-.5 0zm-3.5 0zm-5 0zm-2.5 0zm-3 0zm-6 0zm-1.5 0zm-.5 0zm-1.5 0zm-.5 0zm4.5 .5zm4 0zm1.5 0zm.5 0zm1.5 0zm4 0zm.5 0zm1 0zm2.5 0zm5 0zm6 0zm.5 0zm19.5 0zm37 0zm-.5 .5zm-56 0zm-7.5 0zm-5.5 0zm-3.5 0zm-2 0zm-.5 0zm-4.5 0zm-.5 0zm-2 0zm-1.5 0zm-3 0zm-2.5 0zm1.5 .5zm6 0zm3.5 0zm1 0zm1 0zm2.5 0zm3.5 0zm3.5 0zm4 0zm4 0zm1.5 0zm2 0zm48 0zm6 0zm-52 .5zm-19 0zm-.5 0zm-1.5 0zm-9.5 0zm13 .5zm.5 0zm1.5 0zm2.5 0zm2.5 0zm1.5 0zm.5 0zm5.5 0zm55 0zm-58.5 .5zm-10.5 0zm-1 0zm17 1zm16 0zm-10 .5zm-26.5 0zm4.5 .5zm77.5 0z" stroke="#000" stroke-width="1.3" stroke-linecap="square" fill="none"/>
<g stroke="#111" fill="none">
<rect x="49.6" y="239.0" width="129.8" height="123.5" stroke-width="1.15"/>
<path d="M49.6 312.8H179.4M134.0 239.0V362.5" stroke-width="1.1"/>
<path d="M49.6 362.5v4M49.6 362.5h-4M59.4 362.5v2.2M49.6 353.2h-2.2M65.1 362.5v2.2M49.6 347.8h-2.2M69.1 362.5v2.2M49.6 343.9h-2.2M72.3 362.5v2.2M49.6 340.9h-2.2M74.9 362.5v2.2M49.6 338.5h-2.2M77 362.5v2.2M49.6 336.4h-2.2M78.9 362.5v2.2M49.6 334.6h-2.2M80.6 362.5v2.2M49.6 333h-2.2M82.1 362.5v4M49.6 331.6h-4M91.8 362.5v2.2M49.6 322.3h-2.2M97.5 362.5v2.2M49.6 316.9h-2.2M101.6 362.5v2.2M49.6 313h-2.2M104.7 362.5v2.2M49.6 310h-2.2M107.3 362.5v2.2M49.6 307.6h-2.2M109.5 362.5v2.2M49.6 305.5h-2.2M111.4 362.5v2.2M49.6 303.7h-2.2M113 362.5v2.2M49.6 302.2h-2.2M114.5 362.5v4M49.6 300.8h-4M124.3 362.5v2.2M49.6 291.5h-2.2M130 362.5v2.2M49.6 286h-2.2M134 362.5v2.2M49.6 282.2h-2.2M137.2 362.5v2.2M49.6 279.2h-2.2M139.8 362.5v2.2M49.6 276.7h-2.2M141.9 362.5v2.2M49.6 274.7h-2.2M143.8 362.5v2.2M49.6 272.9h-2.2M145.5 362.5v2.2M49.6 271.3h-2.2M147 362.5v4M49.6 269.9h-4M156.7 362.5v2.2M49.6 260.6h-2.2M162.4 362.5v2.2M49.6 255.1h-2.2M166.5 362.5v2.2M49.6 251.3h-2.2M169.6 362.5v2.2M49.6 248.3h-2.2M172.2 362.5v2.2M49.6 245.8h-2.2M174.4 362.5v2.2M49.6 243.8h-2.2M176.3 362.5v2.2M49.6 242h-2.2M177.9 362.5v2.2M49.6 240.4h-2.2M179.4 362.5v4M49.6 239h-4" stroke-width="0.8"/>
</g>
<g font-family="'Liberation Serif',serif" font-weight="bold" font-size="7" fill="#000" stroke="#000" stroke-width="0.35">
<text x="46.4" y="375.7">10<tspan dy="-2" font-size="6.2">0</tspan></text>
<text x="32.2" y="365.2">10<tspan dy="-2" font-size="6.2">0</tspan></text>
<text x="78.9" y="375.7">10<tspan dy="-2" font-size="6.2">1</tspan></text>
<text x="32.2" y="334.3">10<tspan dy="-2" font-size="6.2">1</tspan></text>
<text x="111.3" y="375.7">10<tspan dy="-2" font-size="6.2">2</tspan></text>
<text x="32.2" y="303.4">10<tspan dy="-2" font-size="6.2">2</tspan></text>
<text x="143.8" y="375.7">10<tspan dy="-2" font-size="6.2">3</tspan></text>
<text x="32.2" y="272.6">10<tspan dy="-2" font-size="6.2">3</tspan></text>
<text x="176.2" y="375.7">10<tspan dy="-2" font-size="6.2">4</tspan></text>
<text x="32.2" y="241.7">10<tspan dy="-2" font-size="6.2">4</tspan></text>
</g>
<path d="M104 280zm-51 1.5zm78.5 1zm-26 .5zm-52.5 .5zm51.5 0zm68.5 .5zm-88.5 0zm-21 0zm42 .5zm11 .5zm-53 1zm4.5 0zm109.5 0zm-104 .5zm-9.5 0zm-5 0zm-2.5 0zm7 .5zm18 0zm1.5 0zm10 0zm8 0zm18.5 0zm57 0zm-24 .5zm-42.5 0zm-14 0zm-2 0zm-7.5 0zm-8 0zm-12.5 .5zm28 0zm5.5 0zm4 0zm72 .5zm-44 0zm-13.5 0zm-22.5 0zm-31 0zm-4 0zm-4 0zm-3.5 0zm0 .5zm.5 0zm5.5 0zm2.5 0zm2 0zm.5 0zm4 0zm1.5 0zm1 0zm4 0zm4 0zm6 0zm1 0zm9 0zm39.5 0zm41 0zm1 .5zm-42 0zm-15 0zm-14.5 0zm-.5 0zm-7 0zm-.5 0zm-1.5 0zm-4.5 0zm-23 0zm-4 0zm-4 0zm-2.5 0zm-5.5 0zm2 .5zm.5 0zm1 0zm1 0zm3 0zm2 0zm4.5 0zm7.5 0zm10.5 0zm3.5 0zm15 0zm16.5 0zm4.5 0zm8 0zm2.5 0zm41 .5zm-65.5 0zm-2 0zm-12 0zm-1 0zm-3 0zm-9 0zm-8.5 0zm-7.5 0zm-2 0zm-1 0zm-1.5 0zm-2.5 0zm-.5 0zm-6.5 0zm.5 .5zm2.5 0zm.5 0zm.5 0zm2 0zm4.5 0zm4 0zm6 0zm3.5 0zm1 0zm7 0zm5 0zm6 0zm6 0zm2 0zm9 0zm9.5 0zm52.5 0zm1 0zm1.5 0zm.5 .5zm-.5 0zm-43.5 0zm-17.5 0zm-1.5 0zm-2 0zm-6 0zm-2 0zm-8 0zm-2.5 0zm-19 0zm-4.5 0zm-.5 0zm-.5 0zm-7 0zm-1 0zm-1 0zm-1 0zm-.5 0zm-2 0zm-4 0zm2 .5zm1.5 0zm.5 0zm.5 0zm.5 0zm1 0zm2 0zm1.5 0zm.5 0zm1.5 0zm.5 0zm2 0zm1 0zm.5 0zm2 0zm1 0zm4.5 0zm.5 0zm3 0zm4 0zm2.5 0zm1.5 0zm7 0zm1 0zm3.5 0zm10 0zm6.5 0zm.5 0zm4.5 0zm6.5 0zm12.5 0zm36.5 0zm2 0zm.5 0zm-1.5 .5zm-34 0zm-8.5 0zm-16.5 0zm-13 0zm-7.5 0zm-22 0zm-.5 0zm-1 0zm-1.5 0zm-1 0zm-.5 0zm-.5 0zm-1.5 0zm-.5 0zm-1.5 0zm-1 0zm-2 0zm-1 0zm-.5 0zm-1 0zm-.5 0zm-1 0zm-.5 0zm-.5 0zm-.5 0zm-.5 0zm-4.5 0zm0 .5zm1 0zm1 0zm.5 0zm1 0zm1.5 0zm.5 0zm1 0zm.5 0zm.5 0zm1 0zm.5 0zm.5 0zm.5 0zm1 0zm.5 0zm1 0zm.5 0zm2.5 0zm3.5 0zm11 0zm5 0zm4 0zm1 0zm1 0zm6.5 0zm2.5 0zm.5 0zm1 0zm.5 0zm1 0zm8 0zm1.5 0zm5.5 0zm7 0zm8 0zm11.5 0zm10.5 0zm8 0zm3 0zm7 0zm1.5 0zm-1.5 .5zm-4 0zm-43 0zm-7.5 0zm-2 0zm-23.5 0zm-6.5 0zm-7 0zm-5 0zm-1.5 0zm-2.5 0zm-3 0zm-1 0zm-2.5 0zm-1 0zm-1 0zm-.5 0zm-.5 0zm-.5 0zm-1 0zm-.5 0zm-1.5 0zm-.5 0zm-1 0zm-.5 0zm-1 0zm-.5 0zm-1.5 0zm-1 0zm-3 0zm-1 0zm.5 .5zm1 0zm1.5 0zm.5 0zm.5 0zm2 0zm.5 0zm.5 0zm.5 0zm1 0zm.5 0zm1 0zm1.5 0zm.5 0zm.5 0zm1 0zm.5 0zm1 0zm2.5 0zm.5 0zm3.5 0zm.5 0zm.5 0zm8.5 0zm2 0zm2 0zm9.5 0zm2 0zm9 0zm5.5 0zm2 0zm4 0zm12 0zm3.5 0zm5 0zm18.5 0zm9 0zm4 0zm.5 0zm2 0zm3 0zm2 0zm.5 .5zm-3 0zm-.5 0zm-.5 0zm-1 0zm-1 0zm-4 0zm-4 0zm-22.5 0zm-4 0zm-4 0zm-2.5 0zm-7 0zm-3 0zm-7.5 0zm-.5 0zm-3 0zm-3 0zm-4.5 0zm-5.5 0zm-.5 0zm-2 0zm-1 0zm-9.5 0zm-1 0zm-1 0zm-.5 0zm-3.5 0zm-2 0zm-3.5 0zm-1 0zm-.5 0zm-.5 0zm-.5 0zm-1 0zm-.5 0zm-1.5 0zm-.5 0zm-1.5 0zm-1 0zm-1 0zm-1 0zm-1 0zm-.5 0zm-.5 0zm-1 0zm-2 0zm-.5 0zm-1 0zm-1.5 0zm-.5 0zm-.5 0zm-1.5 0zm0 .5zm.5 0zm.5 0zm.5 0zm.5 0zm.5 0zm.5 0zm.5 0zm.5 0zm.5 0zm.5 0zm.5 0zm.5 0zm1.5 0zm1 0zm.5 0zm1 0zm.5 0zm.5 0zm.5 0zm1.5 0zm.5 0zm.5 0zm.5 0zm.5 0zm.5 0zm.5 0zm2 0zm2 0zm.5 0zm.5 0zm1.5 0zm4 0zm.5 0zm1.5 0zm1.5 0zm2 0zm4 0zm2.5 0zm.5 0zm2.5 0zm1.5 0zm2.5 0zm1 0zm1 0zm.5 0zm1.5 0zm15 0zm1 0zm4.5 0zm13 0zm9.5 0zm3.5 0zm10.5 0zm2 0zm1 0zm1 0zm5 0zm7 0zm2 0zm1 0zm1.5 0zm0 .5zm-.5 0zm-.5 0zm-.5 0zm-1 0zm-.5 0zm-2 0zm-1.5 0zm-3.5 0zm-2.5 0zm-2.5 0zm-11 0zm-27 0zm-3.5 0zm-.5 0zm-4.5 0zm-1 0zm-3 0zm-1.5 0zm-4.5 0zm-7 0zm-3.5 0zm-3.5 0zm-2 0zm-4 0zm-.5 0zm-2 0zm-1 0zm-6 0zm-3 0zm-.5 0zm-.5 0zm-3 0zm-1.5 0zm-.5 0zm-1 0zm-.5 0zm-.5 0zm-.5 0zm-1 0zm-.5 0zm-.5 0zm-.5 0zm-.5 0zm-.5 0zm-1 0zm-.5 0zm-.5 0zm-1 0zm-.5 0zm-.5 0zm-1 0zm-.5 0zm-1 0zm-.5 0zm-1 0zm-.5 0zm-1 0zm-.5 0zm-.5 0zm0 .5zm2 0zm.5 0zm.5 0zm.5 0zm.5 0zm.5 0zm.5 0zm.5 0zm.5 0zm.5 0zm.5 0zm.5 0zm.5 0zm.5 0zm.5 0zm.5 0zm.5 0zm.5 0zm.5 0zm.5 0zm.5 0zm.5 0zm1.5 0zm.5 0zm.5 0zm.5 0zm.5 0zm1 0zm.5 0zm.5 0zm.5 0zm.5 0zm1 0zm2.5 0zm9 0zm3 0zm2 0zm1.5 0zm2.5 0zm1 0zm5.5 0zm.5 0zm6 0zm.5 0zm6.5 0zm8 0zm18 0zm3 0zm13 0zm2 0zm1 0zm4 0zm1 0zm1 0zm6 0zm2 0zm2.5 0zm1.5 0zm1.5 0zm1 0zm1 .5zm-1.5 0zm-1 0zm-.5 0zm-1 0zm-2 0zm-.5 0zm-1 0zm-.5 0zm-1 0zm-2 0zm-.5 0zm-1.5 0zm-1.5 0zm-1.5 0zm-1 0zm-.5 0zm-4 0zm-.5 0zm-3.5 0zm-1 0zm-11 0zm-11.5 0zm-3.5 0zm-2.5 0zm-2.5 0zm-8.5 0zm-2 0zm-2 0zm-12 0zm-1 0zm-.5 0zm-3 0zm-.5 0zm-.5 0zm-3 0zm-.5 0zm-1 0zm-1.5 0zm-2.5 0zm-3 0zm-1.5 0zm-.5 0zm-1 0zm-.5 0zm-.5 0zm-2 0zm-3 0zm-.5 0zm-.5 0zm-1 0zm-.5 0zm-1.5 0zm-.5 0zm-.5 0zm-.5 0zm-.5 0zm-.5 0zm-.5 0zm-.5 0zm-.5 0zm-.5 0zm-.5 0zm-.5 0zm-.5 0zm-1 0zm-.5 0zm-.5 0zm-.5 0zm-.5 0zm-.5 0zm-1 0zm-.5 0zm-.5 0zm-.5 0zm-1 0zm-.5 0zm-.5 0zm-.5 0zm-.5 0zm-.5 0zm-.5 .5zm.5 0zm.5 0zm1 0zm1 0zm.5 0zm.5 0zm.5 0zm2.5 0zm.5 0zm1 0zm.5 0zm.5 0zm.5 0zm.5 0zm1 0zm.5 0zm1 0zm.5 0zm.5 0zm.5 0zm.5 0zm.5 0zm.5 0zm1 0zm.5 0zm1 0zm1 0zm2 0zm1 0zm1 0zm1 0zm.5 0zm1 0zm1.5 0zm.5 0zm3.5 0zm1 0zm1 0zm6 0zm6.5 0zm2.5 0zm2.5 0zm5 0zm2.5 0zm1 0zm1 0zm.5 0zm.5 0zm7 0zm5 0zm3 0zm3 0zm4 0zm2.5 0zm5 0zm4 0zm12.5 0zm3.5 0zm.5 0zm2 0zm1.5 0zm1 0zm1.5 0zm3.5 0zm1 0zm2 0zm.5 0zm.5 0zm1.5 0zm.5 0zm.5 0zm.5 0zm-1 .5zm-1.5 0zm-.5 0zm-.5 0zm-.5 0zm-.5 0zm-.5 0zm-2.5 0zm-1 0zm-1 0zm-2.5 0zm-1.5 0zm-1.5 0zm-2.5 0zm-.5 0zm-.5 0zm-1.5 0zm-.5 0zm-3 0zm-3 0zm-11.5 0zm-1.5 0zm-5.5 0zm-2.5 0zm-.5 0zm-5 0zm-11.5 0zm-2.5 0zm-2.5 0zm-.5 0zm-2 0zm-.5 0zm-2.5 0zm-2 0zm-1.5 0zm-6.5 0zm-1.5 0zm-6.5 0zm-.5 0zm-2 0zm-2 0zm-5 0zm-1.5 0zm-1 0zm-.5 0zm-.5 0zm-1.5 0zm-1 0zm-1 0zm-.5 0zm-.5 0zm-1.5 0zm-.5 0zm-.5 0zm-1.5 0zm-.5 0zm-1 0zm-.5 0zm-.5 0zm-.5 0zm-1.5 0zm-.5 0zm-.5 0zm-.5 0zm-.5 0zm-.5 0zm-.5 0zm-.5 0zm-.5 0zm-.5 0zm-.5 0zm-.5 0zm-.5 0zm-2.5 0zm-.5 0zm1 .5zm.5 0zm.5 0zm.5 0zm.5 0zm.5 0zm.5 0zm1 0zm.5 0zm.5 0zm.5 0zm.5 0zm.5 0zm.5 0zm.5 0zm.5 0zm.5 0zm.5 0zm.5 0zm.5 0zm.5 0zm.5 0zm1 0zm1 0zm.5 0zm.5 0zm1.5 0zm.5 0zm.5 0zm.5 0zm1.5 0zm1 0zm3.5 0zm1 0zm.5 0zm.5 0zm2.5 0zm3.5 0zm.5 0zm.5 0zm2.5 0zm.5 0zm2 0zm3.5 0zm1 0zm.5 0zm1.5 0zm5 0zm5 0zm3.5 0zm4.5 0zm1 0zm2.5 0zm.5 0zm7.5 0zm7 0zm.5 0zm2 0zm2.5 0zm1 0zm11.5 0zm2 0zm3 0zm1.5 0zm1 0zm2 0zm.5 0zm.5 0zm1.5 0zm2.5 0zm.5 0zm1 0zm.5 0zm1.5 0zm.5 0zm1.5 0zm1 0zm1 0zm.5 0zm.5 0zm.5 0zm.5 0zm1.5 0zm1 0zm1 0zm.5 0zm1 .5zm-.5 0zm-1 0zm-.5 0zm-.5 0zm-.5 0zm-.5 0zm-.5 0zm-1 0zm-1 0zm-1.5 0zm-1.5 0zm-.5 0zm-.5 0zm-.5 0zm-.5 0zm-.5 0zm-1 0zm-.5 0zm-1 0zm-.5 0zm-.5 0zm-1.5 0zm-2.5 0zm-2 0zm-1 0zm-1 0zm-.5 0zm-1.5 0zm-20.5 0zm-2 0zm-3.5 0zm-2.5 0zm-11 0zm-.5 0zm-2.5 0zm-2 0zm-3 0zm-2.5 0zm-5 0zm-5.5 0zm-.5 0zm-2.5 0zm-.5 0zm-.5 0zm-1 0zm-.5 0zm-2 0zm-3 0zm-.5 0zm-1 0zm-3.5 0zm-.5 0zm-.5 0zm-.5 0zm-.5 0zm-.5 0zm-.5 0zm-.5 0zm-1.5 0zm-.5 0zm-2 0zm-.5 0zm-.5 0zm-.5 0zm-1 0zm-.5 0zm-1 0zm-.5 0zm-.5 0zm-.5 0zm-.5 0zm-.5 0zm-1 0zm-.5 0zm-1 0zm-1 0zm-.5 0zm-.5 0zm-.5 0zm-.5 0zm-.5 0zm-.5 0zm-.5 0zm-.5 0zm-.5 0zm-.5 0zm-.5 0zm-.5 0zm-.5 0zm-.5 0zm-1 0zm-.5 0zm-.5 0zm.5 .5zm.5 0zm.5 0zm.5 0zm.5 0zm.5 0zm.5 0zm.5 0zm.5 0zm.5 0zm.5 0zm.5 0zm.5 0zm.5 0zm.5 0zm.5 0zm.5 0zm.5 0zm.5 0zm.5 0zm.5 0zm.5 0zm1 0zm.5 0zm.5 0zm.5 0zm.5 0zm1 0zm.5 0zm.5 0zm.5 0zm.5 0zm.5 0zm.5 0zm1 0zm.5 0zm.5 0zm.5 0zm1 0zm3 0zm.5 0zm1 0zm.5 0zm1 0zm2 0zm.5 0zm.5 0zm1 0zm2 0zm2 0zm1 0zm1.5 0zm.5 0zm2 0zm2 0zm1 0zm1.5 0zm.5 0zm1.5 0zm.5 0zm1.5 0zm1.5 0zm9 0zm3 0zm3 0zm.5 0zm3 0zm3 0zm3.5 0zm3.5 0zm1.5 0zm6.5 0zm13 0zm2.5 0zm3 0zm.5 0zm.5 0zm1 0zm.5 0zm1.5 0zm1.5 0zm2.5 0zm1 0zm.5 0zm.5 0zm.5 0zm.5 0zm.5 0zm1 0zm1 0zm.5 0zm.5 0zm.5 0zm.5 0zm.5 0zm1 0zm1.5 0zm1 0zm1.5 0zm.5 0zm.5 0zm0 .5zm-.5 0zm-.5 0zm-.5 0zm-1.5 0zm-.5 0zm-.5 0zm-1 0zm-2 0zm-.5 0zm-1 0zm-1 0zm-1 0zm-1 0zm-.5 0zm-.5 0zm-.5 0zm-.5 0zm-2 0zm-.5 0zm-.5 0zm-.5 0zm-.5 0zm-.5 0zm-.5 0zm-.5 0zm-1 0zm-.5 0zm-5 0zm-10 0zm-11 0zm-1.5 0zm-1.5 0zm-4 0zm-1.5 0zm-2 0zm-.5 0zm-3.5 0zm-14 0zm-2.5 0zm-.5 0zm-1.5 0zm-.5 0zm-5.5 0zm-2 0zm-1 0zm-.5 0zm-.5 0zm-2 0zm-1.5 0zm-.5 0zm-.5 0zm-3.5 0zm-.5 0zm-.5 0zm-1 0zm-.5 0zm-2 0zm-1 0zm-1.5 0zm-1.5 0zm-.5 0zm-1.5 0zm-.5 0zm-1 0zm-.5 0zm-.5 0zm-1 0zm-.5 0zm-.5 0zm-.5 0zm-.5 0zm-.5 0zm-.5 0zm-1 0zm-.5 0zm-.5 0zm-.5 0zm-.5 0zm-.5 0zm-.5 0zm-.5 0zm-.5 0zm-1 0zm-.5 0zm-.5 0zm-.5 0zm-.5 0zm-.5 0zm-.5 0zm-1 0zm-.5 0zm-.5 0zm-.5 0zm-1 0zm1 .5zm.5 0zm.5 0zm1 0zm.5 0zm.5 0zm.5 0zm.5 0zm.5 0zm.5 0zm.5 0zm.5 0zm.5 0zm.5 0zm.5 0zm.5 0zm1 0zm.5 0zm.5 0zm.5 0zm.5 0zm.5 0zm.5 0zm.5 0zm.5 0zm.5 0zm.5 0zm.5 0zm.5 0zm.5 0zm.5 0zm.5 0zm.5 0zm.5 0zm.5 0zm.5 0zm1.5 0zm1.5 0zm1 0zm.5 0zm1 0zm6 0zm3 0zm2 0zm.5 0zm1.5 0zm.5 0zm1 0zm1 0zm1 0zm3.5 0zm4.5 0zm8 0zm2.5 0zm4.5 0zm3 0zm.5 0zm1.5 0zm12 0zm20.5 0zm1 0zm1 0zm1 0zm.5 0zm1 0zm1 0zm1 0zm.5 0zm.5 0zm.5 0zm.5 0zm.5 0zm1 0zm.5 0zm.5 0zm.5 0zm1 0zm.5 0zm.5 0zm.5 0zm.5 0zm.5 0zm1.5 0zm.5 0zm1 0zm.5 0zm1 0zm1 0zm.5 0zm.5 0zm.5 0zm.5 0zm1 0zm1 0zm.5 0zm.5 .5zm-.5 0zm-.5 0zm-.5 0zm-1 0zm-.5 0zm-.5 0zm-.5 0zm-1 0zm-.5 0zm-.5 0zm-.5 0zm-.5 0zm-1 0zm-1.5 0zm-.5 0zm-.5 0zm-1 0zm-.5 0zm-.5 0zm-.5 0zm-.5 0zm-1 0zm-.5 0zm-.5 0zm-.5 0zm-.5 0zm-.5 0zm-.5 0zm-1 0zm-.5 0zm-.5 0zm-.5 0zm-.5 0zm-1 0zm-.5 0zm-5.5 0zm-11.5 0zm-2.5 0zm-6 0zm-1 0zm-2 0zm-4.5 0zm-4.5 0zm-3.5 0zm-2 0zm-1 0zm-4.5 0zm-1.5 0zm-.5 0zm-1 0zm-2 0zm-2.5 0zm-1.5 0zm-2.5 0zm-4.5 0zm-.5 0zm-.5 0zm-1 0zm-3 0zm-.5 0zm-3.5 0zm-1 0zm-.5 0zm-1 0zm-1.5 0zm-.5 0zm-1.5 0zm-.5 0zm-4.5 0zm-.5 0zm-.5 0zm-.5 0zm-.5 0zm-.5 0zm-.5 0zm-1 0zm-.5 0zm-.5 0zm-.5 0zm-.5 0zm-.5 0zm-.5 0zm-.5 0zm-.5 0zm-.5 0zm-1 0zm-.5 0zm-.5 0zm-1 0zm-.5 0zm-.5 0zm-.5 0zm-.5 0zm-.5 0zm-.5 0zm-.5 0zm-.5 0zm-.5 0zm-.5 0zm-1.5 0zm-.5 0zm-.5 0zm-.5 0zm-.5 0zm-.5 0zm-.5 0zm-.5 0zm.5 .5zm.5 0zm.5 0zm1 0zm.5 0zm.5 0zm.5 0zm.5 0zm.5 0zm.5 0zm.5 0zm.5 0zm.5 0zm.5 0zm.5 0zm.5 0zm.5 0zm.5 0zm.5 0zm.5 0zm1 0zm.5 0zm1 0zm.5 0zm.5 0zm.5 0zm.5 0zm1 0zm.5 0zm.5 0zm.5 0zm.5 0zm1 0zm.5 0zm.5 0zm1 0zm1 0zm1 0zm.5 0zm.5 0zm1.5 0zm1 0zm.5 0zm1.5 0zm3 0zm1.5 0zm.5 0zm2.5 0zm1 0zm1 0zm1 0zm1.5 0zm.5 0zm4.5 0zm3.5 0zm4 0zm7.5 0zm.5 0zm10.5 0zm.5 0zm1 0zm5.5 0zm1.5 0zm1 0zm2 0zm4.5 0zm6.5 0zm1.5 0zm4 0zm5 0zm.5 0zm.5 0zm.5 0zm.5 0zm2 0zm.5 0zm1 0zm.5 0zm.5 0zm.5 0zm.5 0zm.5 0zm.5 0zm.5 0zm.5 0zm.5 0zm.5 0zm.5 0zm.5 0zm.5 0zm.5 0zm1 0zm.5 0zm.5 0zm.5 0zm.5 0zm.5 0zm.5 0zm.5 0zm.5 0zm.5 0zm2 0zm.5 0zm.5 0zm.5 0zm.5 0zm.5 0zm.5 0zm-.5 .5zm-.5 0zm-.5 0zm-.5 0zm-.5 0zm-.5 0zm-.5 0zm-.5 0zm-1 0zm-.5 0zm-.5 0zm-2 0zm-1 0zm-.5 0zm-.5 0zm-.5 0zm-1 0zm-.5 0zm-.5 0zm-.5 0zm-1 0zm-.5 0zm-.5 0zm-.5 0zm-.5 0zm-.5 0zm-.5 0zm-.5 0zm-.5 0zm-1 0zm-.5 0zm-1.5 0zm-3.5 0zm-.5 0zm-2 0zm-2.5 0zm-13.5 0zm-3 0zm-1.5 0zm-1.5 0zm-3 0zm-2.5 0zm-5 0zm-1.5 0zm-3 0zm-2.5 0zm-1.5 0zm-.5 0zm-9 0zm-3.5 0zm-2 0zm-3.5 0zm-2 0zm-1 0zm-1.5 0zm-4 0zm-.5 0zm-2 0zm-2.5 0zm-1 0zm-.5 0zm-1 0zm-1 0zm-.5 0zm-1 0zm-.5 0zm-.5 0zm-.5 0zm-1.5 0zm-.5 0zm-1 0zm-.5 0zm-1.5 0zm-.5 0zm-.5 0zm-1 0zm-1 0zm-.5 0zm-.5 0zm-1 0zm-.5 0zm-.5 0zm-.5 0zm-.5 0zm-.5 0zm-.5 0zm-1 0zm-.5 0zm-.5 0zm-.5 0zm-1 0zm-.5 0zm-1 0zm-.5 0zm-.5 0zm-1 0zm-.5 0zm-.5 .5zm.5 0zm.5 0zm.5 0zm.5 0zm.5 0zm.5 0zm.5 0zm.5 0zm1 0zm1 0zm.5 0zm.5 0zm.5 0zm.5 0zm1 0zm.5 0zm1.5 0zm.5 0zm.5 0zm.5 0zm.5 0zm.5 0zm1 0zm1.5 0zm.5 0zm.5 0zm.5 0zm.5 0zm.5 0zm.5 0zm1 0zm1 0zm1 0zm.5 0zm1 0zm.5 0zm1.5 0zm2.5 0zm.5 0zm2 0zm2 0zm4.5 0zm.5 0zm1 0zm6.5 0zm3 0zm2 0zm.5 0zm2.5 0zm3.5 0zm10 0zm3 0zm.5 0zm2 0zm1.5 0zm.5 0zm2.5 0zm.5 0zm2.5 0zm23 0zm1.5 0zm.5 0zm.5 0zm.5 0zm1 0zm.5 0zm1 0zm.5 0zm.5 0zm.5 0zm.5 0zm.5 0zm.5 0zm1 0zm.5 0zm.5 0zm.5 0zm.5 0zm.5 0zm.5 0zm1 0zm1 0zm.5 0zm.5 0zm.5 0zm1 0zm.5 0zm.5 0zm.5 0zm.5 0zm1 0zm1 0zm.5 0zm.5 0zm.5 0zm.5 0zm.5 0zm.5 0zm1 0zm-.5 .5zm-.5 0zm-.5 0zm-.5 0zm-.5 0zm-.5 0zm-.5 0zm-.5 0zm-.5 0zm-.5 0zm-.5 0zm-.5 0zm-.5 0zm-1 0zm-.5 0zm-.5 0zm-.5 0zm-1 0zm-.5 0zm-.5 0zm-1.5 0zm-.5 0zm-.5 0zm-.5 0zm-.5 0zm-.5 0zm-1 0zm-.5 0zm-1.5 0zm-.5 0zm-.5 0zm-.5 0zm-.5 0zm-.5 0zm-.5 0zm-1 0zm-.5 0zm-.5 0zm-.5 0zm-1 0zm-4.5 0zm-1.5 0zm-11 0zm-1 0zm-1.5 0zm-1 0zm-2.5 0zm-.5 0zm-2 0zm-1 0zm-2 0zm-6.5 0zm-.5 0zm-1 0zm-6 0zm-13 0zm-1 0zm-4.5 0zm-2 0zm-3 0zm-.5 0zm-.5 0zm-1 0zm-.5 0zm-1.5 0zm-1 0zm-3.5 0zm-.5 0zm-1 0zm-.5 0zm-.5 0zm-2.5 0zm-1 0zm-1.5 0zm-.5 0zm-2.5 0zm-1 0zm-1 0zm-.5 0zm-.5 0zm-.5 0zm-1 0zm-.5 0zm-.5 0zm-.5 0zm-.5 0zm-.5 0zm-.5 0zm-.5 0zm-.5 0zm-.5 0zm-.5 0zm-.5 0zm-.5 0zm-.5 0zm-.5 0zm-.5 0zm-.5 0zm-.5 0zm-1 0zm-.5 0zm-.5 0zm-.5 0zm-1.5 0zm-.5 0zm-.5 0zm.5 .5zm.5 0zm.5 0zm.5 0zm1.5 0zm1.5 0zm1.5 0zm.5 0zm.5 0zm.5 0zm.5 0zm1 0zm.5 0zm.5 0zm.5 0zm.5 0zm.5 0zm.5 0zm1 0zm1 0zm.5 0zm2 0zm.5 0zm1 0zm.5 0zm.5 0zm.5 0zm.5 0zm1 0zm.5 0zm1 0zm2 0zm1.5 0zm4.5 0zm1 0zm1.5 0zm.5 0zm.5 0zm6.5 0zm6.5 0zm5 0zm1 0zm3 0zm1.5 0zm.5 0zm6.5 0zm5 0zm7.5 0zm7 0zm7.5 0zm1.5 0zm5.5 0zm3.5 0zm1 0zm1 0zm.5 0zm1.5 0zm.5 0zm.5 0zm.5 0zm1 0zm1 0zm.5 0zm.5 0zm1 0zm.5 0zm.5 0zm.5 0zm1.5 0zm.5 0zm.5 0zm.5 0zm.5 0zm.5 0zm.5 0zm1 0zm.5 0zm.5 0zm.5 0zm.5 0zm.5 0zm.5 0zm1 0zm.5 0zm1 0zm.5 0zm1 0zm.5 0zm1 0zm0 .5zm-1 0zm-2 0zm-.5 0zm-1 0zm-.5 0zm-.5 0zm-.5 0zm-.5 0zm-.5 0zm-.5 0zm-.5 0zm-.5 0zm-.5 0zm-.5 0zm-.5 0zm-.5 0zm-.5 0zm-1 0zm-.5 0zm-1 0zm-.5 0zm-.5 0zm-.5 0zm-.5 0zm-2 0zm-.5 0zm-.5 0zm-.5 0zm-.5 0zm-5 0zm-5 0zm-6.5 0zm-1 0zm-5.5 0zm-7 0zm-5 0zm-.5 0zm-9.5 0zm-1 0zm-1 0zm-14 0zm-2 0zm-1.5 0zm-1 0zm-.5 0zm-4 0zm-3 0zm-1 0zm-1.5 0zm-1.5 0zm-1.5 0zm-1.5 0zm-.5 0zm-1.5 0zm-.5 0zm-2.5 0zm-2 0zm-.5 0zm-2.5 0zm-.5 0zm-.5 0zm-.5 0zm-.5 0zm-.5 0zm-1 0zm-1 0zm-1 0zm-.5 0zm-2 0zm-.5 0zm-.5 0zm-1 0zm-.5 0zm-.5 0zm-.5 0zm-2 0zm-1 0zm-.5 0zm-.5 0zm-.5 0zm-.5 0zm-.5 0zm-.5 0zm0 .5zm.5 0zm.5 0zm.5 0zm1.5 0zm1 0zm1 0zm.5 0zm.5 0zm.5 0zm1.5 0zm2.5 0zm1 0zm.5 0zm.5 0zm.5 0zm1.5 0zm.5 0zm.5 0zm.5 0zm.5 0zm1 0zm.5 0zm1 0zm.5 0zm1.5 0zm.5 0zm1.5 0zm1 0zm2.5 0zm.5 0zm3.5 0zm.5 0zm3 0zm1.5 0zm2 0zm.5 0zm1 0zm1 0zm.5 0zm1 0zm2.5 0zm9.5 0zm3 0zm6 0zm2 0zm9 0zm1 0zm4 0zm1.5 0zm2 0zm1.5 0zm2 0zm14.5 0zm1.5 0zm.5 0zm2.5 0zm1.5 0zm1 0zm.5 0zm.5 0zm1 0zm.5 0zm.5 0zm1 0zm1 0zm1.5 0zm.5 0zm1 0zm.5 0zm1 0zm1 0zm2 0zm.5 0zm.5 0zm.5 0zm.5 0zm.5 0zm.5 0zm.5 0zm.5 0zm1 0zm.5 0zm1 0zm1 0zm0 .5zm-.5 0zm-.5 0zm-1 0zm-1 0zm-1 0zm-1.5 0zm-.5 0zm-.5 0zm-.5 0zm-.5 0zm-1 0zm-.5 0zm-1 0zm-.5 0zm-.5 0zm-1.5 0zm-.5 0zm-.5 0zm-1 0zm-.5 0zm-.5 0zm-.5 0zm-.5 0zm-.5 0zm-.5 0zm-.5 0zm-1 0zm-.5 0zm-1.5 0zm-.5 0zm-.5 0zm-.5 0zm-.5 0zm-.5 0zm-4.5 0zm-3.5 0zm-11.5 0zm-11 0zm-3 0zm-1.5 0zm-2 0zm-10.5 0zm-3 0zm-10.5 0zm-5 0zm-1 0zm-1.5 0zm-3 0zm-.5 0zm-6.5 0zm-2 0zm-1 0zm-1 0zm-1.5 0zm-4 0zm-.5 0zm-.5 0zm-.5 0zm-.5 0zm-1 0zm-1 0zm-.5 0zm-.5 0zm-.5 0zm-1.5 0zm-1.5 0zm-.5 0zm-1 0zm-1 0zm-.5 0zm-.5 0zm-.5 0zm-.5 0zm-1.5 0zm-1 0zm-.5 .5zm.5 0zm1.5 0zm1 0zm.5 0zm1 0zm1 0zm1 0zm.5 0zm.5 0zm.5 0zm1.5 0zm.5 0zm1 0zm.5 0zm1.5 0zm.5 0zm.5 0zm.5 0zm2 0zm1 0zm1.5 0zm1 0zm.5 0zm1.5 0zm.5 0zm1.5 0zm1.5 0zm2 0zm.5 0zm2.5 0zm.5 0zm1.5 0zm.5 0zm.5 0zm1.5 0zm7.5 0zm3 0zm4 0zm1 0zm7 0zm5.5 0zm6.5 0zm3 0zm4.5 0zm2.5 0zm10.5 0zm6 0zm6 0zm1 0zm3 0zm2 0zm1 0zm1.5 0zm.5 0zm.5 0zm.5 0zm.5 0zm.5 0zm.5 0zm1 0zm.5 0zm.5 0zm.5 0zm.5 0zm.5 0zm.5 0zm.5 0zm.5 0zm1 0zm.5 0zm.5 0zm.5 0zm.5 0zm1.5 0zm.5 0zm1 0zm2.5 0zm.5 0zm0 .5zm-.5 0zm-1.5 0zm-1.5 0zm-1 0zm-2 0zm-.5 0zm-1 0zm-.5 0zm-1.5 0zm-1 0zm-1 0zm-.5 0zm-.5 0zm-.5 0zm-.5 0zm-1 0zm-.5 0zm-1 0zm-.5 0zm-.5 0zm-.5 0zm-2 0zm-.5 0zm-1.5 0zm-1.5 0zm-3.5 0zm-18 0zm-4.5 0zm-21.5 0zm-9 0zm-9 0zm-2 0zm-9 0zm-2.5 0zm-.5 0zm-2 0zm-5 0zm-1 0zm-.5 0zm-.5 0zm-.5 0zm-1.5 0zm-2 0zm-.5 0zm-.5 0zm-.5 0zm-.5 0zm-.5 0zm-.5 0zm-1 0zm-1.5 0zm-.5 0zm-.5 0zm-.5 0zm-1.5 0zm-1.5 0zm0 .5zm.5 0zm1.5 0zm1 0zm1.5 0zm1 0zm1 0zm1.5 0zm1 0zm.5 0zm.5 0zm.5 0zm.5 0zm1.5 0zm.5 0zm2 0zm.5 0zm4.5 0zm.5 0zm2 0zm1.5 0zm3 0zm2 0zm.5 0zm9.5 0zm5 0zm5 0zm1 0zm3.5 0zm6 0zm10.5 0zm10.5 0zm2 0zm17.5 0zm1 0zm.5 0zm3.5 0zm.5 0zm.5 0zm1 0zm.5 0zm1 0zm1.5 0zm1 0zm1 0zm1.5 0zm2 0zm2 0zm.5 0zm2.5 0zm.5 0zm.5 0zm.5 0zm.5 0zm1 0zm.5 0zm.5 0zm.5 0zm1 .5zm-1 0zm-.5 0zm-.5 0zm-2.5 0zm-.5 0zm-1.5 0zm-.5 0zm-.5 0zm-2 0zm-1 0zm-1.5 0zm-2 0zm-3 0zm-1.5 0zm-2 0zm-.5 0zm-1 0zm-1.5 0zm-.5 0zm-15 0zm-7.5 0zm-.5 0zm-6 0zm-4.5 0zm-6.5 0zm-2.5 0zm-6.5 0zm-10.5 0zm-4.5 0zm-4 0zm-8.5 0zm-2 0zm-.5 0zm-.5 0zm-2.5 0zm-2.5 0zm-1 0zm-2.5 0zm-2 0zm-.5 0zm-.5 0zm-1 0zm-1.5 0zm-.5 0zm-2 0zm-1.5 0zm-.5 0zm-1.5 0zm-.5 0zm-1 0zm-.5 0zm-1 0zm-.5 .5zm1 0zm.5 0zm2.5 0zm.5 0zm1.5 0zm2.5 0zm1 0zm.5 0zm4.5 0zm1.5 0zm.5 0zm1.5 0zm10.5 0zm4.5 0zm4 0zm9 0zm2.5 0zm2 0zm7.5 0zm6 0zm20 0zm12 0zm5.5 0zm1 0zm1.5 0zm3 0zm1.5 0zm6.5 0zm1 0zm.5 0zm1.5 0zm.5 0zm2 0zm.5 0zm.5 0zm1 0zm1 0zm.5 0zm1.5 0zm1.5 0zm-.5 .5zm-.5 0zm-.5 0zm-.5 0zm-1 0zm-1 0zm-2 0zm-2 0zm-1.5 0zm-1 0zm-3.5 0zm-3.5 0zm-1.5 0zm-3 0zm-21 0zm-1 0zm-22.5 0zm-2 0zm-8 0zm-5 0zm-1 0zm-7 0zm-2.5 0zm-.5 0zm-4.5 0zm-3.5 0zm-6.5 0zm-1.5 0zm-2 0zm-1 0zm-1 0zm-1 0zm-1 0zm-.5 0zm-2.5 0zm-4 0zm-1.5 0zm-.5 0zm-4 .5zm4 0zm.5 0zm.5 0zm.5 0zm3 0zm1 0zm.5 0zm1 0zm.5 0zm1.5 0zm1.5 0zm.5 0zm4.5 0zm1.5 0zm3.5 0zm6.5 0zm9.5 0zm15.5 0zm3.5 0zm4.5 0zm6.5 0zm4 0zm.5 0zm4.5 0zm29.5 0zm2.5 0zm1 0zm1 0zm2.5 0zm1 0zm.5 0zm.5 0zm.5 0zm.5 0zm.5 0zm1.5 0zm3.5 0zm2 0zm1 0zm-2.5 .5zm-1 0zm-1 0zm-2.5 0zm-2.5 0zm-.5 0zm-2 0zm-11 0zm-20.5 0zm-23 0zm-11.5 0zm-14 0zm-3 0zm-4.5 0zm-5.5 0zm-3 0zm-10 0zm-4 0zm-3.5 .5zm4 0zm4 0zm6.5 0zm10 0zm.5 0zm12.5 0zm1 0zm16.5 0zm1.5 0zm56 0zm5.5 0zm5.5 0zm2 .5zm-2 0zm-.5 0zm-2 0zm-1 0zm-13 0zm-2.5 0zm-18.5 0zm-8.5 0zm-3.5 0zm-29.5 0zm-11.5 0zm-14 0zm-17.5 0zm-1.5 0zm-.5 .5zm28 0zm.5 0zm19 0zm10.5 0zm.5 0zm6.5 0zm5.5 0zm36 0zm11.5 0zm4.5 0zm-13 .5zm-18.5 0zm-31 0zm-1 0zm-7 0zm-44.5 .5zm16.5 0zm23.5 0zm9 0zm24.5 0zm1 0zm26.5 0zm11.5 0zm2.5 0zm-4 .5zm-2.5 0zm-51 0zm-16.5 0zm-8.5 0zm-15 0zm-21.5 .5zm56 0zm57 0zm2 0zm0 .5zm-53 0zm-15 .5zm5.5 0zm13 0zm15 0zm38 0zm4 0zm-7.5 .5zm-.5 0zm-46.5 0zm-5.5 0zm-8.5 .5zm29 0zm33 0zm1.5 0zm.5 0zm-6.5 .5zm-55 .5zm60.5 0zm0 .5zm-5 0zm-23.5 0zm-15 0zm-47 0zm-16.5 0zm1.5 .5zm8.5 0zm91.5 0zm2 0zm5.5 .5zm-7.5 0zm-5 0zm-68.5 .5zm15 0zm50.5 0zm11 0zm1.5 0zm1.5 .5zm-1.5 0zm-1 0zm-3 0zm-1 0zm-.5 0zm-95 .5zm9 0zm13 0zm16 0zm60.5 0zm.5 0zm2 0zm5 .5zm-5 0zm-.5 0zm-.5 0zm-3 0zm-3.5 0zm-65 0zm-1.5 0zm-20.5 .5zm4 0zm12.5 0zm72 0zm1.5 0zm2.5 0zm3.5 .5zm-.5 0zm-1.5 0zm-3 0zm-.5 0zm-.5 0zm-.5 0zm-2.5 0zm-7.5 0zm7.5 .5zm1.5 0zm.5 0zm.5 0zm.5 0zm1.5 0zm.5 0zm.5 0zm1.5 0zm3.5 0zm-1.5 .5zm-2 0zm-1 0zm-1.5 0zm-1.5 0zm-54.5 0zm-16.5 0zm-7.5 0zm-.5 0zm-8.5 0zm-21 .5zm16.5 0zm10 0zm9.5 0zm3 0zm12.5 0zm54.5 0zm1 0zm1 0zm2 0zm.5 0zm1 0zm2 0zm1 0zm-3 .5zm-1 0zm-.5 0zm-.5 0zm-.5 0zm-.5 0zm-.5 0zm-1.5 0zm-1 0zm-4.5 0zm-69.5 0zm-18.5 0zm-1 0zm-4.5 .5zm8 0zm12.5 0zm68.5 0zm4.5 0zm3.5 0zm.5 0zm.5 0zm1.5 0zm.5 0zm1 0zm.5 0zm.5 0zm1 0zm1.5 0zm2 0zm.5 0zm.5 .5zm-.5 0zm-3.5 0zm-.5 0zm-1 0zm-.5 0zm-1 0zm-1 0zm-.5 0zm-1 0zm-.5 0zm-.5 0zm-7 0zm-46 0zm-4.5 0zm-1.5 0zm-24 0zm-.5 0zm-21 0zm13.5 .5zm1 0zm2.5 0zm5 0zm2.5 0zm6.5 0zm71 0zm.5 0zm4 0zm1 0zm.5 0zm1.5 0zm1 0zm.5 0zm.5 0zm.5 0zm2 0zm1 0zm-2.5 .5zm-.5 0zm-1.5 0zm-1 0zm-.5 0zm-1 0zm-.5 0zm-.5 0zm-.5 0zm-.5 0zm-1 0zm-.5 0zm-.5 0zm-45 0zm-1 0zm-21.5 0zm-17.5 0zm-6.5 0zm-3.5 0zm-8 0zm12.5 .5zm3.5 0zm8.5 0zm.5 0zm39 0zm38.5 0zm1 0zm.5 0zm1 0zm.5 0zm.5 0zm.5 0zm.5 0zm.5 0zm.5 0zm.5 0zm.5 0zm1.5 0zm.5 0zm1 0zm1 0zm1 0zm1.5 .5zm-1.5 0zm-1.5 0zm-.5 0zm-1 0zm-1.5 0zm-.5 0zm-1 0zm-1.5 0zm-.5 0zm-.5 0zm-1.5 0zm-.5 0zm-1 0zm-1 0zm-2.5 0zm-3 0zm-64 0zm-.5 0zm-12.5 0zm-2 0zm-21.5 .5zm11.5 0zm2 0zm11 0zm1.5 0zm4.5 0zm1 0zm1 0zm75 0zm.5 0zm1 0zm.5 0zm.5 0zm.5 0zm1 0zm.5 0zm.5 0zm.5 0zm.5 0zm1 0zm.5 0zm1 0zm1 0zm3 0zm-1 .5zm-3 0zm-.5 0zm-.5 0zm-1 0zm-.5 0zm-1 0zm-.5 0zm-.5 0zm-.5 0zm-.5 0zm-.5 0zm-.5 0zm-.5 0zm-1 0zm-.5 0zm-1.5 0zm-1 0zm-6 0zm-44.5 0zm-1.5 0zm-16.5 0zm-6.5 0zm-2.5 0zm-22.5 .5zm.5 0zm10 0zm.5 0zm16.5 0zm2 0zm12.5 0zm8 0zm50.5 0zm2 0zm.5 0zm.5 0zm1.5 0zm.5 0zm.5 0zm.5 0zm.5 0zm2 0zm.5 0zm1.5 0zm1.5 0zm.5 0zm1 .5zm-.5 0zm-1 0zm-1 0zm-1 0zm-1 0zm-.5 0zm-.5 0zm-1.5 0zm-1 0zm-1 0zm-.5 0zm-1 0zm-.5 0zm-1 0zm-.5 0zm-24.5 0zm-43 0zm-18 0zm-5 0zm-1.5 0zm-1 0zm-10.5 .5zm14 0zm1 0zm8.5 0zm.5 0zm6 0zm.5 0zm1 0zm27 0zm11.5 0zm30 0zm6.5 0zm.5 0zm1 0zm.5 0zm.5 0zm1 0zm.5 0zm.5 0zm.5 0zm.5 0zm1 0zm1 .5zm-.5 0zm-2 0zm-.5 0zm-.5 0zm-.5 0zm-.5 0zm-.5 0zm-.5 0zm-.5 0zm-.5 0zm-1 0zm-.5 0zm-1 0zm-.5 0zm-1 0zm-.5 0zm-1.5 0zm-1 0zm-6.5 0zm-40.5 0zm-9.5 0zm-10 0zm-12 0zm-11 0zm-4 0zm5 .5zm4 0zm2 0zm2 0zm.5 0zm1.5 0zm3 0zm1 0zm11 0zm1 0zm.5 0zm28.5 0zm32 0zm1.5 0zm1.5 0zm1 0zm.5 0zm1 0zm1 0zm.5 0zm1 0zm1 0zm.5 0zm.5 0zm1.5 0zm.5 0zm.5 0zm.5 0zm.5 0zm.5 0zm2 0zm1 0zm0 .5zm-7 0zm-.5 0zm-.5 0zm-.5 0zm-.5 0zm-.5 0zm-.5 0zm-1.5 0zm-.5 0zm-1 0zm-1.5 0zm-3 0zm-1.5 0zm-49.5 0zm-1 0zm-8 0zm-2.5 0zm-1 0zm-4.5 0zm-2.5 0zm-6 0zm-2 0zm-5 0zm-4 0zm-2 0zm-.5 0zm-2.5 0zm-11 0zm-2.5 0zm9 .5zm3 0zm3.5 0zm1.5 0zm1 0zm3 0zm.5 0zm.5 0zm1 0zm6 0zm1.5 0zm1 0zm1 0zm2.5 0zm5 0zm2 0zm1.5 0zm5 0zm15 0zm45 0zm1.5 0zm.5 0zm1.5 0zm2 0zm.5 0zm.5 0zm2.5 0zm1 0zm7 0zm-1.5 .5zm-4 0zm-.5 0zm-.5 0zm-.5 0zm-1 0zm-.5 0zm-.5 0zm-.5 0zm-.5 0zm-.5 0zm-.5 0zm-.5 0zm-.5 0zm-.5 0zm-.5 0zm-1 0zm-2.5 0zm-25.5 0zm-26.5 0zm-1.5 0zm-3.5 0zm-.5 0zm-6 0zm-1.5 0zm-2 0zm-6 0zm-7 0zm-.5 0zm-7 0zm-7 0zm-.5 0zm-4.5 0zm-3 0zm3.5 .5zm2.5 0zm4.5 0zm.5 0zm.5 0zm1.5 0zm.5 0zm2.5 0zm4 0zm1.5 0zm.5 0zm5.5 0zm6 0zm1 0zm.5 0zm19.5 0zm22 0zm21.5 0zm5.5 0zm.5 0zm2.5 0zm.5 0zm.5 0zm.5 0zm.5 0zm1 0zm.5 0zm.5 0zm.5 0zm1 0zm.5 0zm.5 0zm1.5 .5zm-1.5 0zm-1.5 0zm-1 0zm-.5 0zm-1 0zm-1 0zm-1 0zm-.5 0zm-1 0zm-.5 0zm-.5 0zm-4 0zm-40.5 0zm-8 0zm-3 0zm-6.5 0zm-6 0zm-2 0zm-1.5 0zm-.5 0zm-2 0zm-1 0zm-.5 0zm-4 0zm-1 0zm-3.5 0zm-6 0zm-2.5 0zm-5 0zm-1.5 0zm-5 .5zm5.5 0zm9 0zm.5 0zm5.5 0zm6.5 0zm.5 0zm4 0zm.5 0zm6.5 0zm2.5 0zm2.5 0zm13.5 0zm29 0zm1.5 0zm11 0zm5.5 0zm1 0zm.5 0zm.5 0zm.5 0zm1 0zm.5 0zm.5 0zm2 0zm.5 0zm.5 0zm2 0zm0 .5zm-1.5 0zm-.5 0zm-.5 0zm-1 0zm-1.5 0zm-2 0zm-2 0zm-1 0zm-2 0zm-5 0zm-20 0zm-11.5 0zm-27 0zm-8.5 0zm-1.5 0zm-2.5 0zm-1.5 0zm-1.5 0zm-2 0zm-3.5 0zm-4.5 0zm-1.5 0zm-1 0zm-2.5 0zm-.5 0zm0 .5zm3.5 0zm3.5 0zm7.5 0zm2 0zm.5 0zm1 0zm1 0zm1 0zm1.5 0zm1.5 0zm1 0zm.5 0zm7.5 0zm1 0zm3 0zm57 0zm3 0zm1 0zm.5 0zm1 0zm.5 0zm.5 0zm.5 0zm1.5 0zm1 0zm.5 0zm6.5 0zm-6.5 .5zm-1 0zm-.5 0zm-.5 0zm-1 0zm-.5 0zm-.5 0zm-.5 0zm-3 0zm-1.5 0zm-4 0zm-55.5 0zm-3 0zm-2.5 0zm-.5 0zm-5 0zm-3.5 0zm-1 0zm-1 0zm-1 0zm-1.5 0zm-1.5 0zm-3.5 0zm-4.5 0zm-7.5 0zm-1 0zm-.5 0zm2.5 .5zm2.5 0zm5.5 0zm2 0zm1 0zm1 0zm1.5 0zm.5 0zm3.5 0zm.5 0zm1 0zm4 0zm1.5 0zm1 0zm4 0zm7.5 0zm1 0zm.5 0zm39 0zm19 0zm1 0zm1.5 0zm2.5 0zm.5 0zm.5 0zm.5 0zm3 0zm.5 0zm1 0zm1 0zm-3.5 .5zm-2 0zm-4 0zm-1 0zm-1.5 0zm-2 0zm-6 0zm-23 0zm-9.5 0zm-1.5 0zm-3.5 0zm-6.5 0zm-12 0zm-.5 0zm-4.5 0zm-4.5 0zm-11 0zm-.5 0zm-3 0zm-.5 0zm-2 0zm-.5 0zm-3 0zm-2 0zm-2 0zm-3.5 0zm-4.5 0zm-1.5 0zm5 .5zm8 0zm1 0zm2.5 0zm1.5 0zm1 0zm1.5 0zm4.5 0zm1.5 0zm1.5 0zm2 0zm1 0zm3.5 0zm10 0zm2.5 0zm.5 0zm6 0zm6.5 0zm7 0zm10.5 0zm18.5 0zm3 0zm1.5 0zm5 0zm2 0zm4 0zm.5 0zm.5 0zm1 0zm1.5 0zm3.5 .5zm-4 0zm-1.5 0zm-.5 0zm-.5 0zm-.5 0zm-.5 0zm-.5 0zm-.5 0zm-2 0zm-1 0zm-2 0zm-2.5 0zm-4 0zm-19.5 0zm-24.5 0zm-1.5 0zm-4 0zm-9 0zm-1 0zm-9.5 0zm-.5 0zm-1.5 0zm-1.5 0zm-3.5 0zm-.5 0zm-2 0zm-.5 0zm-2 0zm-1 0zm-12.5 0zm-4 .5zm3.5 0zm2 0zm2.5 0zm.5 0zm1.5 0zm2.5 0zm1.5 0zm.5 0zm4.5 0zm10 0zm4 0zm.5 0zm1 0zm3 0zm3 0zm57 0zm10 0zm1 0zm.5 0zm2 0zm.5 0zm.5 0zm1.5 0zm1.5 0zm4.5 0zm-7 .5zm-1.5 0zm-.5 0zm-.5 0zm-3.5 0zm-.5 0zm-.5 0zm-3 0zm-2.5 0zm-33.5 0zm-1 0zm-.5 0zm-2 0zm-.5 0zm-10 0zm-1 0zm-3.5 0zm-3.5 0zm-1.5 0zm-.5 0zm-6 0zm-3 0zm-.5 0zm-6 0zm-1.5 0zm-2.5 0zm-2.5 0zm-.5 0zm-.5 0zm-1.5 0zm-2 0zm-3 0zm-.5 0zm-2.5 0zm-5 0zm7 .5zm1.5 0zm2.5 0zm1.5 0zm2 0zm2.5 0zm1.5 0zm.5 0zm.5 0zm2 0zm1 0zm1 0zm.5 0zm.5 0zm.5 0zm4 0zm1 0zm.5 0zm1.5 0zm2 0zm2.5 0zm2.5 0zm9.5 0zm42.5 0zm2 0zm1.5 0zm3 0zm5 0zm2 0zm.5 0zm.5 0zm1.5 0zm2 .5zm-1 0zm-1.5 0zm-1.5 0zm-7 0zm-32 0zm-7.5 0zm-13.5 0zm-9 0zm-4 0zm-1 0zm-6.5 0zm-1 0zm-.5 0zm-3.5 0zm-3.5 0zm-3 0zm-1 0zm-4 0zm-6.5 0zm-2 0zm-4 0zm8.5 .5zm2.5 0zm.5 0zm4.5 0zm2 0zm1.5 0zm.5 0zm2 0zm.5 0zm.5 0zm2.5 0zm.5 0zm1 0zm1 0zm12.5 0zm12 0zm2.5 0zm16.5 0zm5 0zm15.5 0zm7.5 0zm3 0zm3.5 0zm.5 0zm6.5 0zm3 0zm.5 .5zm-6 0zm-1 0zm-4 0zm-12.5 0zm-18 0zm-21.5 0zm-8 0zm-4.5 0zm-1 0zm-1 0zm-2 0zm-3 0zm-3 0zm-1 0zm-1.5 0zm-.5 0zm-.5 0zm-.5 0zm-1 0zm-3.5 0zm-2.5 0zm-3.5 0zm-1 0zm-1 0zm-1 0zm-1.5 0zm-14.5 .5zm14 0zm.5 0zm2 0zm3.5 0zm4 0zm.5 0zm1 0zm2 0zm1.5 0zm1 0zm4.5 0zm2.5 0zm2 0zm.5 0zm1 0zm1 0zm55 0zm4 0zm1.5 0zm1 0zm3 0zm.5 0zm1.5 0zm1 0zm3 0zm1.5 0zm2.5 0zm8 0zm-17.5 .5zm-2 0zm-1 0zm-2 0zm-15 0zm-7 0zm-27 0zm-2.5 0zm-2 0zm-7.5 0zm-2 0zm-1.5 0zm-2.5 0zm-1 0zm-2 0zm-1.5 0zm-7.5 0zm-6.5 0zm-7 0zm-.5 0zm-9 0zm8 .5zm3.5 0zm15 0zm1.5 0zm.5 0zm2 0zm.5 0zm1.5 0zm1.5 0zm9 0zm2 0zm8 0zm13 0zm9.5 0zm34 0zm4 0zm2 0zm0 .5zm-.5 0zm-2.5 0zm-1 0zm-.5 0zm-2.5 0zm-4 0zm-4 0zm-28 0zm-5.5 0zm-18.5 0zm-1 0zm-2 0zm-1.5 0zm-1 0zm-.5 0zm-7 0zm-1.5 0zm-.5 0zm-1 0zm-1.5 0zm-1 0zm-1 0zm-5 0zm-3.5 0zm-9.5 0zm-2 0zm1.5 .5zm1 0zm2 0zm3.5 0zm1.5 0zm3 0zm1.5 0zm1 0zm1 0zm6 0zm4.5 0zm8 0zm23.5 0zm51.5 0zm-4.5 .5zm-6 0zm-.5 0zm-2.5 0zm-28 0zm-20.5 0zm-1.5 0zm-4.5 0zm-.5 0zm-2.5 0zm-3 0zm-4.5 0zm-9.5 0zm-4 0zm-2 0zm-14.5 0zm-2.5 .5zm7 0zm1 0zm2.5 0zm1.5 0zm6.5 0zm2.5 0zm3.5 0zm3.5 0zm3.5 0zm1.5 0zm4 0zm8.5 0zm13.5 0zm44 0zm6 0zm-.5 .5zm-5.5 0zm-55.5 0zm-3 0zm-2.5 0zm-2.5 0zm-6 0zm-5 0zm-3.5 0zm-9 0zm-2 0zm-4 0zm-7 0zm0 .5zm5.5 0zm1 0zm4 0zm2 0zm3 0zm3 0zm1 0zm3.5 0zm1 0zm1.5 0zm6 0zm1 0zm10.5 0zm48 0zm8 .5zm-9 0zm-51.5 0zm-2 0zm-4 0zm-6 0zm-.5 0zm-7.5 0zm-2.5 0zm-1 0zm-1 0zm-9 0zm-8.5 0zm-3 0zm-4 .5zm13.5 0zm4.5 0zm.5 0zm1.5 0zm7 0zm2 0zm4 0zm5.5 0zm12.5 0zm4 0zm7 0zm.5 0zm29.5 0zm15 0zm-15.5 .5zm-53 0zm-16.5 0zm-3 0zm-1 0zm-1.5 0zm-12.5 .5zm4 0zm5.5 0zm2 0zm6.5 0zm3.5 0zm7 0zm1.5 0zm4.5 0zm1.5 0zm8.5 0zm6 0zm.5 0zm48.5 0zm3.5 .5zm-4 0zm-39 0zm-11 0zm-5 0zm-11 0zm-8.5 0zm-1.5 0zm-7 0zm-6 0zm-4.5 0zm-6 0zm7 .5zm10.5 0zm1.5 0zm1.5 0zm3 0zm7 0zm7 0zm5 0zm62.5 0zm2 .5zm-10.5 0zm-6.5 0zm-32 0zm-4.5 0zm-9.5 0zm-1.5 0zm-1 0zm-13 0zm-1 0zm-4 0zm-15.5 0zm-7 0zm2.5 .5zm15 0zm11 0zm1.5 0zm4.5 0zm1 0zm3.5 0zm13 0zm9.5 0zm38.5 0zm13 .5zm-23.5 0zm-71 0zm-1 0zm-1 0zm-1 0zm-1 0zm-1 0zm-1 0zm-.5 0zm-14.5 0zm0 .5zm12.5 0zm6.5 0zm3 0zm9 0zm9 0zm9.5 0zm13.5 0zm8 0zm43 .5zm-41.5 0zm-22.5 0zm-29.5 0zm-3.5 0zm-1 0zm-7.5 .5zm10 0zm14 0zm18.5 0zm2.5 0zm2.5 0zm41.5 0zm10.5 0zm-6 .5zm-7.5 0zm-62.5 0zm-2.5 0zm-10 0zm-16 0zm13.5 .5zm1 0zm2.5 0zm2.5 0zm10 0zm60.5 0zm-40 .5zm-12.5 0zm-19.5 0zm-9 0zm4 .5zm7.5 0zm71 0zm6 0zm-53 .5zm-19 0zm-19 0zm-.5 0zm19.5 .5zm68.5 0zm-51.5 .5zm-3.5 0zm-20.5 0zm-6 0zm-13 0zm49.5 1.5zm31 0zm-56 1zm-12 1zm4 0zm9.5 .5zm67 1z" stroke="#000" stroke-width="1.3" stroke-linecap="square" fill="none"/>
<g stroke="#111" fill="none">
<rect x="217.1" y="239.0" width="128.7" height="123.6" stroke-width="1.15"/>
<path d="M217.1 316.7H345.8M287.3 239.0V362.6" stroke-width="1.1"/>
<path d="M217.1 362.6v4M217.1 362.6h-4M226.8 362.6v2.2M217.1 353.3h-2.2M232.5 362.6v2.2M217.1 347.9h-2.2M236.5 362.6v2.2M217.1 344h-2.2M239.6 362.6v2.2M217.1 341h-2.2M242.1 362.6v2.2M217.1 338.6h-2.2M244.3 362.6v2.2M217.1 336.5h-2.2M246.2 362.6v2.2M217.1 334.7h-2.2M247.8 362.6v2.2M217.1 333.1h-2.2M249.3 362.6v4M217.1 331.7h-4M259 362.6v2.2M217.1 322.4h-2.2M264.6 362.6v2.2M217.1 317h-2.2M268.6 362.6v2.2M217.1 313.1h-2.2M271.8 362.6v2.2M217.1 310.1h-2.2M274.3 362.6v2.2M217.1 307.7h-2.2M276.5 362.6v2.2M217.1 305.6h-2.2M278.3 362.6v2.2M217.1 303.8h-2.2M280 362.6v2.2M217.1 302.2h-2.2M281.4 362.6v4M217.1 300.8h-4M291.1 362.6v2.2M217.1 291.5h-2.2M296.8 362.6v2.2M217.1 286.1h-2.2M300.8 362.6v2.2M217.1 282.2h-2.2M303.9 362.6v2.2M217.1 279.2h-2.2M306.5 362.6v2.2M217.1 276.8h-2.2M308.6 362.6v2.2M217.1 274.7h-2.2M310.5 362.6v2.2M217.1 272.9h-2.2M312.2 362.6v2.2M217.1 271.3h-2.2M313.6 362.6v4M217.1 269.9h-4M323.3 362.6v2.2M217.1 260.6h-2.2M329 362.6v2.2M217.1 255.2h-2.2M333 362.6v2.2M217.1 251.3h-2.2M336.1 362.6v2.2M217.1 248.3h-2.2M338.7 362.6v2.2M217.1 245.9h-2.2M340.8 362.6v2.2M217.1 243.8h-2.2M342.7 362.6v2.2M217.1 242h-2.2M344.3 362.6v2.2M217.1 240.4h-2.2M345.8 362.6v4M217.1 239h-4" stroke-width="0.8"/>
</g>
<g font-family="'Liberation Serif',serif" font-weight="bold" font-size="7" fill="#000" stroke="#000" stroke-width="0.35">
<text x="213.9" y="375.8">10<tspan dy="-2" font-size="6.2">0</tspan></text>
<text x="199.7" y="365.3">10<tspan dy="-2" font-size="6.2">0</tspan></text>
<text x="246.1" y="375.8">10<tspan dy="-2" font-size="6.2">1</tspan></text>
<text x="199.7" y="334.4">10<tspan dy="-2" font-size="6.2">1</tspan></text>
<text x="278.2" y="375.8">10<tspan dy="-2" font-size="6.2">2</tspan></text>
<text x="199.7" y="303.5">10<tspan dy="-2" font-size="6.2">2</tspan></text>
<text x="310.4" y="375.8">10<tspan dy="-2" font-size="6.2">3</tspan></text>
<text x="199.7" y="272.6">10<tspan dy="-2" font-size="6.2">3</tspan></text>
<text x="342.6" y="375.8">10<tspan dy="-2" font-size="6.2">4</tspan></text>
<text x="199.7" y="241.7">10<tspan dy="-2" font-size="6.2">4</tspan></text>
</g>
<path d="M241 278zm-18 1.5zm11 2.5zm14 0zm12.5 .5zm-15 0zm-3.5 .5zm14 0zm-8.5 .5zm-3 0zm-10.5 .5zm91.5 0zm-51 .5zm-18 0zm-24 0zm-3 .5zm22.5 0zm74 0zm-83.5 .5zm-20 .5zm4.5 0zm22 0zm1 0zm1 0zm13 .5zm-12 0zm-4.5 0zm-7 0zm-3.5 0zm-16 0zm9 .5zm7.5 0zm8 0zm5 0zm.5 0zm72 0zm.5 0zm2 0zm2.5 0zm16.5 .5zm-15.5 0zm-3 0zm-2.5 0zm-.5 0zm-66.5 0zm-1.5 0zm-20 0zm-13.5 0zm21.5 .5zm1 0zm.5 0zm81 0zm7 0zm-74.5 .5zm-9.5 0zm-6 0zm-3 0zm-2.5 0zm-12.5 0zm-1.5 .5zm16 0zm.5 0zm12 0zm11.5 0zm57.5 0zm1 0zm1 0zm7.5 0zm1 0zm-4 .5zm-2.5 0zm-4.5 0zm-1 0zm-59 0zm-10.5 0zm-1 0zm-2 0zm-2 0zm-4 0zm-9.5 0zm-5.5 0zm-3 .5zm1.5 0zm4.5 0zm1.5 0zm1.5 0zm3 0zm11.5 0zm10 0zm.5 0zm6 0zm53 0zm2.5 0zm.5 0zm.5 0zm2.5 0zm15 .5zm-6 0zm-6 0zm-.5 0zm-2.5 0zm-1.5 0zm-.5 0zm-8 0zm-62 0zm-.5 0zm-4.5 0zm-8.5 0zm-2 0zm-.5 0zm-4.5 0zm-1 0zm-.5 0zm-5 0zm-2 .5zm5 0zm2 0zm1 0zm.5 0zm2.5 0zm1.5 0zm.5 0zm.5 0zm1.5 0zm2.5 0zm1.5 0zm8.5 0zm10.5 0zm60 0zm1 0zm.5 0zm.5 0zm1 0zm1 0zm2 0zm14.5 .5zm-14.5 0zm-3.5 0zm-2 0zm-.5 0zm-.5 0zm-.5 0zm-1.5 0zm-65 0zm-8 0zm-1.5 0zm-7.5 0zm-2 0zm-1.5 0zm-.5 0zm-2 0zm-3.5 0zm-1 0zm-2 .5zm2.5 0zm2 0zm7 0zm1 0zm2 0zm1 0zm2.5 0zm1.5 0zm2 0zm2.5 0zm1 0zm2 0zm1 0zm12.5 0zm53.5 0zm.5 0zm1.5 0zm1 0zm1 0zm.5 0zm.5 0zm.5 0zm1 0zm4.5 0zm12.5 .5zm-14 0zm-3 0zm-1 0zm-.5 0zm-1.5 0zm-.5 0zm-.5 0zm-1.5 0zm-14.5 0zm-55 0zm-2 0zm-1 0zm-1.5 0zm-1.5 0zm-.5 0zm-1.5 0zm-3 0zm-.5 0zm-1 0zm-4 0zm-2 0zm-1.5 0zm-2 0zm-1.5 0zm-2 0zm3.5 .5zm1 0zm1 0zm1 0zm1.5 0zm1.5 0zm.5 0zm1.5 0zm.5 0zm.5 0zm2 0zm1.5 0zm.5 0zm2 0zm1 0zm.5 0zm5.5 0zm3 0zm.5 0zm16 0zm1 0zm45.5 0zm.5 0zm2 0zm.5 0zm3 0zm.5 0zm2 0zm.5 0zm3.5 0zm4 0zm3 0zm-11.5 .5zm-.5 0zm-1 0zm-.5 0zm-.5 0zm-1 0zm-.5 0zm-.5 0zm-4 0zm-2 0zm-52.5 0zm-16.5 0zm-1.5 0zm-1 0zm-1 0zm-2.5 0zm-1 0zm-.5 0zm-1.5 0zm-1 0zm-1 0zm-1 0zm-1 0zm-2.5 0zm-.5 0zm-.5 0zm-2.5 0zm-.5 0zm-3 0zm-.5 0zm-.5 0zm1.5 .5zm1.5 0zm.5 0zm1 0zm1.5 0zm.5 0zm.5 0zm.5 0zm1 0zm1 0zm1 0zm.5 0zm.5 0zm3.5 0zm1 0zm1.5 0zm1 0zm1.5 0zm1.5 0zm1 0zm1 0zm1 0zm1 0zm.5 0zm5 0zm4.5 0zm1 0zm7 0zm52.5 0zm.5 0zm1 0zm.5 0zm.5 0zm.5 0zm.5 0zm1 0zm.5 0zm.5 0zm19 0zm-6 .5zm-10.5 0zm-1 0zm-2 0zm-2.5 0zm-.5 0zm-2 0zm-51.5 0zm-9 0zm-7.5 0zm-2 0zm-1.5 0zm-2.5 0zm-2 0zm-1 0zm-.5 0zm-.5 0zm-.5 0zm-1 0zm-.5 0zm-.5 0zm-.5 0zm-.5 0zm-.5 0zm-.5 0zm-1 0zm-1 0zm-1 0zm-2 0zm-1 0zm-.5 0zm-1.5 0zm-1 0zm-.5 0zm-1 0zm-.5 0zm-.5 0zm-.5 0zm-1 0zm1.5 .5zm2 0zm.5 0zm1.5 0zm1 0zm.5 0zm.5 0zm.5 0zm.5 0zm.5 0zm.5 0zm1.5 0zm.5 0zm.5 0zm1 0zm.5 0zm.5 0zm.5 0zm1 0zm.5 0zm1 0zm1 0zm1 0zm1 0zm.5 0zm.5 0zm1.5 0zm1 0zm1.5 0zm2 0zm1.5 0zm2.5 0zm2.5 0zm57 0zm2 0zm1 0zm1 0zm.5 0zm.5 0zm.5 0zm1.5 0zm1 0zm1 0zm1 .5zm-1 0zm-.5 0zm-1 0zm-.5 0zm-1 0zm-.5 0zm-1.5 0zm-.5 0zm-41 0zm-15.5 0zm-5 0zm-.5 0zm-1 0zm-1 0zm-1 0zm-1 0zm-.5 0zm-.5 0zm-3.5 0zm-.5 0zm-3 0zm-.5 0zm-.5 0zm-.5 0zm-1.5 0zm-1.5 0zm-.5 0zm-1 0zm-.5 0zm-.5 0zm-.5 0zm-1 0zm-.5 0zm-1 0zm-.5 0zm-1 0zm-.5 0zm-.5 0zm-.5 0zm-.5 0zm-1.5 0zm-.5 0zm-.5 0zm-.5 0zm-.5 0zm-1 0zm-.5 0zm-1 0zm-1 0zm0 .5zm1 0zm1 0zm.5 0zm.5 0zm.5 0zm1 0zm1 0zm1 0zm.5 0zm.5 0zm.5 0zm.5 0zm.5 0zm1 0zm.5 0zm.5 0zm.5 0zm.5 0zm1 0zm2.5 0zm.5 0zm.5 0zm.5 0zm.5 0zm.5 0zm1 0zm.5 0zm.5 0zm1 0zm.5 0zm2 0zm1 0zm1.5 0zm2 0zm1.5 0zm8.5 0zm12 0zm1 0zm39 0zm4 0zm.5 0zm.5 0zm1 0zm.5 0zm.5 0zm1 0zm2 0zm.5 0zm1.5 0zm2.5 0zm10 0zm12 0zm-19.5 .5zm-6.5 0zm-1.5 0zm-.5 0zm-.5 0zm-1 0zm-.5 0zm-.5 0zm-.5 0zm-.5 0zm-2.5 0zm-29.5 0zm-4 0zm-2 0zm-23 0zm-3.5 0zm-3.5 0zm-.5 0zm-1 0zm-.5 0zm-1.5 0zm-1 0zm-.5 0zm-1 0zm-1 0zm-1.5 0zm-2 0zm-.5 0zm-1 0zm-1 0zm-.5 0zm-.5 0zm-1 0zm-.5 0zm-.5 0zm-1.5 0zm-.5 0zm-.5 0zm-.5 0zm-.5 0zm-1.5 0zm-.5 0zm-.5 0zm-1 0zm-.5 0zm-.5 0zm-1 0zm-1 0zm-.5 0zm-.5 .5zm.5 0zm.5 0zm.5 0zm.5 0zm.5 0zm.5 0zm.5 0zm.5 0zm.5 0zm.5 0zm1 0zm.5 0zm.5 0zm1.5 0zm1 0zm.5 0zm.5 0zm.5 0zm.5 0zm.5 0zm.5 0zm1 0zm.5 0zm.5 0zm.5 0zm.5 0zm.5 0zm.5 0zm.5 0zm.5 0zm.5 0zm2 0zm.5 0zm.5 0zm1 0zm.5 0zm.5 0zm1 0zm1.5 0zm1 0zm.5 0zm.5 0zm2.5 0zm2 0zm7 0zm12 0zm10.5 0zm29 0zm.5 0zm3 0zm.5 0zm1 0zm1.5 0zm.5 0zm.5 0zm1 0zm.5 0zm.5 0zm4.5 0zm.5 0zm3 0zm.5 0zm10.5 .5zm-1.5 0zm-10.5 0zm-2.5 0zm-4 0zm-.5 0zm-2.5 0zm-.5 0zm-.5 0zm-1.5 0zm-.5 0zm-.5 0zm-.5 0zm-1 0zm-2 0zm-8 0zm-28 0zm-3.5 0zm-14.5 0zm-1.5 0zm-4 0zm-3.5 0zm-2 0zm-4 0zm-.5 0zm-.5 0zm-.5 0zm-.5 0zm-.5 0zm-.5 0zm-1 0zm-.5 0zm-.5 0zm-.5 0zm-.5 0zm-.5 0zm-.5 0zm-.5 0zm-.5 0zm-.5 0zm-1 0zm-1 0zm-.5 0zm-.5 0zm-.5 0zm-.5 0zm-.5 0zm-.5 0zm-.5 0zm-.5 0zm-.5 0zm-1.5 0zm-.5 0zm-1 0zm-1 0zm-.5 0zm-.5 0zm-1 0zm-.5 .5zm.5 0zm.5 0zm1 0zm.5 0zm.5 0zm.5 0zm.5 0zm.5 0zm.5 0zm.5 0zm.5 0zm.5 0zm.5 0zm.5 0zm1.5 0zm.5 0zm.5 0zm.5 0zm.5 0zm.5 0zm1.5 0zm.5 0zm.5 0zm.5 0zm.5 0zm.5 0zm.5 0zm.5 0zm.5 0zm.5 0zm1.5 0zm1.5 0zm1 0zm.5 0zm1 0zm.5 0zm1.5 0zm.5 0zm3 0zm.5 0zm.5 0zm3.5 0zm13 0zm8 0zm1 0zm32.5 0zm.5 0zm3.5 0zm1 0zm1.5 0zm1 0zm.5 0zm.5 0zm1 0zm1.5 0zm1 0zm9.5 0zm2 0zm5.5 .5zm-9 0zm-5 0zm-.5 0zm-1 0zm-2 0zm-1 0zm-.5 0zm-1 0zm-.5 0zm-.5 0zm-1 0zm-.5 0zm-.5 0zm-.5 0zm-.5 0zm-.5 0zm-.5 0zm-1.5 0zm-5.5 0zm-22.5 0zm-17 0zm-11.5 0zm-2.5 0zm-.5 0zm-2.5 0zm-.5 0zm-.5 0zm-1 0zm-1 0zm-1.5 0zm-.5 0zm-.5 0zm-1.5 0zm-.5 0zm-.5 0zm-2 0zm-.5 0zm-.5 0zm-1 0zm-.5 0zm-1 0zm-.5 0zm-.5 0zm-.5 0zm-.5 0zm-.5 0zm-.5 0zm-.5 0zm-.5 0zm-.5 0zm-1 0zm-.5 0zm-.5 0zm-.5 0zm-.5 0zm-.5 0zm-.5 0zm-.5 0zm-.5 0zm-.5 0zm-.5 0zm-.5 0zm-1 0zm-.5 0zm-.5 0zm-1 0zm-.5 .5zm2.5 0zm.5 0zm.5 0zm.5 0zm1 0zm.5 0zm.5 0zm.5 0zm.5 0zm.5 0zm.5 0zm.5 0zm.5 0zm1 0zm.5 0zm.5 0zm.5 0zm.5 0zm1 0zm.5 0zm.5 0zm.5 0zm.5 0zm.5 0zm.5 0zm.5 0zm.5 0zm1 0zm.5 0zm1.5 0zm.5 0zm1 0zm1.5 0zm.5 0zm1.5 0zm.5 0zm.5 0zm2 0zm3.5 0zm3 0zm.5 0zm8 0zm12.5 0zm33.5 0zm1 0zm1 0zm.5 0zm.5 0zm.5 0zm.5 0zm.5 0zm1.5 0zm.5 0zm.5 0zm.5 0zm.5 0zm.5 0zm.5 0zm2 0zm12 0zm6 0zm1.5 .5zm-10.5 0zm-4.5 0zm-8 0zm-.5 0zm-.5 0zm-2 0zm-.5 0zm-1 0zm-.5 0zm-1 0zm-.5 0zm-.5 0zm-1 0zm-1 0zm-1 0zm-5.5 0zm-2 0zm-21 0zm-8.5 0zm-1 0zm-3.5 0zm-1 0zm-3 0zm-10.5 0zm-2 0zm-1 0zm-2 0zm-.5 0zm-1.5 0zm-2.5 0zm-1 0zm-.5 0zm-.5 0zm-1 0zm-.5 0zm-.5 0zm-1 0zm-.5 0zm-.5 0zm-.5 0zm-.5 0zm-.5 0zm-.5 0zm-.5 0zm-.5 0zm-1 0zm-.5 0zm-.5 0zm-.5 0zm-.5 0zm-.5 0zm-.5 0zm-.5 0zm-1 0zm-.5 0zm-.5 0zm-.5 0zm-.5 0zm-1 0zm-.5 0zm-1 0zm-1 0zm-.5 0zm0 .5zm.5 0zm.5 0zm1 0zm1 0zm.5 0zm.5 0zm.5 0zm.5 0zm.5 0zm.5 0zm1.5 0zm.5 0zm.5 0zm.5 0zm1 0zm.5 0zm.5 0zm.5 0zm.5 0zm.5 0zm.5 0zm.5 0zm.5 0zm.5 0zm.5 0zm.5 0zm.5 0zm.5 0zm.5 0zm1 0zm.5 0zm.5 0zm.5 0zm.5 0zm.5 0zm.5 0zm.5 0zm1 0zm.5 0zm1 0zm2 0zm1 0zm.5 0zm3.5 0zm2 0zm8 0zm2 0zm1 0zm1.5 0zm10 0zm1 0zm.5 0zm4.5 0zm25 0zm2.5 0zm.5 0zm.5 0zm1 0zm1 0zm.5 0zm1.5 0zm1 0zm1.5 0zm5.5 0zm.5 0zm17.5 0zm-7.5 .5zm-1.5 0zm-5 0zm-8 0zm-2 0zm-1 0zm-1.5 0zm-.5 0zm-.5 0zm-1 0zm-1 0zm-.5 0zm-.5 0zm-.5 0zm-2 0zm-1 0zm-10 0zm-.5 0zm-6.5 0zm-2 0zm-12 0zm-8 0zm-9 0zm-.5 0zm-2 0zm-4.5 0zm-3 0zm-1 0zm-.5 0zm-2 0zm-.5 0zm-.5 0zm-.5 0zm-1.5 0zm-.5 0zm-1.5 0zm-1 0zm-.5 0zm-.5 0zm-.5 0zm-1.5 0zm-.5 0zm-.5 0zm-1 0zm-.5 0zm-.5 0zm-.5 0zm-.5 0zm-.5 0zm-.5 0zm-.5 0zm-.5 0zm-.5 0zm-1.5 0zm-.5 0zm-.5 0zm-.5 0zm-.5 0zm-.5 0zm-.5 0zm-.5 0zm-.5 0zm-.5 0zm-1 0zm-.5 0zm-.5 0zm-.5 .5zm.5 0zm1 0zm.5 0zm.5 0zm1 0zm.5 0zm.5 0zm.5 0zm.5 0zm.5 0zm.5 0zm1 0zm.5 0zm.5 0zm.5 0zm1.5 0zm.5 0zm.5 0zm.5 0zm.5 0zm.5 0zm.5 0zm.5 0zm.5 0zm.5 0zm.5 0zm1 0zm.5 0zm.5 0zm.5 0zm.5 0zm.5 0zm.5 0zm1 0zm.5 0zm.5 0zm.5 0zm.5 0zm1 0zm1 0zm1.5 0zm.5 0zm1.5 0zm.5 0zm4 0zm8.5 0zm1 0zm8 0zm31.5 0zm2.5 0zm1.5 0zm.5 0zm.5 0zm1.5 0zm.5 0zm.5 0zm.5 0zm1.5 0zm.5 0zm1 0zm.5 0zm.5 0zm.5 0zm.5 0zm10.5 0zm2 0zm-3 .5zm-3 0zm-3.5 0zm-4 0zm-1 0zm-.5 0zm-1 0zm-.5 0zm-.5 0zm-.5 0zm-1.5 0zm-.5 0zm-1 0zm-.5 0zm-.5 0zm-.5 0zm-.5 0zm-3 0zm-27 0zm-5.5 0zm-1.5 0zm-3 0zm-.5 0zm-1 0zm-11 0zm-.5 0zm-.5 0zm-.5 0zm-1 0zm-2 0zm-.5 0zm-3.5 0zm-.5 0zm-1 0zm-1 0zm-.5 0zm-1 0zm-.5 0zm-.5 0zm-1 0zm-1 0zm-1 0zm-1 0zm-.5 0zm-1 0zm-.5 0zm-.5 0zm-.5 0zm-.5 0zm-.5 0zm-.5 0zm-1 0zm-1.5 0zm-.5 0zm-.5 0zm-1 0zm-.5 0zm-.5 0zm-.5 0zm-.5 0zm-.5 0zm-.5 0zm-.5 0zm-.5 0zm-.5 0zm-1.5 0zm-.5 0zm1.5 .5zm.5 0zm.5 0zm1 0zm.5 0zm.5 0zm.5 0zm.5 0zm.5 0zm.5 0zm.5 0zm.5 0zm1 0zm.5 0zm1 0zm.5 0zm.5 0zm.5 0zm.5 0zm.5 0zm.5 0zm.5 0zm.5 0zm.5 0zm.5 0zm.5 0zm1 0zm.5 0zm.5 0zm.5 0zm.5 0zm.5 0zm.5 0zm.5 0zm.5 0zm.5 0zm1 0zm1 0zm.5 0zm1 0zm1.5 0zm1 0zm1.5 0zm.5 0zm1 0zm.5 0zm2 0zm5 0zm2.5 0zm20 0zm.5 0zm5.5 0zm17.5 0zm4.5 0zm.5 0zm.5 0zm1 0zm1.5 0zm.5 0zm.5 0zm.5 0zm2 0zm1.5 0zm2 0zm7 0zm13 0zm1 0zm-7 .5zm-11 0zm-2 0zm-.5 0zm-4.5 0zm-1.5 0zm-1 0zm-1 0zm-.5 0zm-1 0zm-.5 0zm-1 0zm-.5 0zm-1.5 0zm-.5 0zm-2 0zm-2.5 0zm-.5 0zm-8.5 0zm-11.5 0zm-4 0zm-8 0zm-1 0zm-2 0zm-.5 0zm-2.5 0zm-1 0zm-1 0zm-3 0zm-.5 0zm-4 0zm-3 0zm-.5 0zm-1 0zm-.5 0zm-1 0zm-.5 0zm-.5 0zm-.5 0zm-.5 0zm-.5 0zm-.5 0zm-.5 0zm-.5 0zm-1.5 0zm-.5 0zm-.5 0zm-.5 0zm-1 0zm-.5 0zm-.5 0zm-.5 0zm-.5 0zm-.5 0zm-1 0zm-.5 0zm-.5 0zm-.5 0zm-.5 0zm-.5 0zm-.5 0zm-.5 0zm-.5 0zm-1.5 0zm-.5 0zm-.5 0zm-.5 0zm-.5 0zm-.5 0zm-.5 0zm-.5 0zm-.5 0zm-.5 0zm-.5 0zm-1.5 0zm-.5 0zm-1 0zm-1 0zm-1 .5zm2.5 0zm1 0zm.5 0zm.5 0zm.5 0zm.5 0zm.5 0zm.5 0zm.5 0zm.5 0zm.5 0zm.5 0zm.5 0zm.5 0zm.5 0zm1 0zm.5 0zm.5 0zm1.5 0zm.5 0zm.5 0zm.5 0zm.5 0zm1 0zm.5 0zm.5 0zm1 0zm1.5 0zm.5 0zm.5 0zm1 0zm.5 0zm.5 0zm1 0zm1.5 0zm.5 0zm1 0zm1.5 0zm.5 0zm3.5 0zm3.5 0zm4 0zm3 0zm1.5 0zm2.5 0zm.5 0zm.5 0zm9 0zm23.5 0zm1 0zm1.5 0zm.5 0zm.5 0zm1 0zm2 0zm.5 0zm.5 0zm.5 0zm.5 0zm1.5 0zm1.5 0zm.5 0zm2.5 0zm1.5 0zm14.5 0zm.5 0zm-2.5 .5zm-10.5 0zm-7.5 0zm-.5 0zm-1 0zm-.5 0zm-.5 0zm-.5 0zm-.5 0zm-.5 0zm-.5 0zm-.5 0zm-2 0zm-1 0zm-5 0zm-25 0zm-1 0zm-.5 0zm-6 0zm-1.5 0zm-2.5 0zm-3 0zm-1 0zm-5 0zm-.5 0zm-2 0zm-3 0zm-.5 0zm-1 0zm-1.5 0zm-.5 0zm-1 0zm-.5 0zm-.5 0zm-3 0zm-.5 0zm-1 0zm-.5 0zm-.5 0zm-.5 0zm-.5 0zm-1 0zm-.5 0zm-.5 0zm-.5 0zm-.5 0zm-.5 0zm-.5 0zm-.5 0zm-.5 0zm-.5 0zm-.5 0zm-.5 0zm-.5 0zm-.5 0zm-.5 0zm-.5 0zm-.5 0zm-1 0zm-.5 0zm-3 0zm-1 .5zm1.5 0zm.5 0zm1.5 0zm1 0zm1.5 0zm1 0zm.5 0zm1 0zm.5 0zm.5 0zm.5 0zm.5 0zm1 0zm1 0zm1.5 0zm.5 0zm.5 0zm1 0zm.5 0zm1 0zm.5 0zm.5 0zm.5 0zm.5 0zm1.5 0zm2.5 0zm3 0zm1 0zm1 0zm1.5 0zm3 0zm8.5 0zm4 0zm4.5 0zm.5 0zm23.5 0zm3.5 0zm1.5 0zm1.5 0zm.5 0zm.5 0zm.5 0zm.5 0zm.5 0zm.5 0zm2 0zm1.5 0zm.5 0zm.5 0zm1 0zm3 0zm2.5 0zm6 0zm5 0zm4.5 .5zm-16 0zm-4 0zm-1 0zm-.5 0zm-1.5 0zm-.5 0zm-.5 0zm-.5 0zm-1 0zm-1.5 0zm-1 0zm-.5 0zm-.5 0zm-1 0zm-20 0zm-1.5 0zm-6 0zm-2 0zm-2 0zm-6.5 0zm-3.5 0zm-3 0zm-1.5 0zm-9.5 0zm-3 0zm-.5 0zm-1 0zm-.5 0zm-.5 0zm-1 0zm-1.5 0zm-.5 0zm-.5 0zm-.5 0zm-1 0zm-.5 0zm-.5 0zm-.5 0zm-.5 0zm-1.5 0zm-1 0zm-.5 0zm-.5 0zm-1 0zm-.5 0zm-.5 0zm-.5 0zm-.5 0zm-1 0zm-.5 0zm-.5 0zm-.5 0zm-1.5 0zm-.5 0zm-.5 0zm-.5 0zm0 .5zm.5 0zm1 0zm.5 0zm.5 0zm1.5 0zm.5 0zm1 0zm1.5 0zm1 0zm.5 0zm.5 0zm.5 0zm.5 0zm1.5 0zm.5 0zm.5 0zm1 0zm2.5 0zm1.5 0zm.5 0zm1 0zm1 0zm.5 0zm.5 0zm.5 0zm.5 0zm1 0zm1.5 0zm1 0zm.5 0zm1 0zm1 0zm8.5 0zm2.5 0zm.5 0zm8 0zm1 0zm27.5 0zm3.5 0zm2 0zm.5 0zm.5 0zm.5 0zm.5 0zm.5 0zm.5 0zm1 0zm.5 0zm2 0zm.5 0zm32.5 0zm-1.5 .5zm-15 0zm-1 0zm-4.5 0zm-5 0zm-4 0zm-2 0zm-.5 0zm-1 0zm-.5 0zm-.5 0zm-.5 0zm-.5 0zm-1 0zm-.5 0zm-.5 0zm-1 0zm-.5 0zm-1 0zm-.5 0zm-.5 0zm-.5 0zm-26.5 0zm-1.5 0zm-2 0zm-2.5 0zm-5 0zm-2.5 0zm-3 0zm-1 0zm-1.5 0zm-4 0zm-6 0zm-1 0zm-1 0zm-1.5 0zm-3.5 0zm-1 0zm-.5 0zm-1 0zm-.5 0zm-1.5 0zm-1 0zm-1 0zm-1.5 0zm-.5 0zm-.5 0zm-.5 0zm-1 0zm-4.5 0zm-.5 0zm-1 0zm1.5 .5zm1.5 0zm2.5 0zm.5 0zm1 0zm1 0zm.5 0zm1 0zm1 0zm.5 0zm.5 0zm1 0zm2 0zm.5 0zm1.5 0zm1 0zm1 0zm2.5 0zm.5 0zm2.5 0zm1 0zm1.5 0zm.5 0zm.5 0zm3 0zm3 0zm7 0zm8.5 0zm1.5 0zm2.5 0zm3.5 0zm6 0zm13 0zm1 0zm.5 0zm2 0zm1.5 0zm.5 0zm.5 0zm.5 0zm1 0zm1 0zm1 0zm2.5 0zm2.5 0zm8 0zm4.5 0zm6.5 0zm1 .5zm-7.5 0zm-13 0zm-2 0zm-1 0zm-1 0zm-.5 0zm-.5 0zm-1 0zm-.5 0zm-.5 0zm-.5 0zm-.5 0zm-.5 0zm-.5 0zm-.5 0zm-1.5 0zm-26 0zm-9.5 0zm-9 0zm-4 0zm-2.5 0zm-.5 0zm-3 0zm-1 0zm-1 0zm-1 0zm-.5 0zm-3 0zm-4 0zm-.5 0zm-3 0zm-1.5 0zm-.5 0zm-.5 0zm-1 0zm-1 0zm-2 0zm-1 0zm-1 0zm-.5 0zm4 .5zm3.5 0zm.5 0zm1.5 0zm1.5 0zm1 0zm.5 0zm2 0zm.5 0zm1 0zm.5 0zm1 0zm2.5 0zm6 0zm11 0zm3 0zm18 0zm14.5 0zm4 0zm.5 0zm.5 0zm.5 0zm1 0zm1 0zm.5 0zm.5 0zm.5 0zm1 0zm.5 0zm.5 0zm.5 0zm11.5 0zm2.5 0zm-13 .5zm-1 0zm-.5 0zm-.5 0zm-.5 0zm-.5 0zm-1 0zm-1 0zm-2 0zm-.5 0zm-1 0zm-1.5 0zm-1.5 0zm-20 0zm-3.5 0zm-2.5 0zm-1.5 0zm-5.5 0zm-.5 0zm-4 0zm-2 0zm-4.5 0zm-12 0zm-1.5 0zm-1.5 0zm-1.5 0zm-1 0zm-1 0zm-5 0zm-3 0zm-2 0zm-.5 .5zm1.5 0zm.5 0zm1.5 0zm.5 0zm3 0zm16 0zm1 0zm5 0zm7 0zm1.5 0zm2 0zm2 0zm.5 0zm30.5 0zm3.5 0zm.5 0zm1 0zm1 0zm.5 0zm1.5 0zm.5 0zm.5 0zm5 0zm16 0zm12.5 .5zm-8 0zm-23.5 0zm-.5 0zm-.5 0zm-.5 0zm-1.5 0zm-.5 0zm-.5 0zm-.5 0zm-1 0zm-1.5 0zm-.5 0zm-1 0zm-.5 0zm-.5 0zm-5 0zm-5 0zm-2 0zm-10 0zm-10.5 0zm-17.5 0zm-2 0zm-3 0zm-1 0zm-1.5 0zm-.5 0zm-1.5 0zm-.5 0zm-8.5 0zm-1 0zm-1 0zm-2.5 0zm9 .5zm8 0zm8.5 0zm2.5 0zm2 0zm23.5 0zm8 0zm1 0zm9.5 0zm1.5 0zm.5 0zm.5 0zm1.5 0zm.5 0zm.5 0zm.5 0zm1 0zm1.5 0zm1 0zm.5 0zm.5 0zm1 0zm8 0zm6.5 0zm10.5 .5zm-29 0zm-.5 0zm-.5 0zm-.5 0zm-.5 0zm-.5 0zm-.5 0zm-2.5 0zm-1 0zm-4 0zm-36 0zm-4.5 0zm-13.5 0zm-10 0zm2 .5zm18 0zm14 0zm1.5 0zm6.5 0zm10 0zm16.5 0zm.5 0zm1 0zm.5 0zm.5 0zm.5 0zm.5 0zm.5 0zm1.5 0zm.5 0zm1 0zm5 0zm6 .5zm-8.5 0zm-1.5 0zm-1 0zm-1 0zm-.5 0zm-1.5 0zm-1 0zm-1 0zm-.5 0zm-1.5 0zm-.5 0zm-1 0zm-5.5 0zm-25.5 0zm-1.5 0zm-1 0zm-18.5 0zm-4 0zm-12 0zm-1 0zm18 .5zm6 0zm43.5 0zm2.5 0zm1 0zm.5 0zm.5 0zm1 0zm2 0zm2.5 0zm1 0zm1 0zm1.5 0zm12 0zm-19.5 .5zm-1 0zm-.5 0zm-.5 0zm-16 0zm-19 0zm-.5 0zm-12.5 0zm19 .5zm24 0zm1.5 0zm.5 0zm1 0zm1.5 0zm.5 0zm.5 0zm1.5 0zm1 0zm.5 0zm.5 0zm0 .5zm-3.5 0zm-5.5 0zm-15 0zm-19.5 0zm-11 0zm-18 0zm65 .5zm4.5 0zm1 0zm12.5 0zm-3.5 .5zm-8.5 0zm-1.5 0zm-1 0zm-1.5 0zm-1 0zm-1 0zm-3 0zm-32.5 0zm-6 0zm22.5 .5zm23 0zm-1 .5zm-.5 0zm-1.5 0zm-66.5 .5zm26.5 0zm9 0zm17.5 0zm16.5 0zm29 0zm9 0zm-38.5 .5zm-4 0zm-64.5 .5zm70 0zm.5 0zm36.5 0zm-8 .5zm-19 0zm-9.5 .5zm24 0zm-8 .5zm-48 0zm-30.5 .5zm80 0zm25 0zm-30.5 1zm-76 1zm3 0zm6.5 0zm18.5 0zm11 0zm22.5 0zm33 0zm7 .5zm-102.5 .5zm13 0zm16 0zm53 0zm13.5 0zm2.5 .5zm-16.5 0zm-84 0zm13.5 .5zm12.5 0zm8 0zm11 0zm37.5 0zm12.5 .5zm-4.5 0zm-3.5 0zm-64 0zm-1.5 0zm-1.5 0zm-11 0zm-7 0zm-1.5 0zm3.5 .5zm22.5 0zm3.5 0zm78.5 .5zm-77 0zm-7.5 0zm-10.5 0zm-17.5 0zm5 .5zm7.5 0zm.5 0zm4.5 0zm1.5 0zm1.5 0zm18.5 0zm61 0zm-84.5 .5zm-10.5 0zm-.5 0zm-1.5 0zm-2 0zm-6 0zm2 .5zm1 0zm3 0zm2.5 0zm.5 0zm.5 0zm8.5 0zm5 0zm17 0zm24.5 0zm18 0zm3.5 0zm-63.5 .5zm-5.5 0zm-1.5 0zm-5.5 0zm-.5 0zm-1.5 0zm-3.5 0zm-4.5 .5zm1.5 0zm1.5 0zm5.5 0zm1 0zm6 0zm3.5 0zm2.5 0zm1 0zm8 0zm60 0zm2.5 0zm4 0zm3.5 .5zm-.5 0zm-10.5 0zm-43 0zm-18 0zm-5.5 0zm-7.5 0zm-4.5 0zm-.5 0zm-.5 0zm-5 0zm-.5 0zm-1 .5zm15.5 0zm5 0zm2 0zm16.5 0zm19.5 0zm21.5 0zm8 0zm1 0zm3 0zm-4.5 .5zm-6 0zm-52.5 0zm-13 0zm-.5 0zm-7 0zm-1 0zm-3 0zm-3 0zm-3.5 0zm-1.5 0zm-1.5 .5zm3.5 0zm2 0zm2.5 0zm3 0zm2 0zm4 0zm.5 0zm7.5 0zm2 0zm3 0zm1.5 0zm55.5 0zm16.5 .5zm-13 0zm-3.5 0zm-2 0zm-3 0zm-20.5 0zm-21.5 0zm-17.5 0zm-6 0zm-6.5 0zm-1.5 .5zm3.5 0zm.5 0zm.5 0zm.5 0zm.5 0zm.5 0zm2.5 0zm4.5 0zm1 0zm4 0zm.5 0zm1 0zm4.5 0zm7 0zm50.5 0zm5 0zm2 0zm.5 0zm7.5 0zm-15.5 .5zm-1 0zm-2.5 0zm-56 0zm-.5 0zm-1 0zm-3.5 0zm-.5 0zm-2 0zm-1.5 0zm-.5 0zm-2.5 0zm-.5 0zm-1 0zm-.5 0zm-3.5 0zm-.5 0zm-2 0zm-.5 0zm-.5 0zm-1.5 0zm-.5 0zm-.5 0zm-3.5 0zm-.5 0zm.5 .5zm3.5 0zm.5 0zm4.5 0zm.5 0zm1 0zm4 0zm.5 0zm5.5 0zm1 0zm1 0zm2.5 0zm2.5 0zm11.5 0zm11 0zm35.5 0zm9 0zm13 .5zm-9.5 0zm-3 0zm-2.5 0zm-6.5 0zm-.5 0zm-37.5 0zm-15 0zm-3.5 0zm-6 0zm-4 0zm-.5 0zm-4.5 0zm-.5 0zm-2.5 0zm-1 0zm-2 0zm-1 0zm-1 0zm-.5 0zm-3 0zm-6 0zm3.5 .5zm3 0zm3.5 0zm.5 0zm1.5 0zm.5 0zm.5 0zm.5 0zm1 0zm1 0zm1.5 0zm2 0zm3 0zm27.5 0zm42.5 0zm1 0zm9.5 0zm1 0zm1.5 0zm-17.5 .5zm-7.5 0zm-51 0zm-1 0zm-.5 0zm-4.5 0zm-1 0zm-2 0zm-3 0zm-.5 0zm-.5 0zm-1.5 0zm-.5 0zm-1.5 0zm-.5 0zm-.5 0zm-1.5 0zm-.5 0zm-1.5 0zm-2 0zm-.5 0zm-2.5 0zm-2.5 0zm1 .5zm1.5 0zm2 0zm1.5 0zm2.5 0zm.5 0zm1.5 0zm.5 0zm2.5 0zm1 0zm1 0zm1 0zm.5 0zm1 0zm2.5 0zm.5 0zm.5 0zm.5 0zm1 0zm1.5 0zm3.5 0zm11.5 0zm44 0zm2 0zm12 0zm-21 .5zm-41.5 0zm-10 0zm-1.5 0zm-2.5 0zm-.5 0zm-.5 0zm-1 0zm-1 0zm-.5 0zm-1.5 0zm-1 0zm-.5 0zm-1.5 0zm-1.5 0zm-4.5 0zm-1 0zm-2 0zm-.5 0zm-1 0zm2.5 .5zm.5 0zm2 0zm.5 0zm6 0zm1 0zm1 0zm1 0zm1 0zm2 0zm1 0zm3 0zm.5 0zm.5 0zm3.5 0zm8 0zm1.5 0zm1.5 0zm1.5 0zm6.5 0zm.5 0zm2.5 0zm37 0zm1.5 0zm1.5 0zm2 0zm1.5 0zm2.5 0zm6.5 0zm-61.5 .5zm-5.5 0zm-11 0zm-1 0zm-1 0zm-2 0zm-2.5 0zm-3.5 0zm-.5 0zm-3 0zm-1.5 0zm-1 0zm-.5 0zm-3.5 0zm-1 0zm-.5 0zm-2.5 0zm1 .5zm6 0zm2.5 0zm1 0zm.5 0zm1.5 0zm.5 0zm.5 0zm.5 0zm.5 0zm1 0zm.5 0zm.5 0zm1 0zm.5 0zm1 0zm1.5 0zm3.5 0zm3.5 0zm3.5 0zm28 0zm30.5 0zm1 0zm2 0zm2 0zm3 0zm2.5 .5zm-.5 0zm-6 0zm-48 0zm-17.5 0zm-.5 0zm-4.5 0zm-1.5 0zm-.5 0zm-5 0zm-.5 0zm-.5 0zm-1 0zm-.5 0zm-.5 0zm-3.5 0zm-2.5 0zm-.5 0zm-1.5 0zm-2 0zm-1 .5zm4 0zm.5 0zm2 0zm.5 0zm.5 0zm.5 0zm1.5 0zm.5 0zm1 0zm1 0zm1 0zm.5 0zm1 0zm.5 0zm3 0zm.5 0zm.5 0zm2.5 0zm.5 0zm3.5 0zm3 0zm.5 0zm3 0zm2 0zm47 0zm11.5 0zm4 .5zm-1 0zm-4.5 0zm-6 0zm-1.5 0zm-39 0zm-15.5 0zm-5.5 0zm-2 0zm-.5 0zm-2 0zm-1 0zm-.5 0zm-1.5 0zm-1 0zm-.5 0zm-2 0zm-1 0zm-.5 0zm-1.5 0zm-.5 0zm-.5 0zm-2.5 0zm-1 0zm-.5 0zm-1 0zm-.5 0zm-1 0zm-2.5 0zm-2.5 .5zm1 0zm5.5 0zm2.5 0zm3.5 0zm1.5 0zm.5 0zm.5 0zm1.5 0zm.5 0zm2 0zm.5 0zm.5 0zm1 0zm.5 0zm.5 0zm1.5 0zm3 0zm.5 0zm3 0zm4 0zm56 0zm6 0zm1.5 0zm6.5 .5zm-7.5 0zm-6 0zm-11 0zm-36.5 0zm-2 0zm-.5 0zm-2 0zm-3 0zm-1.5 0zm-.5 0zm-3 0zm-.5 0zm-3.5 0zm-.5 0zm-1.5 0zm-1 0zm-3 0zm-5 0zm-2 0zm-2 0zm-2 0zm-1 0zm-1 0zm-2 0zm-.5 0zm-5 .5zm2.5 0zm2.5 0zm.5 0zm1.5 0zm4.5 0zm.5 0zm1 0zm1 0zm.5 0zm.5 0zm1 0zm3.5 0zm1 0zm.5 0zm1.5 0zm3 0zm2 0zm1.5 0zm1.5 0zm8 0zm9 0zm44 0zm0 .5zm-54.5 0zm-11 0zm-1.5 0zm-1.5 0zm-.5 0zm-.5 0zm-2 0zm-3.5 0zm-1 0zm-3.5 0zm-1.5 0zm-.5 0zm-3 0zm-1 0zm-1 0zm-1.5 0zm-1.5 0zm-.5 0zm-.5 0zm-.5 0zm-1 0zm2 .5zm.5 0zm4 0zm2 0zm.5 0zm.5 0zm.5 0zm3.5 0zm.5 0zm1.5 0zm.5 0zm1.5 0zm.5 0zm2 0zm.5 0zm.5 0zm16 0zm65.5 0zm-13.5 .5zm-2.5 0zm-37.5 0zm-9 0zm-10.5 0zm-6.5 0zm-.5 0zm-1 0zm-.5 0zm-.5 0zm-.5 0zm-.5 0zm-.5 0zm-.5 0zm-1 0zm-.5 0zm-.5 0zm-1 0zm-.5 0zm-.5 0zm-.5 0zm-2.5 0zm-1.5 0zm-.5 0zm-.5 0zm-1 0zm-1.5 0zm-3 0zm-2.5 0zm2 .5zm3 0zm2.5 0zm1.5 0zm1.5 0zm1 0zm3 0zm1 0zm.5 0zm1 0zm1.5 0zm4 0zm1.5 0zm1 0zm7 0zm2.5 0zm9 0zm3.5 0zm13 0zm32.5 0zm-2 .5zm-.5 0zm-32.5 0zm-18 0zm-10.5 0zm-1.5 0zm-.5 0zm-2.5 0zm-1 0zm-6.5 0zm-1 0zm-.5 0zm-.5 0zm-.5 0zm-1.5 0zm-2 0zm-.5 0zm-.5 0zm-.5 0zm-.5 0zm-.5 0zm-.5 0zm-2 0zm-1 0zm-.5 0zm-2 0zm-.5 0zm-2 .5zm3 0zm2.5 0zm1 0zm4 0zm.5 0zm.5 0zm1 0zm2.5 0zm1 0zm1 0zm.5 0zm1 0zm1.5 0zm3 0zm.5 0zm2 0zm5.5 0zm1 0zm12.5 0zm-11.5 .5zm-5 0zm-1 0zm-3 0zm-1 0zm-.5 0zm-3.5 0zm-1.5 0zm-1 0zm-1 0zm-1 0zm-.5 0zm-4 0zm-.5 0zm-2 0zm-1 0zm-.5 0zm-2.5 0zm-3.5 0zm0 .5zm2.5 0zm3 0zm1 0zm2 0zm1.5 0zm1.5 0zm.5 0zm1.5 0zm.5 0zm1.5 0zm1 0zm.5 0zm.5 0zm.5 0zm1 0zm1.5 0zm5.5 0zm5.5 0zm55.5 0zm3.5 0zm-2 .5zm-34.5 0zm-17.5 0zm-2.5 0zm-7 0zm-3 0zm-5.5 0zm-3 0zm-2 0zm-1 0zm-1 0zm-1 0zm-1 0zm-.5 0zm-3 0zm-2 0zm-1.5 0zm-1.5 0zm0 .5zm1 0zm4.5 0zm1 0zm1 0zm1 0zm2 0zm2 0zm.5 0zm.5 0zm.5 0zm.5 0zm.5 0zm1 0zm.5 0zm.5 0zm2 0zm1.5 0zm1 0zm.5 0zm.5 0zm7 0zm59 0zm4.5 0zm1.5 .5zm-9 0zm-3 0zm-52.5 0zm-5 0zm-2.5 0zm-2 0zm-2.5 0zm-.5 0zm-1 0zm-.5 0zm-.5 0zm-1.5 0zm-.5 0zm-1 0zm-1.5 0zm-1 0zm-3 0zm-1 0zm-6.5 0zm2.5 .5zm1 0zm.5 0zm1.5 0zm6 0zm.5 0zm.5 0zm1 0zm1.5 0zm.5 0zm.5 0zm4 0zm1 0zm1.5 0zm5.5 0zm17 0zm5.5 0zm14.5 0zm36 0zm2.5 0zm-3 .5zm-71.5 0zm-2.5 0zm-4.5 0zm-.5 0zm-1.5 0zm-2 0zm-2 0zm-3 0zm-3 0zm-2 0zm-6.5 0zm-.5 .5zm2.5 0zm1.5 0zm.5 0zm3.5 0zm3.5 0zm1 0zm1 0zm.5 0zm.5 0zm1 0zm1.5 0zm6 0zm1 0zm1.5 0zm16.5 0zm7.5 .5zm-14 0zm-8 0zm-7 0zm-3 0zm-.5 0zm-3 0zm-1.5 0zm-1.5 0zm-1 0zm-2 0zm-1 0zm-3 0zm-2 0zm-2.5 0zm4.5 .5zm2 0zm3 0zm2.5 0zm.5 0zm1.5 0zm1 0zm.5 0zm7 0zm4 0zm17.5 0zm45.5 0zm5 0zm-62.5 .5zm-8 0zm-3 0zm-1.5 0zm-2.5 0zm-2 0zm-.5 0zm-3.5 0zm-6.5 0zm-1 0zm.5 .5zm4.5 0zm3 0zm1.5 0zm2 0zm1.5 0zm4.5 0zm10 0zm2 0zm3 0zm50.5 .5zm-59 0zm-.5 0zm-8 0zm-1 0zm-.5 0zm-1 0zm-5.5 0zm-.5 0zm-1.5 0zm-.5 0zm-1.5 0zm-.5 0zm-7 0zm4.5 .5zm1.5 0zm.5 0zm.5 0zm4.5 0zm2 0zm1.5 0zm1.5 0zm1 0zm4.5 0zm1.5 0zm.5 0zm4.5 0zm29.5 0zm30.5 0zm.5 0zm-49.5 .5zm-8 0zm-3 0zm-4 0zm-3.5 0zm-7 0zm-2.5 0zm-.5 0zm-1.5 0zm-1 0zm-1 0zm-1.5 0zm-.5 0zm-1 .5zm2.5 0zm6 0zm3 0zm4 0zm1.5 0zm7.5 0zm-9 .5zm-2 0zm-3.5 0zm-1.5 0zm-1 0zm-5.5 0zm-.5 0zm-4 .5zm23.5 0zm6 0zm5 0zm-11 .5zm-10.5 0zm-2.5 0zm-1 0zm-1 0zm-4.5 0zm-6 0zm6 .5zm.5 0zm1.5 0zm6 0zm.5 0zm2.5 0zm.5 0zm5.5 .5zm-4.5 0zm-8.5 0zm-8 0zm7.5 .5zm1 0zm72 0zm-46.5 .5zm-6 0zm-2 0zm-3 0zm-2.5 0zm-.5 0zm-6 0zm-3 0zm-6 0zm-8 0zm6 .5zm18 0zm-11.5 .5zm-.5 0zm-3 0zm-3.5 0zm-5.5 0zm14.5 .5zm9 .5zm-6.5 .5zm3.5 0zm.5 .5zm-3 0zm-8.5 .5zm7.5 0zm1.5 0zm7.5 0zm9 .5zm-28 0zm11.5 .5zm1 .5zm-13.5 0zm1.5 .5zm91 0zm-87 2.5z" stroke="#000" stroke-width="1.3" stroke-linecap="square" fill="none"/>
<g stroke="#111" fill="none">
<rect x="384.4" y="239.2" width="129.9" height="123.7" stroke-width="1.15"/>
<path d="M384.4 316.7H514.3M449.4 239.2V362.9" stroke-width="1.1"/>
<path d="M384.4 362.9v4M384.4 362.9h-4M394.2 362.9v2.2M384.4 353.6h-2.2M399.9 362.9v2.2M384.4 348.1h-2.2M404 362.9v2.2M384.4 344.3h-2.2M407.1 362.9v2.2M384.4 341.3h-2.2M409.7 362.9v2.2M384.4 338.8h-2.2M411.8 362.9v2.2M384.4 336.8h-2.2M413.7 362.9v2.2M384.4 335h-2.2M415.4 362.9v2.2M384.4 333.4h-2.2M416.9 362.9v4M384.4 332h-4M426.7 362.9v2.2M384.4 322.7h-2.2M432.4 362.9v2.2M384.4 317.2h-2.2M436.4 362.9v2.2M384.4 313.4h-2.2M439.6 362.9v2.2M384.4 310.4h-2.2M442.1 362.9v2.2M384.4 307.9h-2.2M444.3 362.9v2.2M384.4 305.8h-2.2M446.2 362.9v2.2M384.4 304h-2.2M447.9 362.9v2.2M384.4 302.5h-2.2M449.3 362.9v4M384.4 301h-4M459.1 362.9v2.2M384.4 291.7h-2.2M464.8 362.9v2.2M384.4 286.3h-2.2M468.9 362.9v2.2M384.4 282.4h-2.2M472 362.9v2.2M384.4 279.4h-2.2M474.6 362.9v2.2M384.4 277h-2.2M476.8 362.9v2.2M384.4 274.9h-2.2M478.7 362.9v2.2M384.4 273.1h-2.2M480.3 362.9v2.2M384.4 271.5h-2.2M481.8 362.9v4M384.4 270.1h-4M491.6 362.9v2.2M384.4 260.8h-2.2M497.3 362.9v2.2M384.4 255.4h-2.2M501.4 362.9v2.2M384.4 251.5h-2.2M504.5 362.9v2.2M384.4 248.5h-2.2M507.1 362.9v2.2M384.4 246.1h-2.2M509.3 362.9v2.2M384.4 244h-2.2M511.2 362.9v2.2M384.4 242.2h-2.2M512.8 362.9v2.2M384.4 240.6h-2.2M514.3 362.9v4M384.4 239.2h-4" stroke-width="0.8"/>
</g>
<g font-family="'Liberation Serif',serif" font-weight="bold" font-size="7" fill="#000" stroke="#000" stroke-width="0.35">
<text x="381.2" y="376.1">10<tspan dy="-2" font-size="6.2">0</tspan></text>
<text x="367" y="365.6">10<tspan dy="-2" font-size="6.2">0</tspan></text>
<text x="413.7" y="376.1">10<tspan dy="-2" font-size="6.2">1</tspan></text>
<text x="367" y="334.7">10<tspan dy="-2" font-size="6.2">1</tspan></text>
<text x="446.1" y="376.1">10<tspan dy="-2" font-size="6.2">2</tspan></text>
<text x="367" y="303.7">10<tspan dy="-2" font-size="6.2">2</tspan></text>
<text x="478.6" y="376.1">10<tspan dy="-2" font-size="6.2">3</tspan></text>
<text x="367" y="272.8">10<tspan dy="-2" font-size="6.2">3</tspan></text>
<text x="511.1" y="376.1">10<tspan dy="-2" font-size="6.2">4</tspan></text>
<text x="367" y="241.9">10<tspan dy="-2" font-size="6.2">4</tspan></text>
</g>
<path d="M474 284zm25.5 1.5zm-73.5 .5zm8.5 0zm39.5 0zm3 0zm24.5 1zm-15 0zm-41 .5zm31 0zm14 .5zm-4.5 0zm-6.5 0zm-2.5 0zm-13 0zm-2.5 0zm-1 0zm-38 0zm52.5 .5zm16 .5zm-7.5 0zm-.5 0zm-1 0zm-23.5 0zm-15 0zm-23.5 .5zm16.5 0zm35 0zm25 0zm-26.5 .5zm-5.5 0zm-22 0zm-50.5 0zm2 .5zm4.5 0zm48 0zm37 .5zm-19 0zm-17.5 0zm-10.5 0zm-36.5 0zm-7.5 0zm-5 .5zm1 0zm46 0zm63.5 .5zm-14 0zm-2.5 0zm-4 0zm-.5 0zm-5 0zm-26.5 0zm-16 0zm-1.5 0zm-32.5 0zm-.5 0zm-2.5 0zm-.5 .5zm1.5 0zm.5 0zm1.5 0zm1.5 0zm1 0zm2 0zm2.5 0zm20.5 0zm4 0zm1.5 0zm15 0zm18 0zm20.5 0zm1 0zm1 0zm1.5 0zm13 .5zm-33.5 0zm-8.5 0zm-7 0zm-28 0zm-13.5 0zm-4 0zm-1 0zm-7.5 0zm-3 0zm-1.5 0zm-1 0zm14.5 .5zm1.5 0zm5.5 0zm14.5 0zm.5 0zm16 0zm5 0zm14.5 0zm2 0zm8 0zm16 0zm13.5 .5zm-6.5 0zm-7.5 0zm-8 0zm-9 0zm-12.5 0zm-.5 0zm-18.5 0zm-5 0zm-7.5 0zm-16.5 0zm-5.5 0zm-1 0zm-2 0zm-1 0zm-3 0zm-.5 0zm-1.5 0zm-.5 0zm-.5 0zm-.5 0zm-2 0zm-6.5 0zm1 .5zm1 0zm1 0zm2.5 0zm2.5 0zm1.5 0zm1.5 0zm.5 0zm.5 0zm1.5 0zm1.5 0zm1.5 0zm.5 0zm4.5 0zm2.5 0zm2 0zm2.5 0zm5 0zm3.5 0zm1 0zm13.5 0zm2 0zm2.5 0zm.5 0zm4.5 0zm21 0zm7 0zm16 0zm9.5 .5zm-11.5 0zm-17.5 0zm-7 0zm-16.5 0zm-1 0zm-9.5 0zm-8 0zm-4 0zm-14 0zm-5 0zm-.5 0zm-1 0zm-.5 0zm-.5 0zm-1 0zm-1 0zm-.5 0zm-1.5 0zm-2 0zm-.5 0zm-.5 0zm-.5 0zm-4.5 0zm-2 0zm-1 0zm-1 0zm-1 0zm0 .5zm1 0zm1 0zm.5 0zm1.5 0zm.5 0zm.5 0zm2.5 0zm2 0zm.5 0zm1.5 0zm.5 0zm.5 0zm1 0zm1 0zm.5 0zm.5 0zm.5 0zm1.5 0zm.5 0zm1 0zm1.5 0zm.5 0zm2 0zm7.5 0zm.5 0zm.5 0zm.5 0zm1 0zm6.5 0zm1 0zm6 0zm21 0zm4 0zm5 0zm4 0zm10.5 0zm7.5 0zm11.5 .5zm-19.5 0zm-9.5 0zm-5 0zm-10 0zm-5.5 0zm-3.5 0zm-2 0zm-2.5 0zm-3.5 0zm-4.5 0zm-1.5 0zm-1 0zm-1.5 0zm-2 0zm-2 0zm-1 0zm-3.5 0zm-4.5 0zm-2.5 0zm-2 0zm-1 0zm-1.5 0zm-.5 0zm-1 0zm-1.5 0zm-.5 0zm-3.5 0zm-.5 0zm-.5 0zm-.5 0zm-1 0zm-.5 0zm-.5 0zm-.5 0zm-.5 0zm-.5 0zm-1.5 0zm-.5 0zm-.5 0zm-2.5 0zm-1 0zm-1 0zm-.5 0zm-1 0zm-.5 0zm.5 .5zm1 0zm2 0zm.5 0zm1 0zm1 0zm.5 0zm1 0zm.5 0zm1 0zm.5 0zm1.5 0zm.5 0zm1 0zm1 0zm1.5 0zm.5 0zm.5 0zm1 0zm1 0zm1 0zm1 0zm.5 0zm.5 0zm1 0zm2 0zm.5 0zm5 0zm.5 0zm7 0zm2 0zm9.5 0zm6.5 0zm2 0zm.5 0zm1.5 0zm5.5 0zm12 0zm6.5 0zm.5 0zm8 0zm4.5 0zm1 0zm15.5 0zm-1.5 .5zm-6 0zm-17 0zm-.5 0zm-4.5 0zm-6.5 0zm-1 0zm-1 0zm-4 0zm-7.5 0zm-.5 0zm-4 0zm-1 0zm-1 0zm-1.5 0zm-3.5 0zm-3 0zm-13 0zm-6 0zm-4 0zm-1.5 0zm-.5 0zm-1 0zm-1.5 0zm-1.5 0zm-1 0zm-.5 0zm-.5 0zm-1 0zm-1.5 0zm-.5 0zm-.5 0zm-.5 0zm-.5 0zm-.5 0zm-1 0zm-.5 0zm-.5 0zm-1 0zm-1 0zm-.5 0zm-.5 0zm-.5 0zm-.5 0zm-.5 0zm-1 0zm-.5 0zm-1 0zm-.5 0zm-.5 0zm-1 0zm.5 .5zm1 0zm.5 0zm.5 0zm1 0zm.5 0zm1 0zm.5 0zm.5 0zm.5 0zm.5 0zm.5 0zm.5 0zm.5 0zm.5 0zm.5 0zm.5 0zm.5 0zm.5 0zm.5 0zm1.5 0zm.5 0zm1 0zm1 0zm.5 0zm1 0zm.5 0zm2 0zm1 0zm.5 0zm.5 0zm1.5 0zm1 0zm5 0zm5 0zm4 0zm4 0zm3 0zm1.5 0zm4.5 0zm24 0zm3 0zm23.5 0zm2 0zm.5 0zm11 0zm-11.5 .5zm-10 0zm-3 0zm-8 0zm-1.5 0zm-1 0zm-10 0zm-.5 0zm-10.5 0zm-7 0zm-3.5 0zm-4 0zm-1.5 0zm-.5 0zm-6.5 0zm-1.5 0zm-5.5 0zm-4.5 0zm-1.5 0zm-1 0zm-2.5 0zm-1 0zm-1 0zm-.5 0zm-1 0zm-.5 0zm-.5 0zm-.5 0zm-.5 0zm-.5 0zm-.5 0zm-1 0zm-1 0zm-1 0zm-.5 0zm-.5 0zm-.5 0zm-.5 0zm-.5 0zm-1 0zm-.5 0zm-.5 0zm-.5 0zm-.5 0zm-.5 0zm-1.5 0zm-.5 0zm-1 0zm-.5 0zm-.5 0zm-.5 0zm-1.5 0zm1 .5zm.5 0zm.5 0zm.5 0zm.5 0zm1 0zm2 0zm.5 0zm.5 0zm1 0zm.5 0zm.5 0zm1 0zm.5 0zm1 0zm1 0zm1.5 0zm.5 0zm1 0zm.5 0zm.5 0zm.5 0zm.5 0zm.5 0zm1 0zm1 0zm.5 0zm1 0zm3.5 0zm.5 0zm.5 0zm3 0zm8 0zm1.5 0zm5 0zm1 0zm11 0zm2.5 0zm14 0zm3 0zm3 0zm4 0zm9.5 0zm12.5 0zm6.5 0zm-1.5 .5zm-12 0zm-9 0zm-3 0zm-.5 0zm-.5 0zm-1 0zm-1.5 0zm-3.5 0zm-9 0zm-2.5 0zm-14 0zm-.5 0zm-24.5 0zm-.5 0zm-.5 0zm-3.5 0zm-1.5 0zm-1 0zm-.5 0zm-.5 0zm-.5 0zm-.5 0zm-.5 0zm-.5 0zm-.5 0zm-1 0zm-.5 0zm-.5 0zm-.5 0zm-.5 0zm-.5 0zm-.5 0zm-.5 0zm-.5 0zm-.5 0zm-.5 0zm-.5 0zm-.5 0zm-.5 0zm-.5 0zm-1.5 0zm-1 0zm-.5 0zm-.5 0zm-.5 0zm-.5 0zm-.5 0zm-.5 0zm-.5 0zm-.5 0zm-1 0zm-1 0zm-.5 .5zm1 0zm.5 0zm1 0zm.5 0zm.5 0zm.5 0zm.5 0zm.5 0zm.5 0zm.5 0zm.5 0zm.5 0zm.5 0zm.5 0zm.5 0zm.5 0zm.5 0zm2 0zm.5 0zm.5 0zm.5 0zm1 0zm1.5 0zm.5 0zm1 0zm.5 0zm.5 0zm.5 0zm.5 0zm.5 0zm.5 0zm2 0zm2 0zm.5 0zm9 0zm4 0zm7 0zm2.5 0zm3 0zm2.5 0zm5 0zm18 0zm.5 0zm1 0zm.5 0zm.5 0zm4.5 0zm1 0zm.5 0zm3 0zm5.5 0zm2.5 0zm8.5 0zm2 0zm.5 0zm.5 0zm1 0zm4.5 0zm3 .5zm-7.5 0zm-3 0zm-1 0zm-.5 0zm-15.5 0zm-2.5 0zm-.5 0zm-1.5 0zm-1.5 0zm-1 0zm-2.5 0zm-2 0zm-2.5 0zm-4 0zm-1 0zm-1 0zm-3 0zm-2 0zm-6 0zm-3.5 0zm-2 0zm-7 0zm-2.5 0zm-1.5 0zm-1.5 0zm-4 0zm-6.5 0zm-2 0zm-1.5 0zm-1 0zm-1.5 0zm-1 0zm-1 0zm-.5 0zm-.5 0zm-1 0zm-.5 0zm-.5 0zm-.5 0zm-.5 0zm-.5 0zm-.5 0zm-.5 0zm-.5 0zm-.5 0zm-.5 0zm-.5 0zm-.5 0zm-1 0zm-1 0zm-.5 0zm-.5 0zm-.5 0zm-.5 0zm-.5 0zm-1 0zm-1.5 0zm-.5 0zm-.5 0zm-.5 0zm-.5 0zm-.5 0zm-1 0zm-.5 0zm-.5 0zm-.5 0zm1 .5zm1 0zm1 0zm.5 0zm1 0zm.5 0zm.5 0zm.5 0zm.5 0zm.5 0zm.5 0zm.5 0zm1 0zm.5 0zm1 0zm.5 0zm.5 0zm.5 0zm.5 0zm.5 0zm.5 0zm.5 0zm.5 0zm.5 0zm.5 0zm.5 0zm.5 0zm.5 0zm.5 0zm.5 0zm3 0zm2.5 0zm.5 0zm1 0zm.5 0zm.5 0zm1.5 0zm3.5 0zm.5 0zm.5 0zm4.5 0zm16 0zm1.5 0zm.5 0zm.5 0zm2 0zm4.5 0zm13.5 0zm2 0zm.5 0zm2.5 0zm.5 0zm1.5 0zm1 0zm1 0zm5.5 0zm2.5 0zm1.5 0zm2.5 0zm4.5 0zm3 0zm1.5 0zm.5 0zm.5 0zm.5 0zm.5 0zm5 0zm-2 .5zm-2.5 0zm-2.5 0zm-1.5 0zm-.5 0zm-.5 0zm-2 0zm-.5 0zm-2.5 0zm-.5 0zm-9 0zm-2.5 0zm-.5 0zm-.5 0zm-3 0zm-.5 0zm-1 0zm-.5 0zm-.5 0zm-.5 0zm-.5 0zm-.5 0zm-1 0zm-8.5 0zm-5 0zm-7.5 0zm-2.5 0zm-5 0zm-4.5 0zm-1.5 0zm-3.5 0zm-11 0zm-1 0zm-1 0zm-1 0zm-1 0zm-.5 0zm-.5 0zm-.5 0zm-.5 0zm-.5 0zm-1 0zm-.5 0zm-.5 0zm-.5 0zm-.5 0zm-.5 0zm-.5 0zm-.5 0zm-.5 0zm-.5 0zm-1 0zm-.5 0zm-.5 0zm-.5 0zm-.5 0zm-.5 0zm-.5 0zm-.5 0zm-.5 0zm-.5 0zm-.5 0zm-.5 0zm-.5 0zm-.5 0zm-.5 0zm-.5 0zm-.5 0zm-1.5 0zm-.5 0zm-.5 0zm-.5 0zm-.5 0zm-.5 0zm-.5 0zm-.5 0zm-.5 0zm-.5 0zm.5 .5zm.5 0zm.5 0zm2 0zm.5 0zm.5 0zm.5 0zm.5 0zm.5 0zm.5 0zm.5 0zm.5 0zm.5 0zm.5 0zm.5 0zm1 0zm.5 0zm.5 0zm.5 0zm.5 0zm.5 0zm.5 0zm.5 0zm.5 0zm.5 0zm.5 0zm.5 0zm.5 0zm.5 0zm.5 0zm1 0zm.5 0zm.5 0zm.5 0zm.5 0zm.5 0zm2 0zm2 0zm3.5 0zm15.5 0zm5 0zm3 0zm2.5 0zm1 0zm1 0zm.5 0zm7 0zm1.5 0zm1 0zm3 0zm1 0zm4.5 0zm.5 0zm.5 0zm.5 0zm1.5 0zm1 0zm1.5 0zm1 0zm.5 0zm.5 0zm.5 0zm4 0zm2 0zm.5 0zm1 0zm10.5 0zm2 0zm.5 0zm2 0zm1 0zm.5 0zm.5 0zm3 0zm4.5 .5zm-4 0zm-.5 0zm-1 0zm-5 0zm-1 0zm-.5 0zm-1.5 0zm-2 0zm-.5 0zm-.5 0zm-2 0zm-7.5 0zm-1.5 0zm-.5 0zm-1 0zm-1 0zm-4 0zm-1 0zm-1 0zm-1.5 0zm-2 0zm-2 0zm-3 0zm-3.5 0zm-5.5 0zm-4 0zm-.5 0zm-2 0zm-1.5 0zm-2.5 0zm-13.5 0zm-5.5 0zm-.5 0zm-1 0zm-3 0zm-.5 0zm-.5 0zm-1.5 0zm-2.5 0zm-1.5 0zm-.5 0zm-.5 0zm-1.5 0zm-.5 0zm-.5 0zm-.5 0zm-1 0zm-.5 0zm-1 0zm-.5 0zm-1 0zm-1 0zm-1 0zm-.5 0zm-.5 0zm-.5 0zm-.5 0zm-.5 0zm-.5 0zm-.5 0zm-1 0zm-1 0zm-.5 0zm-.5 0zm-.5 0zm-.5 0zm-.5 0zm-.5 0zm-1 0zm-.5 0zm-.5 0zm-.5 0zm.5 .5zm1.5 0zm.5 0zm1 0zm.5 0zm.5 0zm.5 0zm.5 0zm1 0zm.5 0zm.5 0zm.5 0zm.5 0zm.5 0zm1 0zm.5 0zm.5 0zm.5 0zm.5 0zm.5 0zm.5 0zm.5 0zm1.5 0zm.5 0zm.5 0zm1.5 0zm.5 0zm.5 0zm1 0zm.5 0zm1 0zm1 0zm1.5 0zm.5 0zm.5 0zm21 0zm7 0zm2.5 0zm5.5 0zm2.5 0zm3.5 0zm5.5 0zm1.5 0zm1 0zm1 0zm2.5 0zm.5 0zm.5 0zm.5 0zm1.5 0zm.5 0zm.5 0zm1.5 0zm1 0zm3.5 0zm3.5 0zm.5 0zm1 0zm5.5 0zm2 0zm1 0zm.5 0zm1.5 0zm.5 0zm1.5 0zm.5 0zm2 0zm.5 0zm1 0zm1.5 0zm.5 0zm1.5 .5zm-2.5 0zm-4 0zm-.5 0zm-.5 0zm-.5 0zm-2 0zm-.5 0zm-.5 0zm-.5 0zm-1 0zm-.5 0zm-1 0zm-1.5 0zm-.5 0zm-6 0zm-1 0zm-1 0zm-2.5 0zm-1 0zm-.5 0zm-1 0zm-.5 0zm-1.5 0zm-.5 0zm-1.5 0zm-2.5 0zm-.5 0zm-1 0zm-1.5 0zm-1 0zm-1.5 0zm-2 0zm-.5 0zm-3 0zm-.5 0zm-2.5 0zm-8 0zm-9.5 0zm-1.5 0zm-3.5 0zm-10 0zm-4.5 0zm-.5 0zm-.5 0zm-2 0zm-.5 0zm-.5 0zm-2.5 0zm-.5 0zm-1 0zm-1 0zm-.5 0zm-.5 0zm-1 0zm-.5 0zm-.5 0zm-.5 0zm-.5 0zm-.5 0zm-.5 0zm-.5 0zm-.5 0zm-.5 0zm-1 0zm-.5 0zm-.5 0zm-.5 0zm-.5 0zm-.5 0zm-.5 0zm-.5 0zm-.5 0zm-.5 0zm-1 0zm-.5 0zm-1 0zm-.5 0zm-.5 0zm-.5 0zm-.5 0zm-.5 0zm-.5 0zm0 .5zm.5 0zm.5 0zm1.5 0zm.5 0zm.5 0zm1.5 0zm.5 0zm.5 0zm.5 0zm.5 0zm.5 0zm.5 0zm.5 0zm.5 0zm.5 0zm.5 0zm.5 0zm.5 0zm.5 0zm.5 0zm.5 0zm.5 0zm.5 0zm.5 0zm.5 0zm.5 0zm.5 0zm.5 0zm.5 0zm.5 0zm.5 0zm.5 0zm1.5 0zm1 0zm.5 0zm.5 0zm.5 0zm1 0zm.5 0zm1.5 0zm1 0zm.5 0zm6 0zm.5 0zm5.5 0zm1.5 0zm.5 0zm5.5 0zm4.5 0zm.5 0zm11 0zm11 0zm1.5 0zm1.5 0zm.5 0zm.5 0zm.5 0zm1.5 0zm.5 0zm.5 0zm1.5 0zm3 0zm4.5 0zm.5 0zm8 0zm4.5 0zm.5 0zm1 0zm.5 0zm2 0zm.5 0zm4 0zm2 0zm1 .5zm-4 0zm-2 0zm-1.5 0zm-2 0zm-1 0zm-1 0zm-.5 0zm-1.5 0zm-.5 0zm-1 0zm-.5 0zm-2.5 0zm-11 0zm-1 0zm-.5 0zm-1 0zm-1 0zm-.5 0zm-1.5 0zm-2.5 0zm-1 0zm-.5 0zm-1 0zm-1 0zm-.5 0zm-7 0zm-1 0zm-8 0zm-6.5 0zm-.5 0zm-.5 0zm-22 0zm-5.5 0zm-2 0zm-1 0zm-.5 0zm-.5 0zm-.5 0zm-.5 0zm-.5 0zm-.5 0zm-1 0zm-1 0zm-.5 0zm-.5 0zm-.5 0zm-.5 0zm-1.5 0zm-.5 0zm-1 0zm-.5 0zm-.5 0zm-.5 0zm-1 0zm-1 0zm-.5 0zm-.5 0zm-1.5 0zm-.5 0zm-.5 0zm-1 0zm-.5 .5zm.5 0zm1 0zm1 0zm.5 0zm.5 0zm2 0zm1 0zm.5 0zm1.5 0zm.5 0zm.5 0zm.5 0zm.5 0zm.5 0zm1 0zm2 0zm.5 0zm.5 0zm.5 0zm.5 0zm.5 0zm.5 0zm.5 0zm1 0zm3.5 0zm1 0zm2 0zm3 0zm2 0zm1 0zm2 0zm.5 0zm7.5 0zm3.5 0zm.5 0zm2.5 0zm5 0zm2 0zm2 0zm3 0zm1 0zm6.5 0zm1 0zm.5 0zm3.5 0zm1 0zm.5 0zm2 0zm2.5 0zm1 0zm1 0zm.5 0zm1.5 0zm.5 0zm1.5 0zm.5 0zm1.5 0zm7.5 0zm3 0zm.5 0zm2 0zm1.5 0zm.5 0zm1.5 0zm1 0zm.5 0zm.5 0zm.5 0zm.5 0zm1 0zm1 0zm1 0zm2 0zm-3 .5zm-1 0zm-1.5 0zm-.5 0zm-1 0zm-.5 0zm-1 0zm-1 0zm-.5 0zm-1 0zm-.5 0zm-2 0zm-.5 0zm-1.5 0zm-1.5 0zm-.5 0zm-.5 0zm-.5 0zm-3.5 0zm-.5 0zm-.5 0zm-1.5 0zm-1 0zm-.5 0zm-.5 0zm-2.5 0zm-1.5 0zm-.5 0zm-.5 0zm-.5 0zm-.5 0zm-3.5 0zm-.5 0zm-1 0zm-2 0zm-4.5 0zm-3.5 0zm-1 0zm-6.5 0zm-3 0zm-2.5 0zm-4.5 0zm-2.5 0zm-1.5 0zm-10.5 0zm-5 0zm-2.5 0zm-1 0zm-1 0zm-.5 0zm-.5 0zm-1.5 0zm-.5 0zm-.5 0zm-.5 0zm-.5 0zm-1 0zm-1 0zm-1 0zm-1.5 0zm-1 0zm-.5 0zm-.5 0zm-.5 0zm-.5 0zm-.5 0zm-.5 0zm-.5 0zm-1.5 0zm-.5 0zm-1 0zm-.5 0zm-.5 0zm-.5 0zm-1 0zm-.5 0zm-.5 0zm-1.5 0zm0 .5zm.5 0zm.5 0zm.5 0zm1.5 0zm.5 0zm.5 0zm.5 0zm1 0zm.5 0zm.5 0zm1 0zm.5 0zm1 0zm.5 0zm.5 0zm2 0zm.5 0zm.5 0zm.5 0zm.5 0zm.5 0zm.5 0zm1 0zm.5 0zm1 0zm.5 0zm1 0zm1 0zm1 0zm1.5 0zm3 0zm1.5 0zm3 0zm1 0zm1.5 0zm1 0zm5.5 0zm4.5 0zm5 0zm5 0zm3 0zm5 0zm7.5 0zm6 0zm1 0zm2 0zm4.5 0zm1 0zm1.5 0zm1.5 0zm6 0zm3 0zm1 0zm1 0zm.5 0zm.5 0zm1 0zm1.5 0zm1 0zm.5 0zm.5 0zm.5 0zm1 0zm3 0zm4 0zm-2.5 .5zm-1 0zm-.5 0zm-1 0zm-1.5 0zm-1 0zm-.5 0zm-1.5 0zm-.5 0zm-3 0zm-.5 0zm-5.5 0zm-4 0zm-3.5 0zm-2 0zm-2 0zm-1 0zm-1 0zm-1 0zm-2 0zm-.5 0zm-2 0zm-.5 0zm-4.5 0zm-1.5 0zm-19 0zm-.5 0zm-1 0zm-2 0zm-2 0zm-16 0zm-1.5 0zm-2.5 0zm-.5 0zm-.5 0zm-4 0zm-1 0zm-.5 0zm-2 0zm-.5 0zm-.5 0zm-.5 0zm-1.5 0zm-.5 0zm-1 0zm-.5 0zm-1.5 0zm-1.5 0zm-1 0zm-.5 0zm-1 0zm-1.5 0zm-.5 0zm-1.5 .5zm2 0zm2 0zm1.5 0zm1.5 0zm1.5 0zm1 0zm1 0zm.5 0zm.5 0zm.5 0zm2 0zm.5 0zm3 0zm.5 0zm2 0zm2.5 0zm1 0zm8.5 0zm12.5 0zm2.5 0zm21.5 0zm8 0zm.5 0zm.5 0zm2 0zm2 0zm4 0zm.5 0zm.5 0zm4.5 0zm2 0zm1 0zm2.5 0zm1 0zm1 0zm.5 0zm.5 0zm.5 0zm1 0zm.5 0zm.5 0zm.5 0zm.5 0zm1 0zm1.5 0zm1.5 0zm2.5 0zm-2 .5zm-2 0zm-1 0zm-2.5 0zm-.5 0zm-.5 0zm-1 0zm-.5 0zm-2.5 0zm-1.5 0zm-1 0zm-4.5 0zm-.5 0zm-1 0zm-1 0zm-1 0zm-3.5 0zm-2.5 0zm-.5 0zm-1 0zm-.5 0zm-1.5 0zm-1.5 0zm-6.5 0zm-22 0zm-2.5 0zm-20 0zm-4 0zm-3.5 0zm-2 0zm-1 0zm-.5 0zm-2 0zm-.5 0zm-2.5 0zm-.5 0zm-1 0zm-4 0zm-1 0zm-.5 0zm-1 0zm1 .5zm1 0zm1 0zm1 0zm.5 0zm2 0zm.5 0zm.5 0zm.5 0zm1.5 0zm1 0zm.5 0zm1.5 0zm1 0zm1 0zm1 0zm.5 0zm2 0zm.5 0zm2 0zm1 0zm.5 0zm2 0zm.5 0zm4.5 0zm3 0zm15.5 0zm4.5 0zm14 0zm2.5 0zm5.5 0zm.5 0zm2 0zm2 0zm.5 0zm1.5 0zm1.5 0zm.5 0zm2 0zm2 0zm6 0zm1 0zm.5 0zm2 0zm1.5 0zm.5 0zm.5 0zm.5 0zm1.5 0zm2 0zm1 0zm.5 0zm2 0zm1 0zm-1 .5zm-3.5 0zm-2 0zm-.5 0zm-.5 0zm-1 0zm-1.5 0zm-.5 0zm-.5 0zm-.5 0zm-.5 0zm-1.5 0zm-.5 0zm-.5 0zm-.5 0zm-8 0zm-1 0zm-.5 0zm-2.5 0zm-1 0zm-1.5 0zm-1 0zm-.5 0zm-3.5 0zm-17 0zm-1.5 0zm-2 0zm-5.5 0zm-25 0zm-4 0zm-2 0zm-2 0zm-2 0zm-2 0zm-2.5 0zm-2.5 0zm-2 0zm-1.5 0zm4 .5zm1.5 0zm.5 0zm2 0zm1.5 0zm5 0zm1 0zm.5 0zm21 0zm3.5 0zm16 0zm7.5 0zm9.5 0zm.5 0zm.5 0zm.5 0zm3 0zm.5 0zm4 0zm.5 0zm9.5 0zm.5 0zm.5 0zm2.5 0zm2 0zm.5 0zm1 0zm2.5 0zm.5 0zm.5 0zm0 .5zm-1 0zm-3 0zm-.5 0zm-.5 0zm-3 0zm-2.5 0zm-2 0zm-10 0zm-1 0zm-4 0zm-.5 0zm-.5 0zm-2 0zm-25.5 0zm-20.5 0zm-14.5 0zm-1 0zm-4 0zm-5.5 0zm-3 0zm2.5 .5zm3 0zm1.5 0zm8.5 0zm32 0zm4.5 0zm2.5 0zm21 0zm.5 0zm3.5 0zm1 0zm.5 0zm8 0zm2.5 0zm2 0zm2 0zm3 0zm.5 0zm.5 0zm.5 0zm7 0zm-8 .5zm-1 0zm-1.5 0zm-.5 0zm-4.5 0zm-4 0zm-8.5 0zm-4 0zm-13.5 0zm-46 0zm-8.5 0zm-6 0zm7 .5zm2.5 0zm4.5 0zm1 0zm3 0zm8.5 0zm13.5 0zm15.5 0zm17 0zm.5 0zm16 0zm4 0zm.5 0zm2.5 0zm.5 0zm2.5 0zm-1 .5zm-1.5 0zm-1.5 0zm-11.5 0zm-1 0zm-1.5 0zm-10.5 0zm-23 0zm-25.5 0zm-10 0zm33.5 .5zm18 0zm2 0zm22 0zm5 0zm7.5 0zm5.5 .5zm-7 0zm-8.5 0zm-44.5 0zm-25 0zm-6 0zm-3.5 0zm21 .5zm55.5 0zm6.5 0zm-1 .5zm-13.5 0zm-37.5 0zm-13.5 0zm10 .5zm35.5 0zm18.5 0zm3 .5zm-78.5 0zm73.5 .5zm-10 .5zm0 .5zm-1.5 .5zm15.5 1zm-42 1zm-38 0zm-6 .5zm79 0zm5.5 .5zm-4.5 1zm-69 .5zm5.5 .5zm60.5 0zm-75.5 .5zm1.5 .5zm9.5 0zm12.5 0zm10 0zm-7.5 .5zm55 .5zm3 0zm-11 .5zm-80 .5zm80.5 0zm7 0zm-35.5 .5zm-1 0zm-3.5 0zm-5.5 0zm10.5 .5zm35 0zm2.5 0zm-.5 .5zm-64 0zm-20 .5zm8.5 0zm25.5 0zm4.5 0zm36.5 0zm5 0zm1.5 0zm5 0zm0 .5zm-8.5 0zm-9.5 0zm-4.5 0zm-9.5 0zm-23 0zm-.5 0zm-15 0zm-.5 0zm-10.5 0zm-4 0zm-9 .5zm1.5 0zm11 0zm44.5 0zm14.5 0zm19.5 0zm1 0zm1.5 0zm13 .5zm-23.5 0zm-33 0zm-1 0zm-7 0zm-11.5 0zm-2.5 0zm-10.5 0zm-1.5 0zm-4 0zm-12.5 0zm10.5 .5zm2.5 0zm19.5 0zm1 0zm4.5 0zm7.5 0zm3 0zm6.5 0zm43.5 0zm1.5 0zm4.5 .5zm-11 0zm-14.5 0zm-6.5 0zm-7.5 0zm-10 0zm-1 0zm-4 0zm-24 0zm-.5 0zm-3.5 0zm-6 0zm-4 0zm-2 0zm-6.5 0zm12 .5zm4.5 0zm2 0zm5.5 0zm2 0zm.5 0zm3 0zm7.5 0zm9 0zm15.5 0zm13.5 0zm18.5 0zm-8.5 .5zm-35 0zm-1 0zm-5 0zm-2 0zm-.5 0zm-4 0zm-14.5 0zm-2 0zm-8.5 0zm-2 0zm-3.5 0zm-1 0zm-2 0zm-7.5 .5zm3 0zm4.5 0zm3.5 0zm2.5 0zm.5 0zm3.5 0zm.5 0zm2.5 0zm.5 0zm7.5 0zm9 0zm4 0zm9.5 0zm7.5 0zm2.5 0zm26.5 0zm-18 .5zm-5 0zm-13.5 0zm-3 0zm-5 0zm-2.5 0zm-1 0zm-2.5 0zm-.5 0zm-14 0zm-1 0zm-4 0zm-1.5 0zm-1.5 0zm-.5 0zm-.5 0zm-1 0zm-2 0zm-3 0zm-4 0zm-3 0zm-.5 0zm4 .5zm5 0zm1.5 0zm1.5 0zm.5 0zm1 0zm.5 0zm.5 0zm2 0zm.5 0zm3.5 0zm.5 0zm5 0zm3.5 0zm9 0zm9.5 0zm1 0zm1.5 0zm7.5 0zm27.5 0zm-5 .5zm-2 0zm-30.5 0zm-2 0zm-12.5 0zm-2.5 0zm-2.5 0zm-.5 0zm-.5 0zm-.5 0zm-1.5 0zm-5.5 0zm-.5 0zm-3 0zm-.5 0zm-.5 0zm-3 0zm-1 0zm-.5 0zm-1.5 0zm-4.5 0zm-1 0zm-.5 0zm-3 0zm1.5 .5zm3.5 0zm3 0zm.5 0zm3 0zm5.5 0zm.5 0zm.5 0zm1.5 0zm1 0zm.5 0zm1 0zm4 0zm1 0zm2.5 0zm3.5 0zm1.5 0zm.5 0zm2.5 0zm3.5 0zm2 0zm1 0zm2.5 0zm1 0zm1.5 0zm3.5 0zm2.5 0zm3.5 0zm20.5 .5zm-1.5 0zm-20.5 0zm-1.5 0zm-6 0zm-7 0zm-2.5 0zm-10 0zm-1.5 0zm-4.5 0zm-6.5 0zm-.5 0zm-1.5 0zm-1 0zm-1.5 0zm-2 0zm-2 0zm-2 0zm-1 0zm-2.5 0zm-1 0zm-.5 0zm-2 0zm-1 .5zm7 0zm1.5 0zm.5 0zm1 0zm.5 0zm1 0zm2.5 0zm5.5 0zm2 0zm.5 0zm1 0zm1 0zm.5 0zm5.5 0zm3 0zm2 0zm2.5 0zm.5 0zm1 0zm1 0zm1 0zm3 0zm7 0zm2.5 0zm6 0zm8.5 0zm20 0zm13 0zm-12 .5zm-1 0zm-5 0zm-2.5 0zm-14.5 0zm-3 0zm-10 0zm-.5 0zm-.5 0zm-4.5 0zm-6.5 0zm-.5 0zm-3 0zm-.5 0zm-.5 0zm-2.5 0zm-7 0zm-3.5 0zm-.5 0zm-4 0zm-1 0zm-7.5 0zm-1 0zm-.5 0zm-1 0zm-.5 0zm-2 0zm-.5 0zm-1.5 0zm-2 0zm-1.5 0zm0 .5zm2 0zm1 0zm2 0zm.5 0zm1 0zm1.5 0zm.5 0zm1.5 0zm2 0zm.5 0zm.5 0zm1.5 0zm1 0zm.5 0zm1 0zm1 0zm1 0zm1 0zm1.5 0zm2 0zm5.5 0zm12 0zm1 0zm8 0zm1 0zm3 0zm3.5 0zm3 0zm12.5 0zm20 .5zm-5.5 0zm-.5 0zm-5 0zm-20 0zm-7 0zm-1.5 0zm-3 0zm-.5 0zm-3.5 0zm-1 0zm-3 0zm-1 0zm-1.5 0zm-3 0zm-1.5 0zm-3 0zm-.5 0zm-3.5 0zm-2 0zm-1 0zm-.5 0zm-1.5 0zm-3.5 0zm-1.5 0zm-1.5 0zm-.5 0zm-2.5 0zm-1.5 0zm-.5 0zm-1 0zm-.5 0zm-1 0zm-1 0zm-8 0zm0 .5zm.5 0zm3.5 0zm2.5 0zm1 0zm1 0zm.5 0zm1.5 0zm1.5 0zm3 0zm.5 0zm.5 0zm2 0zm.5 0zm2.5 0zm1.5 0zm1.5 0zm5 0zm3.5 0zm2 0zm2 0zm1 0zm1.5 0zm1 0zm2.5 0zm1 0zm7 0zm10.5 0zm20.5 0zm3 .5zm-6.5 0zm-.5 0zm-3 0zm-.5 0zm-11 0zm-6 0zm-.5 0zm-1.5 0zm-3.5 0zm-.5 0zm-1 0zm-.5 0zm-1 0zm-1.5 0zm-1 0zm-.5 0zm-1 0zm-.5 0zm-3 0zm-1.5 0zm-4.5 0zm-2.5 0zm-2.5 0zm-6.5 0zm-3.5 0zm-1.5 0zm-1.5 0zm-.5 0zm-.5 0zm-.5 0zm-.5 0zm-2.5 0zm-4 0zm-2.5 0zm-.5 0zm-.5 0zm-1 0zm-1 0zm-2.5 0zm.5 .5zm1 0zm4 0zm1 0zm1 0zm.5 0zm.5 0zm.5 0zm.5 0zm.5 0zm1 0zm1 0zm.5 0zm4 0zm1 0zm1 0zm1 0zm6.5 0zm2.5 0zm.5 0zm1 0zm.5 0zm1 0zm1 0zm1.5 0zm5 0zm3 0zm.5 0zm.5 0zm4 0zm7 0zm2 0zm.5 0zm18.5 .5zm-16.5 0zm-3.5 0zm-4 0zm-1 0zm-2 0zm-.5 0zm-1.5 0zm-3.5 0zm-2 0zm-.5 0zm-1 0zm-1.5 0zm-2 0zm-4 0zm-2 0zm-.5 0zm-1 0zm-1 0zm-.5 0zm-.5 0zm-1 0zm-2 0zm-1 0zm-2.5 0zm-.5 0zm-.5 0zm-2 0zm-1 0zm-1 0zm-3 0zm-1.5 0zm-1 0zm-.5 0zm-.5 0zm-1 0zm-1.5 0zm-.5 0zm-1 0zm-1.5 0zm-.5 0zm-.5 0zm-.5 0zm-.5 0zm-1.5 0zm1 .5zm.5 0zm.5 0zm5.5 0zm1 0zm1 0zm.5 0zm.5 0zm3 0zm.5 0zm1.5 0zm2.5 0zm.5 0zm.5 0zm3.5 0zm1 0zm.5 0zm1.5 0zm4.5 0zm2 0zm3.5 0zm2.5 0zm1 0zm2.5 0zm.5 0zm1 0zm.5 0zm.5 0zm3 0zm.5 0zm6 0zm2.5 0zm.5 0zm5 .5zm-7.5 0zm-3.5 0zm-.5 0zm-4.5 0zm-1 0zm-1 0zm-1 0zm-.5 0zm-2 0zm-.5 0zm-.5 0zm-1.5 0zm-1 0zm-2 0zm-4.5 0zm-1 0zm-3.5 0zm-1.5 0zm-1.5 0zm-.5 0zm-1.5 0zm-1 0zm-.5 0zm-1 0zm-1 0zm-1 0zm-1 0zm-.5 0zm-.5 0zm-1.5 0zm-1.5 0zm-2 0zm-.5 0zm-.5 0zm-1 0zm-1 0zm-2 0zm-.5 0zm-.5 0zm-2 0zm-1 0zm-.5 .5zm1 0zm4 0zm1 0zm.5 0zm.5 0zm1 0zm1.5 0zm1.5 0zm.5 0zm2.5 0zm.5 0zm.5 0zm.5 0zm2.5 0zm3 0zm1 0zm.5 0zm2.5 0zm2.5 0zm2 0zm1 0zm2 0zm5 0zm2 0zm4.5 0zm2 0zm13.5 0zm5.5 0zm11 0zm13 .5zm-14 0zm-16.5 0zm-1 0zm-11 0zm-3 0zm-3 0zm-1.5 0zm-.5 0zm-1.5 0zm-.5 0zm-3.5 0zm-1 0zm-.5 0zm-4 0zm-1.5 0zm-1 0zm-.5 0zm-1 0zm-.5 0zm-2.5 0zm-.5 0zm-.5 0zm-3.5 0zm-.5 0zm-2 0zm-2 0zm-5 0zm-1 0zm-3.5 0zm-.5 .5zm5.5 0zm.5 0zm1 0zm1 0zm1 0zm1.5 0zm1 0zm.5 0zm1.5 0zm.5 0zm.5 0zm.5 0zm1.5 0zm1.5 0zm.5 0zm2 0zm1 0zm.5 0zm.5 0zm3.5 0zm5 0zm2 0zm1.5 0zm3 0zm5 0zm2.5 0zm1.5 0zm2.5 0zm1 0zm1.5 0zm1.5 0zm2 0zm-5 .5zm-6 0zm-.5 0zm-1.5 0zm-.5 0zm-2.5 0zm-3 0zm-1.5 0zm-.5 0zm-1 0zm-.5 0zm-9.5 0zm-1 0zm-.5 0zm-3.5 0zm-1.5 0zm-2.5 0zm-1 0zm-1 0zm-1 0zm-.5 0zm-1.5 0zm-1.5 0zm-.5 0zm-.5 0zm-2 0zm-.5 0zm-.5 0zm-.5 0zm-1 0zm-1.5 0zm-2 .5zm2 0zm1.5 0zm1 0zm1.5 0zm1.5 0zm1 0zm.5 0zm.5 0zm1 0zm2.5 0zm3.5 0zm1 0zm1 0zm.5 0zm1.5 0zm1 0zm1.5 0zm.5 0zm.5 0zm2.5 0zm.5 0zm7 0zm1.5 0zm2 0zm6 0zm.5 0zm1.5 0zm5 0zm1 0zm1.5 0zm9 0zm2 0zm2.5 .5zm-9.5 0zm-5 0zm-.5 0zm-4.5 0zm-3.5 0zm-1.5 0zm-4 0zm-2 0zm-5 0zm-2.5 0zm-7.5 0zm-3 0zm-.5 0zm-.5 0zm-.5 0zm-.5 0zm-1.5 0zm-1 0zm-2.5 0zm-3 0zm-.5 0zm-1.5 0zm-2.5 0zm-3 .5zm1 0zm3 0zm1 0zm1 0zm2.5 0zm1 0zm1 0zm.5 0zm.5 0zm.5 0zm1 0zm.5 0zm.5 0zm.5 0zm1.5 0zm1.5 0zm.5 0zm.5 0zm.5 0zm1 0zm2 0zm6.5 0zm2.5 0zm2.5 0zm2.5 0zm7.5 0zm2.5 0zm4.5 0zm2 0zm3.5 0zm4.5 0zm-3.5 .5zm-13 0zm-2 0zm-10 0zm-6.5 0zm-.5 0zm-.5 0zm-1.5 0zm-2.5 0zm-.5 0zm-1 0zm-.5 0zm-1.5 0zm-4.5 0zm-.5 0zm-.5 0zm-1 0zm-1.5 0zm-3 0zm-3.5 0zm-1 0zm-.5 0zm-1 .5zm1.5 0zm1 0zm.5 0zm1.5 0zm2 0zm1 0zm1 0zm.5 0zm2.5 0zm.5 0zm2 0zm1 0zm.5 0zm1 0zm2 0zm2 0zm3.5 0zm4 0zm3.5 0zm4 0zm2 0zm.5 0zm1 0zm3 0zm4 0zm6.5 0zm2.5 0zm1.5 0zm13 0zm18.5 0zm-20 .5zm-2 0zm-7 0zm-1.5 0zm-.5 0zm-1 0zm-.5 0zm-1.5 0zm-3 0zm-11 0zm-2 0zm-4 0zm-1 0zm-1 0zm-.5 0zm-2 0zm-1 0zm-2.5 0zm-1.5 0zm-1.5 0zm-.5 0zm-1.5 0zm-.5 0zm-.5 0zm-.5 0zm-.5 0zm-1 0zm-.5 0zm-2 0zm-.5 0zm-.5 0zm-.5 0zm-.5 0zm-2 0zm-2 0zm-3 0zm-.5 0zm-3 0zm-3 0zm3 .5zm2.5 0zm1 0zm2 0zm.5 0zm1 0zm1.5 0zm1.5 0zm.5 0zm1.5 0zm1.5 0zm.5 0zm.5 0zm.5 0zm.5 0zm.5 0zm1 0zm.5 0zm1 0zm2 0zm2.5 0zm.5 0zm9.5 0zm3 0zm.5 0zm1 0zm5.5 0zm2 0zm7 0zm9.5 0zm-12.5 .5zm-2.5 0zm-2.5 0zm-1 0zm-.5 0zm-5.5 0zm-1 0zm-.5 0zm-1 0zm-1.5 0zm-5 0zm-5 0zm-.5 0zm-2 0zm-1.5 0zm-1 0zm-.5 0zm-.5 0zm-1 0zm-.5 0zm-.5 0zm-1 0zm-.5 0zm-.5 0zm-.5 0zm-.5 0zm-.5 0zm-.5 0zm-1 0zm-.5 0zm-.5 0zm-1 0zm-.5 0zm-.5 0zm-.5 0zm-2 0zm-3.5 0zm-1.5 0zm-1.5 0zm2 .5zm1 0zm3 0zm2.5 0zm2 0zm1.5 0zm.5 0zm2 0zm.5 0zm.5 0zm2 0zm2 0zm.5 0zm.5 0zm1 0zm1.5 0zm.5 0zm.5 0zm7 0zm1 0zm15.5 0zm.5 0zm6.5 0zm.5 0zm-9.5 .5zm-2 0zm-1 0zm-2.5 0zm-1.5 0zm-3 0zm-1 0zm-2 0zm-2.5 0zm-2 0zm-.5 0zm-3 0zm-2.5 0zm-1 0zm-1 0zm-3 0zm-1.5 0zm-2.5 0zm-.5 0zm-.5 0zm-.5 0zm-.5 0zm-.5 0zm-.5 0zm-.5 0zm-2 0zm-2 0zm-.5 0zm-2.5 0zm-.5 0zm-2 0zm-.5 0zm1.5 .5zm.5 0zm1 0zm1 0zm2 0zm3 0zm.5 0zm1 0zm.5 0zm.5 0zm.5 0zm1.5 0zm.5 0zm1 0zm1.5 0zm.5 0zm.5 0zm4.5 0zm.5 0zm.5 0zm.5 0zm2 0zm1 0zm4.5 0zm.5 0zm5 0zm2 0zm.5 0zm3 0zm3 0zm4 0zm1.5 0zm1.5 0zm-3.5 .5zm-6.5 0zm-8.5 0zm-.5 0zm-1 0zm-2.5 0zm-.5 0zm-3.5 0zm-.5 0zm-1 0zm-2.5 0zm-.5 0zm-.5 0zm-.5 0zm-.5 0zm-.5 0zm-2 0zm-.5 0zm-.5 0zm-1 0zm-.5 0zm-1 0zm-.5 0zm-.5 0zm-1 0zm-1 0zm-1 0zm-1.5 0zm-1.5 0zm-3 0zm-2 0zm-1.5 .5zm1 0zm.5 0zm2.5 0zm.5 0zm.5 0zm.5 0zm1.5 0zm1.5 0zm.5 0zm.5 0zm.5 0zm.5 0zm.5 0zm1 0zm.5 0zm1.5 0zm.5 0zm.5 0zm1 0zm1 0zm1 0zm.5 0zm5 0zm2 0zm3.5 0zm1.5 0zm.5 0zm17 0zm5.5 .5zm-2 0zm-4.5 0zm-8.5 0zm-4.5 0zm-2.5 0zm-1.5 0zm-.5 0zm-.5 0zm-3.5 0zm-1.5 0zm-.5 0zm-.5 0zm-.5 0zm-.5 0zm-.5 0zm-1 0zm-2.5 0zm-3 0zm-.5 0zm-1 0zm-.5 0zm-1 0zm-2 0zm-1 0zm-1 0zm-1 0zm-.5 0zm-2.5 0zm-1 0zm-1 0zm-.5 0zm1 .5zm.5 0zm1.5 0zm1 0zm1.5 0zm.5 0zm2 0zm.5 0zm1 0zm.5 0zm2 0zm.5 0zm1 0zm.5 0zm.5 0zm.5 0zm.5 0zm1 0zm.5 0zm1.5 0zm1 0zm1.5 0zm.5 0zm1 0zm.5 0zm2.5 0zm13.5 0zm.5 0zm1 0zm6.5 0zm5 .5zm-7 0zm-.5 0zm-.5 0zm-6 0zm-1.5 0zm-6 0zm-6.5 0zm-2 0zm-2 0zm-1.5 0zm-1.5 0zm-.5 0zm-.5 0zm-1.5 0zm-1.5 0zm-2 0zm-1 0zm-2 0zm-.5 0zm-.5 0zm-.5 0zm-.5 0zm-1 0zm-2 0zm-.5 0zm-5 .5zm2 0zm1 0zm3 0zm1 0zm1 0zm.5 0zm1.5 0zm.5 0zm1 0zm1 0zm5.5 0zm.5 0zm3 0zm.5 0zm2 0zm.5 0zm2.5 0zm2 0zm17 0zm2 0zm10 .5zm-12 0zm-5 0zm-13.5 0zm-.5 0zm-.5 0zm-2 0zm-.5 0zm-3 0zm-2 0zm-.5 0zm-.5 0zm-.5 0zm-1 0zm-1 0zm-2 0zm-.5 0zm-.5 0zm-2.5 0zm-1.5 0zm-.5 0zm-.5 0zm-3 0zm-1 0zm-1 .5zm6 0zm2.5 0zm2 0zm.5 0zm2.5 0zm3 0zm2.5 0zm1.5 0zm.5 0zm1.5 0zm2 0zm.5 0zm13.5 0zm16.5 0zm-21.5 .5zm-1.5 0zm-3.5 0zm-4.5 0zm-1.5 0zm-4.5 0zm-1 0zm-.5 0zm-.5 0zm-1.5 0zm-.5 0zm-.5 0zm-1 0zm-.5 0zm-1.5 0zm-.5 0zm-2 0zm-1.5 0zm-2.5 0zm-.5 0zm-.5 0zm-1 0zm-1.5 0zm-1 0zm4 .5zm.5 0zm3.5 0zm2.5 0zm.5 0zm1.5 0zm3 0zm1.5 0zm1.5 0zm1 0zm1.5 0zm.5 0zm.5 0zm.5 0zm2 0zm.5 0zm3.5 0zm10 0zm5.5 0zm0 .5zm-16 0zm-2.5 0zm-.5 0zm-6 0zm-3.5 0zm-2 0zm-.5 0zm-2.5 0zm-1 0zm-2.5 0zm-2 0zm-4.5 0zm-1 .5zm3.5 0zm1 0zm2 0zm7.5 0zm.5 0zm2.5 0zm.5 0zm2 0zm2 0zm6 0zm7.5 0zm-8 .5zm-2 0zm-1 0zm-1 0zm-11 0zm-4 0zm-3 0zm-.5 0zm-1.5 0zm0 .5zm.5 0zm2 0zm2 0zm.5 0zm1 0zm.5 0zm3 0zm5.5 0zm.5 0zm2 0zm.5 0zm8 0zm14 0zm-6 .5zm-4.5 0zm-12.5 0zm-1 0zm-.5 0zm-8.5 0zm-.5 0zm-3.5 0zm-4 0zm-1.5 .5zm1 0zm1 0zm1.5 0zm1 0zm2.5 0zm1.5 0zm2.5 0zm2 0zm4 0zm2 0zm6.5 0zm4 0zm7 0zm4 .5zm-20.5 0zm-3.5 0zm-2 0zm-2 0zm-4 0zm-1.5 0zm-1.5 0zm-7 .5zm5 0zm.5 0zm.5 0zm2 0zm3.5 0zm1.5 0zm4.5 0zm2 0zm6.5 0zm17.5 0zm-18.5 .5zm-3.5 0zm-.5 0zm-1.5 0zm-.5 0zm-5 0zm-2.5 0zm-1 0zm-.5 0zm-9 .5zm10 0zm7.5 0zm1.5 0zm5 0zm-4 .5zm-2.5 0zm-3.5 0zm-1 0zm-3 0zm-5.5 0zm-1 .5zm5 0zm8 0zm3.5 .5zm-3 0zm-1 0zm-1.5 0zm-1 0zm-5.5 0zm-2 0zm-6.5 .5zm10.5 0zm10.5 0zm4 0zm-10.5 .5zm-7.5 0zm10.5 .5zm2 0zm5.5 0zm12.5 0zm-16 .5zm-11.5 0zm-8.5 .5zm17 0zm11 0zm-5.5 .5zm-20.5 0zm-2 .5zm4.5 0zm19 .5zm-6 .5zm8 0zm-6 1z" stroke="#000" stroke-width="1.3" stroke-linecap="square" fill="none"/>
<g font-family="'Liberation Serif',serif" fill="#111" font-size="13.3">
<text x="278.5" y="10" text-anchor="middle" textLength="108.5" lengthAdjust="spacingAndGlyphs">No Transplantation</text>
<text x="279.6" y="218.8" text-anchor="middle" textLength="185.3" lengthAdjust="spacingAndGlyphs">Transplanted with Cultured Cells</text>
<text x="117.7" y="402.3" text-anchor="middle" textLength="43.4" lengthAdjust="spacingAndGlyphs">Thy-1.2</text>
<text x="283.5" y="404.2" text-anchor="middle" textLength="31.5" lengthAdjust="spacingAndGlyphs">B220</text>
<text x="453.7" y="403.8" text-anchor="middle" textLength="70" lengthAdjust="spacingAndGlyphs">Mac-1, Gr-1</text>
<text transform="translate(13,193) rotate(-90) scale(1,1.06)" text-anchor="middle" textLength="107" lengthAdjust="spacingAndGlyphs">Ly-5.1 (Donor Type)</text>
</g>
</svg>
</body></html>
